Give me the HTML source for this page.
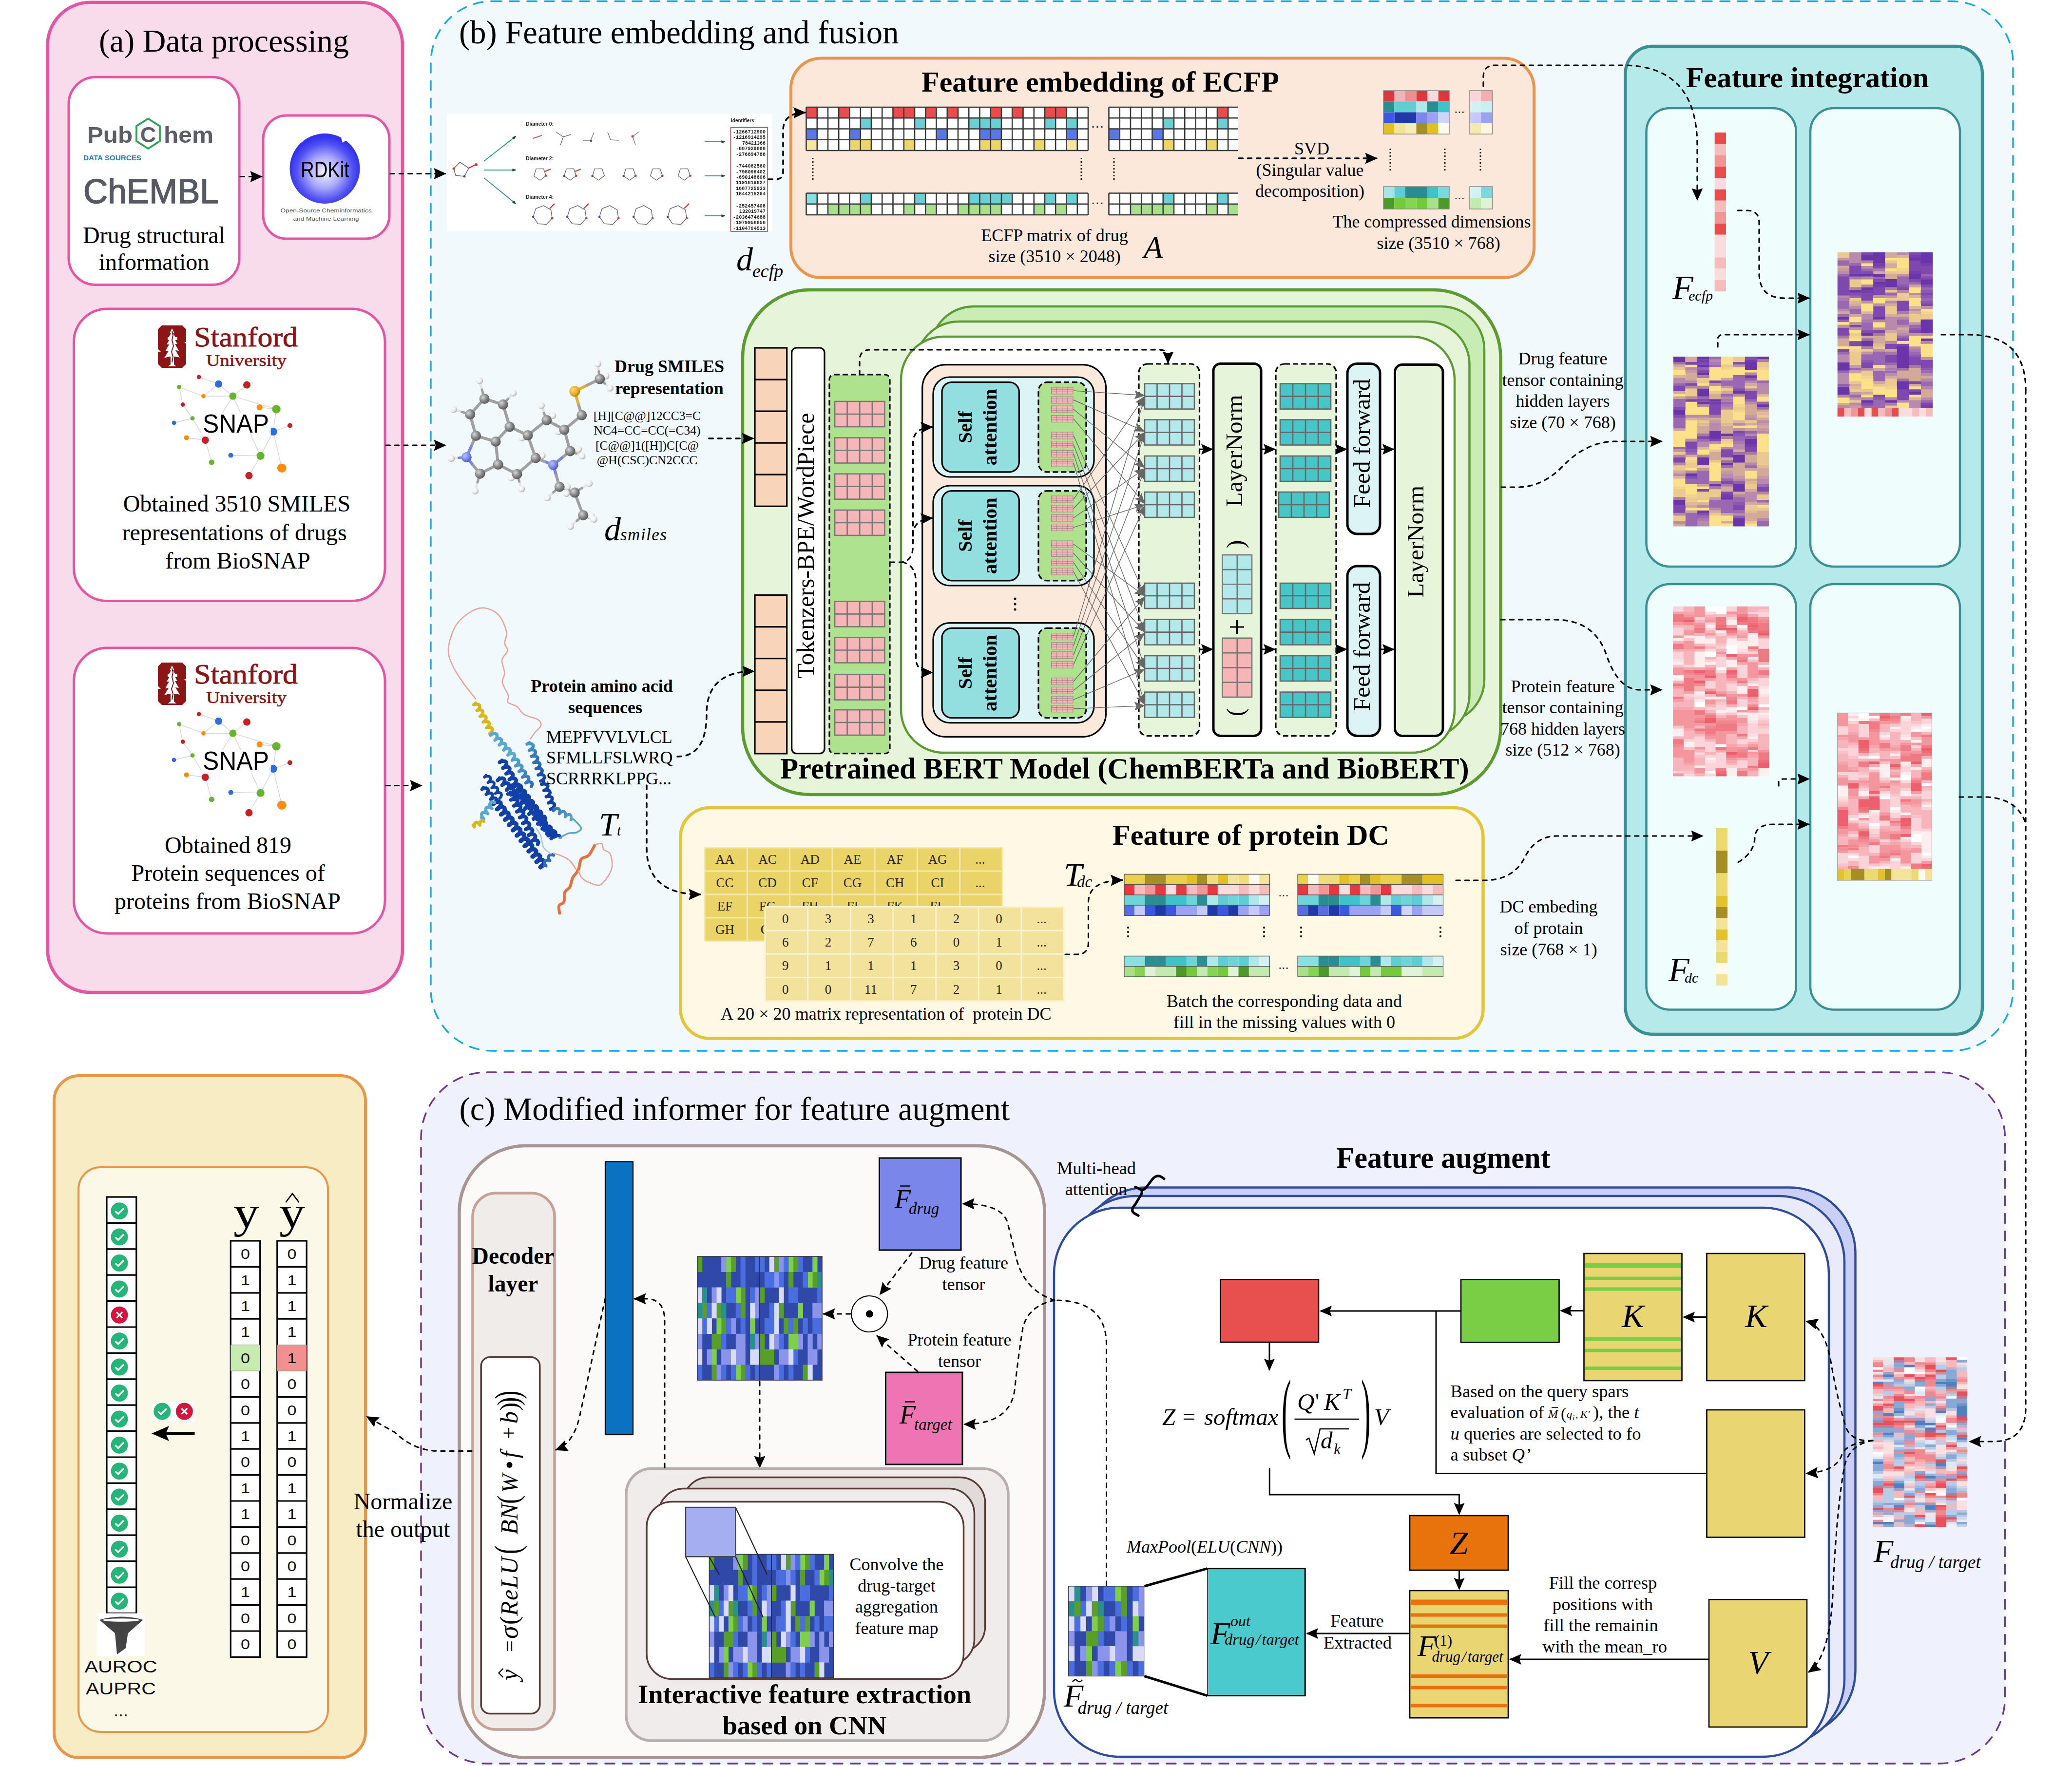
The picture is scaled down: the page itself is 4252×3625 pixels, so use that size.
<!DOCTYPE html>
<html><head><meta charset="utf-8"><title>Figure</title>
<style>html,body{margin:0;padding:0;background:#fff}svg{display:block}text{font-family:"Liberation Serif",serif;white-space:pre}text.s{font-family:"Liberation Sans",sans-serif}</style>
</head><body>
<svg width="4252" height="3625" viewBox="0 0 4252 3625">
<defs>
<marker id="ah" markerUnits="userSpaceOnUse" markerWidth="28" markerHeight="26" refX="23.5" refY="13" orient="auto"><path d="M0 1.5L25.5 13L0 24.5L3.5 13Z" fill="#000"/></marker>
<marker id="as" markerUnits="userSpaceOnUse" markerWidth="26" markerHeight="24" refX="23" refY="12" orient="auto"><path d="M0 1L25 12L0 23L4 12Z" fill="#000"/></marker>
<marker id="ag" markerUnits="userSpaceOnUse" markerWidth="24" markerHeight="20" refX="21" refY="10" orient="auto"><path d="M0 1L22 10L0 19L4 10Z" fill="#666"/></marker>
<filter id="bl" x="-5%" y="-5%" width="110%" height="110%"><feGaussianBlur stdDeviation="0.7"/></filter>
<radialGradient id="rdk" cx="0.5" cy="0.55" r="0.5"><stop offset="0" stop-color="#f4f4ff"/><stop offset="0.45" stop-color="#a9a9fb"/><stop offset="0.8" stop-color="#5252f3"/><stop offset="1" stop-color="#3434ee"/></radialGradient>
<radialGradient id="gc" cx="0.35" cy="0.35" r="0.7"><stop offset="0" stop-color="#d8d8d8"/><stop offset="0.5" stop-color="#8e8e8e"/><stop offset="1" stop-color="#555"/></radialGradient>
<radialGradient id="gh" cx="0.35" cy="0.35" r="0.7"><stop offset="0" stop-color="#fff"/><stop offset="0.6" stop-color="#ececec"/><stop offset="1" stop-color="#a8a8a8"/></radialGradient>
<radialGradient id="gn" cx="0.35" cy="0.35" r="0.7"><stop offset="0" stop-color="#b8c0ff"/><stop offset="0.6" stop-color="#7a86e8"/><stop offset="1" stop-color="#4a55b8"/></radialGradient>
<radialGradient id="gs" cx="0.35" cy="0.35" r="0.7"><stop offset="0" stop-color="#ffd870"/><stop offset="0.6" stop-color="#e8b030"/><stop offset="1" stop-color="#b88010"/></radialGradient>
</defs>
<rect width="4252" height="3625" fill="#fff"/>
<rect x="97.5" y="4.8" width="728.5" height="2032.2" rx="88" fill="#f9dcec" stroke="#e655a2" stroke-width="6.6" />
<text x="459.5" y="106" font-size="66" text-anchor="middle" >(a) Data processing</text>
<rect x="141" y="158.3" width="350" height="426.2" rx="55" fill="#fff" stroke="#e655a2" stroke-width="5" />
<rect x="540" y="237" width="259" height="253" rx="48" fill="#fff" stroke="#e655a2" stroke-width="5" />
<rect x="151.5" y="634" width="638.5" height="599.5" rx="68" fill="#fff" stroke="#e655a2" stroke-width="5" />
<rect x="151.5" y="1330" width="638.5" height="586" rx="68" fill="#fff" stroke="#e655a2" stroke-width="5" />
<text x="316" y="498.5" font-size="48" text-anchor="middle" >Drug structural</text>
<text x="316" y="553.5" font-size="48" text-anchor="middle" >information</text>
<text x="486" y="1050" font-size="48" text-anchor="middle" >Obtained 3510 SMILES</text>
<text x="481" y="1109" font-size="48" text-anchor="middle" >representations of drugs</text>
<text x="488" y="1166.5" font-size="48" text-anchor="middle" >from BioSNAP</text>
<text x="468" y="1751" font-size="48" text-anchor="middle" >Obtained 819</text>
<text x="468" y="1808" font-size="48" text-anchor="middle" >Protein sequences of</text>
<text x="467" y="1866" font-size="48" text-anchor="middle" >proteins from BioSNAP</text>
<text x="179" y="293" font-size="47" font-weight="bold" class="s" fill="#5b5e68" textLength="93" lengthAdjust="spacingAndGlyphs">Pub</text>
<text x="336" y="293" font-size="47" font-weight="bold" class="s" fill="#5b5e68" textLength="102" lengthAdjust="spacingAndGlyphs">hem</text>
<polygon points="328,289.7 304,305.1 280,289.7 280,258.9 304,243.5 328,258.9" fill="none" stroke="#2fa257" stroke-width="3.8"/>
<text x="304" y="291.5" font-size="45" text-anchor="middle" font-weight="bold" class="s" fill="#5b5e68" >C</text>
<text x="171" y="328.5" font-size="14.5" font-weight="bold" class="s" fill="#2a7fc0" textLength="119" lengthAdjust="spacingAndGlyphs">DATA SOURCES</text>
<text x="171" y="416.5" font-size="70" class="s" fill="#555a64" textLength="278" lengthAdjust="spacingAndGlyphs" stroke="#555a64" stroke-width="1.6">ChEMBL</text>
<circle cx="666.5" cy="346" r="72" fill="url(#rdk)"/>
<path d="M 700 283 Q 712 278 716 284 Q 708 290 703 293 Z" fill="#fff" stroke="none" stroke-width="0" />
<text x="667" y="364" font-size="47" text-anchor="middle" class="s" textLength="100" lengthAdjust="spacingAndGlyphs">RDKit</text>
<text x="669" y="436" font-size="10.5" text-anchor="middle" class="s" fill="#555" textLength="187" lengthAdjust="spacingAndGlyphs">Open-Source Cheminformatics</text>
<text x="669" y="453" font-size="10.5" text-anchor="middle" class="s" fill="#555" textLength="135" lengthAdjust="spacingAndGlyphs">and Machine Learning</text>
<g transform="translate(324,668)">
<path d="M8 0H50L58 8V34H40V24H20V30H50L58 38V79L50 87H8L0 79V54H18V64H38V56H8L0 48V8Z" fill="#8c1515"/>
<path d="M29 6L34 16L31 16L37 26L33 26L40 38L35 38L43 52L36 51L45 66L33 63L33 80L38 84H20L26 80L26 63L13 67L22 52L15 53L23 39L18 39L25 27L21 27L27 16L24 16Z" fill="#fff"/>
<path d="M29 12L31 20L29 30L32 42L28 54L31 64L29 76" fill="none" stroke="#8c1515" stroke-width="2"/>
</g>
<text x="398" y="710.5" font-size="58" fill="#8c1515" textLength="213" lengthAdjust="spacingAndGlyphs" stroke="#8c1515" stroke-width="0.9">Stanford</text>
<text x="423" y="751" font-size="33" fill="#8c1515" textLength="165" lengthAdjust="spacingAndGlyphs" stroke="#8c1515" stroke-width="0.6">University</text>
<path d="M408.1 773.8L448.6 788.2M367.6 794.4L417.4 813.1M417.4 813.1L448.6 788.2M417.4 813.1L477.9 813.1M477.9 813.1L506.5 790M367.6 794.4L375.1 830.5M477.9 813.1L567 839.9M357 867.9L395 858.6M395 858.6L375.1 830.5M532.7 836.1L567 839.9M560.7 886L595 873.5M560.7 886L567 839.9M382.6 898.4L421.2 903.4M421.2 903.4L434.3 948.9M421.2 903.4L395 858.6M473.5 934.6L534.6 935.8M534.6 935.8L510.9 976.3M534.6 935.8L560.7 886M560.7 886L578.2 960.7M477.9 813.1L421.2 903.4M477.9 813.1L534.6 935.8M448.6 788.2L477.9 813.1" fill="none" stroke="#d8d8d8" stroke-width="1.6" />
<circle cx="408.1" cy="773.8" r="4.4" fill="#c81e24"/>
<circle cx="448.6" cy="788.2" r="7.5" fill="#2d6fdc"/>
<circle cx="506.5" cy="790" r="7.5" fill="#c81e24"/>
<circle cx="367.6" cy="794.4" r="4.4" fill="#66b32e"/>
<circle cx="417.4" cy="813.1" r="4.4" fill="#ff8c0a"/>
<circle cx="477.9" cy="813.1" r="7.5" fill="#66b32e"/>
<circle cx="375.1" cy="830.5" r="4.4" fill="#c81e24"/>
<circle cx="532.7" cy="836.1" r="6.2" fill="#ff8c0a"/>
<circle cx="567" cy="839.9" r="8.7" fill="#66b32e"/>
<circle cx="357" cy="867.9" r="4.4" fill="#2d6fdc"/>
<circle cx="395" cy="858.6" r="4.4" fill="#66b32e"/>
<circle cx="595" cy="873.5" r="5" fill="#c81e24"/>
<circle cx="560.7" cy="886" r="8.1" fill="#2d6fdc"/>
<circle cx="382.6" cy="898.4" r="5" fill="#ff8c0a"/>
<circle cx="421.2" cy="903.4" r="7.5" fill="#c81e24"/>
<circle cx="473.5" cy="934.6" r="5" fill="#2d6fdc"/>
<circle cx="534.6" cy="935.8" r="8.1" fill="#66b32e"/>
<circle cx="434.3" cy="948.9" r="5.6" fill="#66b32e"/>
<circle cx="578.2" cy="960.7" r="9.3" fill="#ff8c0a"/>
<circle cx="510.9" cy="976.3" r="7.5" fill="#c81e24"/>
<rect x="412" y="848" width="144" height="46" fill="#fff" stroke="none" stroke-width="0" opacity="0.75"/>
<text x="416" y="888" font-size="54" class="s" textLength="136" lengthAdjust="spacingAndGlyphs">SNAP</text>
<g transform="translate(324,1360)">
<path d="M8 0H50L58 8V34H40V24H20V30H50L58 38V79L50 87H8L0 79V54H18V64H38V56H8L0 48V8Z" fill="#8c1515"/>
<path d="M29 6L34 16L31 16L37 26L33 26L40 38L35 38L43 52L36 51L45 66L33 63L33 80L38 84H20L26 80L26 63L13 67L22 52L15 53L23 39L18 39L25 27L21 27L27 16L24 16Z" fill="#fff"/>
<path d="M29 12L31 20L29 30L32 42L28 54L31 64L29 76" fill="none" stroke="#8c1515" stroke-width="2"/>
</g>
<text x="398" y="1402.5" font-size="58" fill="#8c1515" textLength="213" lengthAdjust="spacingAndGlyphs" stroke="#8c1515" stroke-width="0.9">Stanford</text>
<text x="423" y="1443" font-size="33" fill="#8c1515" textLength="165" lengthAdjust="spacingAndGlyphs" stroke="#8c1515" stroke-width="0.6">University</text>
<path d="M408.1 1465.8L448.6 1480.2M367.6 1486.4L417.4 1505.1M417.4 1505.1L448.6 1480.2M417.4 1505.1L477.9 1505.1M477.9 1505.1L506.5 1482M367.6 1486.4L375.1 1522.5M477.9 1505.1L567 1531.9M357 1559.9L395 1550.6M395 1550.6L375.1 1522.5M532.7 1528.1L567 1531.9M560.7 1578L595 1565.5M560.7 1578L567 1531.9M382.6 1590.4L421.2 1595.4M421.2 1595.4L434.3 1640.9M421.2 1595.4L395 1550.6M473.5 1626.6L534.6 1627.8M534.6 1627.8L510.9 1668.3M534.6 1627.8L560.7 1578M560.7 1578L578.2 1652.7M477.9 1505.1L421.2 1595.4M477.9 1505.1L534.6 1627.8M448.6 1480.2L477.9 1505.1" fill="none" stroke="#d8d8d8" stroke-width="1.6" />
<circle cx="408.1" cy="1465.8" r="4.4" fill="#c81e24"/>
<circle cx="448.6" cy="1480.2" r="7.5" fill="#2d6fdc"/>
<circle cx="506.5" cy="1482" r="7.5" fill="#c81e24"/>
<circle cx="367.6" cy="1486.4" r="4.4" fill="#66b32e"/>
<circle cx="417.4" cy="1505.1" r="4.4" fill="#ff8c0a"/>
<circle cx="477.9" cy="1505.1" r="7.5" fill="#66b32e"/>
<circle cx="375.1" cy="1522.5" r="4.4" fill="#c81e24"/>
<circle cx="532.7" cy="1528.1" r="6.2" fill="#ff8c0a"/>
<circle cx="567" cy="1531.9" r="8.7" fill="#66b32e"/>
<circle cx="357" cy="1559.9" r="4.4" fill="#2d6fdc"/>
<circle cx="395" cy="1550.6" r="4.4" fill="#66b32e"/>
<circle cx="595" cy="1565.5" r="5" fill="#c81e24"/>
<circle cx="560.7" cy="1578" r="8.1" fill="#2d6fdc"/>
<circle cx="382.6" cy="1590.4" r="5" fill="#ff8c0a"/>
<circle cx="421.2" cy="1595.4" r="7.5" fill="#c81e24"/>
<circle cx="473.5" cy="1626.6" r="5" fill="#2d6fdc"/>
<circle cx="534.6" cy="1627.8" r="8.1" fill="#66b32e"/>
<circle cx="434.3" cy="1640.9" r="5.6" fill="#66b32e"/>
<circle cx="578.2" cy="1652.7" r="9.3" fill="#ff8c0a"/>
<circle cx="510.9" cy="1668.3" r="7.5" fill="#c81e24"/>
<rect x="412" y="1540" width="144" height="46" fill="#fff" stroke="none" stroke-width="0" opacity="0.75"/>
<text x="416" y="1580" font-size="54" class="s" textLength="136" lengthAdjust="spacingAndGlyphs">SNAP</text>
<rect x="884" y="2.5" width="3247" height="2154.5" rx="126" fill="#f1f9fc" stroke="#0faaeb" stroke-width="3.4" stroke-dasharray="19 17" stroke-linecap="round"/>
<text x="942" y="88.5" font-size="66.6" >(b) Feature embedding and fusion</text>
<path d="M493 362.5H537" fill="none" stroke="#000" stroke-width="3.2" stroke-dasharray="8.3 10" stroke-linecap="round" marker-end="url(#ah)"/>
<path d="M801 356.5H914" fill="none" stroke="#000" stroke-width="3.2" stroke-dasharray="8.3 10" stroke-linecap="round" marker-end="url(#ah)"/>
<path d="M792 914H914" fill="none" stroke="#000" stroke-width="3.2" stroke-dasharray="8.3 10" stroke-linecap="round" marker-end="url(#ah)"/>
<path d="M792 1612.5H865" fill="none" stroke="#000" stroke-width="3.2" stroke-dasharray="8.3 10" stroke-linecap="round" marker-end="url(#ah)"/>
<rect x="917" y="234" width="667" height="241" fill="#fff" stroke="none" stroke-width="0" />
<g filter="url(#bl)">
<path d="M931 346 L944 333 L962 345 L953 362 L935 360 Z" fill="none" stroke="#666" stroke-width="1.6" />
<path d="M962 345 L976 338" fill="none" stroke="#d33" stroke-width="2.5" />
<circle cx="931" cy="346" r="2.5" fill="#d33"/><circle cx="953" cy="362" r="2.5" fill="#44a"/><circle cx="977" cy="338" r="3" fill="#d33"/>
<g stroke="#2a9d8f" stroke-width="2" fill="#2a9d8f">
<line x1="993" y1="331" x2="1058" y2="280"/>
<polygon points="1059.6,278.8 1054.8,286.4 1051,281.6" stroke="none" fill="#1d3a3a"/>
<line x1="993" y1="349" x2="1058" y2="349"/>
<polygon points="1060,349 1051.5,352.1 1051.5,345.9" stroke="none" fill="#1d3a3a"/>
<line x1="993" y1="365" x2="1058" y2="418"/>
<polygon points="1059.6,419.3 1051,416.3 1054.9,411.5" stroke="none" fill="#1d3a3a"/>
<line x1="1446" y1="291" x2="1487" y2="291"/>
<polygon points="1489,291 1480.5,294.1 1480.5,287.9" stroke="none" fill="#1d3a3a"/>
<line x1="1446" y1="361" x2="1487" y2="361"/>
<polygon points="1489,361 1480.5,364.1 1480.5,357.9" stroke="none" fill="#1d3a3a"/>
<line x1="1446" y1="443" x2="1487" y2="443"/>
<polygon points="1489,443 1480.5,446.1 1480.5,439.9" stroke="none" fill="#1d3a3a"/>
</g>
<text x="1079" y="257.5" font-size="10.5" font-weight="bold" class="s" fill="#222" >Diameter 0:</text>
<text x="1079" y="328.5" font-size="10.5" font-weight="bold" class="s" fill="#222" >Diameter 2:</text>
<text x="1079" y="408" font-size="10.5" font-weight="bold" class="s" fill="#222" >Diameter 4:</text>
<text x="1500" y="251" font-size="10" font-weight="bold" class="s" fill="#222" >Identifiers:</text>
<path d="M1094 284L1112 278" fill="none" stroke="#d55" stroke-width="2" />
<path d="M1141 271L1156 281L1172 276M1156 281L1150 298" fill="none" stroke="#666" stroke-width="1.4" />
<path d="M1196 288L1212 288L1219 272" fill="none" stroke="#778" stroke-width="1.4" />
<circle cx="1213" cy="289" r="2.3" fill="#44a"/>
<path d="M1247 271L1253 287L1270 288" fill="none" stroke="#777" stroke-width="1.4" />
<path d="M1312 270L1298 280L1304 297" fill="none" stroke="#777" stroke-width="1.4" />
<circle cx="1298" cy="280" r="2.5" fill="#d33"/>
<path d="M1120.4 360.8 L1108.2 370 L1095.7 361.2 L1100.2 346.6 L1115.5 346.4Z" fill="none" stroke="#666" stroke-width="1.4" />
<circle cx="1120.4" cy="360.8" r="2.3" fill="#d33"/>
<path d="M1118 352L1130 347" fill="none" stroke="#d33" stroke-width="2.2" />
<path d="M1182.4 360.8 L1170.2 370 L1157.7 361.2 L1162.2 346.6 L1177.5 346.4Z" fill="none" stroke="#666" stroke-width="1.4" />
<circle cx="1182.4" cy="360.8" r="2.3" fill="#d33"/>
<circle cx="1157.7" cy="361.2" r="2.3" fill="#44a"/>
<path d="M1180 352L1192 347" fill="none" stroke="#d33" stroke-width="2.2" />
<path d="M1240.4 360.8 L1228.2 370 L1215.7 361.2 L1220.2 346.6 L1235.5 346.4Z" fill="none" stroke="#666" stroke-width="1.4" />
<circle cx="1215.7" cy="361.2" r="2.3" fill="#44a"/>
<path d="M1304.4 360.8 L1292.2 370 L1279.7 361.2 L1284.2 346.6 L1299.5 346.4Z" fill="none" stroke="#666" stroke-width="1.4" />
<circle cx="1304.4" cy="360.8" r="2.3" fill="#d33"/>
<circle cx="1279.7" cy="361.2" r="2.3" fill="#44a"/>
<path d="M1359.4 360.8 L1347.2 370 L1334.7 361.2 L1339.2 346.6 L1354.5 346.4Z" fill="none" stroke="#666" stroke-width="1.4" />
<circle cx="1359.4" cy="360.8" r="2.3" fill="#d33"/>
<path d="M1416.4 360.8 L1404.2 370 L1391.7 361.2 L1396.2 346.6 L1411.5 346.4Z" fill="none" stroke="#666" stroke-width="1.4" />
<circle cx="1416.4" cy="360.8" r="2.3" fill="#d33"/>
<path d="M1133.1 447.9 L1121.3 460.6 L1104 459.3 L1094.2 445 L1099.3 428.4 L1115.5 422.1 L1130.5 430.7Z" fill="none" stroke="#666" stroke-width="1.4" />
<circle cx="1133.1" cy="447.9" r="2.3" fill="#d33"/>
<circle cx="1094.2" cy="445" r="2.3" fill="#44a"/>
<path d="M1128 428L1138 418" fill="none" stroke="#d33" stroke-width="2.4" />
<path d="M1203.1 447.9 L1191.3 460.6 L1174 459.3 L1164.2 445 L1169.3 428.4 L1185.5 422.1 L1200.5 430.7Z" fill="none" stroke="#666" stroke-width="1.4" />
<circle cx="1203.1" cy="447.9" r="2.3" fill="#d33"/>
<circle cx="1164.2" cy="445" r="2.3" fill="#44a"/>
<path d="M1198 428L1208 418" fill="none" stroke="#d33" stroke-width="2.4" />
<path d="M1269.1 447.9 L1257.3 460.6 L1240 459.3 L1230.2 445 L1235.3 428.4 L1251.5 422.1 L1266.5 430.7Z" fill="none" stroke="#666" stroke-width="1.4" />
<circle cx="1269.1" cy="447.9" r="2.3" fill="#d33"/>
<circle cx="1230.2" cy="445" r="2.3" fill="#44a"/>
<path d="M1339.1 447.9 L1327.3 460.6 L1310 459.3 L1300.2 445 L1305.3 428.4 L1321.5 422.1 L1336.5 430.7Z" fill="none" stroke="#666" stroke-width="1.4" />
<circle cx="1339.1" cy="447.9" r="2.3" fill="#d33"/>
<circle cx="1300.2" cy="445" r="2.3" fill="#44a"/>
<path d="M1409.1 447.9 L1397.3 460.6 L1380 459.3 L1370.2 445 L1375.3 428.4 L1391.5 422.1 L1406.5 430.7Z" fill="none" stroke="#666" stroke-width="1.4" />
<circle cx="1409.1" cy="447.9" r="2.3" fill="#d33"/>
<circle cx="1370.2" cy="445" r="2.3" fill="#44a"/>
<path d="M1404 428L1414 418" fill="none" stroke="#d33" stroke-width="2.4" />
<rect x="1499.5" y="261.5" width="75.5" height="213.5" fill="#fff" stroke="#e33" stroke-width="1.6" />
<text x="1571" y="273.5" font-size="10" text-anchor="end" font-weight="bold" class="s" fill="#222" textLength="67" lengthAdjust="spacingAndGlyphs" style="font-family:Liberation Mono">-1266712900</text>
<text x="1571" y="285" font-size="10" text-anchor="end" font-weight="bold" class="s" fill="#222" textLength="67" lengthAdjust="spacingAndGlyphs" style="font-family:Liberation Mono">-1216914295</text>
<text x="1571" y="296.5" font-size="10" text-anchor="end" font-weight="bold" class="s" fill="#222" textLength="48" lengthAdjust="spacingAndGlyphs" style="font-family:Liberation Mono">78421366</text>
<text x="1571" y="308" font-size="10" text-anchor="end" font-weight="bold" class="s" fill="#222" textLength="61" lengthAdjust="spacingAndGlyphs" style="font-family:Liberation Mono">-887929888</text>
<text x="1571" y="319.5" font-size="10" text-anchor="end" font-weight="bold" class="s" fill="#222" textLength="61" lengthAdjust="spacingAndGlyphs" style="font-family:Liberation Mono">-276894788</text>
<text x="1571" y="344" font-size="10" text-anchor="end" font-weight="bold" class="s" fill="#222" textLength="61" lengthAdjust="spacingAndGlyphs" style="font-family:Liberation Mono">-744082560</text>
<text x="1571" y="355.5" font-size="10" text-anchor="end" font-weight="bold" class="s" fill="#222" textLength="61" lengthAdjust="spacingAndGlyphs" style="font-family:Liberation Mono">-798098402</text>
<text x="1571" y="366.5" font-size="10" text-anchor="end" font-weight="bold" class="s" fill="#222" textLength="61" lengthAdjust="spacingAndGlyphs" style="font-family:Liberation Mono">-690148606</text>
<text x="1571" y="378" font-size="10" text-anchor="end" font-weight="bold" class="s" fill="#222" textLength="61" lengthAdjust="spacingAndGlyphs" style="font-family:Liberation Mono">1191819827</text>
<text x="1571" y="389.5" font-size="10" text-anchor="end" font-weight="bold" class="s" fill="#222" textLength="61" lengthAdjust="spacingAndGlyphs" style="font-family:Liberation Mono">1687725933</text>
<text x="1571" y="401" font-size="10" text-anchor="end" font-weight="bold" class="s" fill="#222" textLength="61" lengthAdjust="spacingAndGlyphs" style="font-family:Liberation Mono">1844215264</text>
<text x="1571" y="425.5" font-size="10" text-anchor="end" font-weight="bold" class="s" fill="#222" textLength="61" lengthAdjust="spacingAndGlyphs" style="font-family:Liberation Mono">-252457408</text>
<text x="1571" y="437" font-size="10" text-anchor="end" font-weight="bold" class="s" fill="#222" textLength="54" lengthAdjust="spacingAndGlyphs" style="font-family:Liberation Mono">132019747</text>
<text x="1571" y="448.5" font-size="10" text-anchor="end" font-weight="bold" class="s" fill="#222" textLength="67" lengthAdjust="spacingAndGlyphs" style="font-family:Liberation Mono">-2036474688</text>
<text x="1571" y="459.5" font-size="10" text-anchor="end" font-weight="bold" class="s" fill="#222" textLength="67" lengthAdjust="spacingAndGlyphs" style="font-family:Liberation Mono">-1979958858</text>
<text x="1571" y="471.5" font-size="10" text-anchor="end" font-weight="bold" class="s" fill="#222" textLength="67" lengthAdjust="spacingAndGlyphs" style="font-family:Liberation Mono">-1104704513</text>
</g>
<text x="1511" y="555" font-size="68" font-style="italic" >d</text>
<text x="1544" y="569" font-size="38" font-style="italic" >ecfp</text>
<rect x="1623" y="119.5" width="1525" height="450.5" rx="62" fill="#fbe8da" stroke="#e9964a" stroke-width="6" />
<text x="2258" y="188" font-size="60" text-anchor="middle" font-weight="bold" >Feature embedding of ECFP</text>
<rect x="1654.5" y="220" width="578.5" height="89" fill="#fff" stroke="none" stroke-width="0" />
<path d="M1654.5 220h22.2v22.2h-22.2zM1721.2 220h22.2v22.2h-22.2zM1832.5 220h22.2v22.2h-22.2zM1854.8 220h22.2v22.2h-22.2zM1899.2 220h22.2v22.2h-22.2zM1943.8 220h22.2v22.2h-22.2zM2032.8 220h22.2v22.2h-22.2zM2077.2 220h22.2v22.2h-22.2zM2144 220h22.2v22.2h-22.2zM2166.2 220h22.2v22.2h-22.2z" fill="#e84c4c"/>
<path d="M1765.8 242.2h22.2v22.2h-22.2zM1877 242.2h22.2v22.2h-22.2zM1988.2 242.2h22.2v22.2h-22.2zM2010.5 242.2h22.2v22.2h-22.2zM2032.8 242.2h22.2v22.2h-22.2zM2144 242.2h22.2v22.2h-22.2zM2188.5 242.2h22.2v22.2h-22.2z" fill="#6ad0d4"/>
<path d="M1654.5 264.5h22.2v22.2h-22.2zM1743.5 264.5h22.2v22.2h-22.2zM1921.5 264.5h22.2v22.2h-22.2zM2010.5 264.5h22.2v22.2h-22.2zM2032.8 264.5h22.2v22.2h-22.2zM2188.5 264.5h22.2v22.2h-22.2z" fill="#5b78e0"/>
<path d="M1654.5 286.8h22.2v22.2h-22.2zM2188.5 286.8h22.2v22.2h-22.2z" fill="#f5e6a3"/>
<path d="M1743.5 286.8h22.2v22.2h-22.2zM1765.8 286.8h22.2v22.2h-22.2zM1854.8 286.8h22.2v22.2h-22.2zM2010.5 286.8h22.2v22.2h-22.2zM2032.8 286.8h22.2v22.2h-22.2zM2121.8 286.8h22.2v22.2h-22.2z" fill="#ecd56a"/>
<path d="M1654.5 220v89M1676.8 220v89M1699 220v89M1721.2 220v89M1743.5 220v89M1765.8 220v89M1788 220v89M1810.2 220v89M1832.5 220v89M1854.8 220v89M1877 220v89M1899.2 220v89M1921.5 220v89M1943.8 220v89M1966 220v89M1988.2 220v89M2010.5 220v89M2032.8 220v89M2055 220v89M2077.2 220v89M2099.5 220v89M2121.8 220v89M2144 220v89M2166.2 220v89M2188.5 220v89M2210.8 220v89M2233 220v89M1654.5 220h578.5M1654.5 242.2h578.5M1654.5 264.5h578.5M1654.5 286.8h578.5M1654.5 309h578.5" fill="none" stroke="#3a3a3a" stroke-width="2.6" />
<rect x="2275.5" y="220" width="267" height="89" fill="#fff" stroke="none" stroke-width="0" />
<path d="M2498 220h22.2v22.2h-22.2z" fill="#e84c4c"/>
<path d="M2386.8 242.2h22.2v22.2h-22.2zM2498 242.2h22.2v22.2h-22.2z" fill="#6ad0d4"/>
<path d="M2275.5 264.5h22.2v22.2h-22.2zM2364.5 264.5h22.2v22.2h-22.2z" fill="#5b78e0"/>
<path d="M2386.8 286.8h22.2v22.2h-22.2zM2475.8 286.8h22.2v22.2h-22.2z" fill="#ecd56a"/>
<path d="M2275.5 220v89M2297.8 220v89M2320 220v89M2342.2 220v89M2364.5 220v89M2386.8 220v89M2409 220v89M2431.2 220v89M2453.5 220v89M2475.8 220v89M2498 220v89M2520.2 220v89M2542.5 220v89M2275.5 220h267M2275.5 242.2h267M2275.5 264.5h267M2275.5 286.8h267M2275.5 309h267" fill="none" stroke="#3a3a3a" stroke-width="2.6" />
<rect x="1654.5" y="396.5" width="578.5" height="44.5" fill="#fff" stroke="none" stroke-width="0" />
<path d="M1654.5 396.5h22.2v22.2h-22.2z" fill="#8adfe0"/>
<path d="M1765.8 396.5h22.2v22.2h-22.2zM1877 396.5h22.2v22.2h-22.2zM1988.2 396.5h22.2v22.2h-22.2zM2010.5 396.5h22.2v22.2h-22.2zM2032.8 396.5h22.2v22.2h-22.2zM2055 396.5h22.2v22.2h-22.2zM2144 396.5h22.2v22.2h-22.2zM2188.5 396.5h22.2v22.2h-22.2z" fill="#6ad0d4"/>
<path d="M1699 418.8h22.2v22.2h-22.2zM1721.2 418.8h22.2v22.2h-22.2zM1743.5 418.8h22.2v22.2h-22.2zM1765.8 418.8h22.2v22.2h-22.2zM1854.8 418.8h22.2v22.2h-22.2zM1899.2 418.8h22.2v22.2h-22.2zM1966 418.8h22.2v22.2h-22.2zM1988.2 418.8h22.2v22.2h-22.2zM2010.5 418.8h22.2v22.2h-22.2zM2032.8 418.8h22.2v22.2h-22.2zM2121.8 418.8h22.2v22.2h-22.2zM2166.2 418.8h22.2v22.2h-22.2z" fill="#a8e08c"/>
<path d="M1654.5 396.5v44.5M1676.8 396.5v44.5M1699 396.5v44.5M1721.2 396.5v44.5M1743.5 396.5v44.5M1765.8 396.5v44.5M1788 396.5v44.5M1810.2 396.5v44.5M1832.5 396.5v44.5M1854.8 396.5v44.5M1877 396.5v44.5M1899.2 396.5v44.5M1921.5 396.5v44.5M1943.8 396.5v44.5M1966 396.5v44.5M1988.2 396.5v44.5M2010.5 396.5v44.5M2032.8 396.5v44.5M2055 396.5v44.5M2077.2 396.5v44.5M2099.5 396.5v44.5M2121.8 396.5v44.5M2144 396.5v44.5M2166.2 396.5v44.5M2188.5 396.5v44.5M2210.8 396.5v44.5M2233 396.5v44.5M1654.5 396.5h578.5M1654.5 418.8h578.5M1654.5 441h578.5" fill="none" stroke="#3a3a3a" stroke-width="2.6" />
<rect x="2275.5" y="396.5" width="267" height="44.5" fill="#fff" stroke="none" stroke-width="0" />
<path d="M2386.8 396.5h22.2v22.2h-22.2zM2498 396.5h22.2v22.2h-22.2z" fill="#6ad0d4"/>
<path d="M2320 418.8h22.2v22.2h-22.2zM2342.2 418.8h22.2v22.2h-22.2zM2364.5 418.8h22.2v22.2h-22.2zM2386.8 418.8h22.2v22.2h-22.2zM2475.8 418.8h22.2v22.2h-22.2zM2520.2 418.8h22.2v22.2h-22.2z" fill="#a8e08c"/>
<path d="M2275.5 396.5v44.5M2297.8 396.5v44.5M2320 396.5v44.5M2342.2 396.5v44.5M2364.5 396.5v44.5M2386.8 396.5v44.5M2409 396.5v44.5M2431.2 396.5v44.5M2453.5 396.5v44.5M2475.8 396.5v44.5M2498 396.5v44.5M2520.2 396.5v44.5M2542.5 396.5v44.5M2275.5 396.5h267M2275.5 418.8h267M2275.5 441h267" fill="none" stroke="#3a3a3a" stroke-width="2.6" />
<rect x="2541" y="215" width="7" height="232" fill="#fbe8da" stroke="none" stroke-width="0" />
<text x="2239" y="262" font-size="30" class="s" fill="#333" textLength="26">...</text>
<text x="2239" y="419" font-size="30" class="s" fill="#333" textLength="26">...</text>
<path d="M1668 324V372" fill="none" stroke="#222" stroke-width="3" stroke-dasharray="3 4"/>
<path d="M2219 324V372" fill="none" stroke="#222" stroke-width="3" stroke-dasharray="3 4"/>
<path d="M2286 324V372" fill="none" stroke="#222" stroke-width="3" stroke-dasharray="3 4"/>
<text x="2692" y="317" font-size="36" text-anchor="middle" >SVD</text>
<path d="M2542 325H2825" fill="none" stroke="#000" stroke-width="3.5" stroke-dasharray="8.3 10" stroke-linecap="round" marker-end="url(#ah)"/>
<text x="2688" y="361" font-size="36" text-anchor="middle" >(Singular value</text>
<text x="2688" y="403.5" font-size="36" text-anchor="middle" >decomposition)</text>
<path d="M2839 186h22.5v22.3h-22.5zM2906.5 186h22.5v22.3h-22.5zM2951.5 186h22.5v22.3h-22.5z" fill="#e0373e"/>
<path d="M2861.5 186h22.5v22.3h-22.5z" fill="#f3b4b8"/>
<path d="M2884 186h22.5v22.3h-22.5z" fill="#ee8e93"/>
<path d="M2929 186h22.5v22.3h-22.5z" fill="#f9d9dc"/>
<path d="M2839 208.3h22.5v22.3h-22.5zM2929 208.3h22.5v22.3h-22.5z" fill="#2a8d92"/>
<path d="M2861.5 208.3h22.5v22.3h-22.5zM2884 208.3h22.5v22.3h-22.5z" fill="#62cdd3"/>
<path d="M2906.5 208.3h22.5v22.3h-22.5z" fill="#aee8ea"/>
<path d="M2951.5 208.3h22.5v22.3h-22.5z" fill="#3fc3c8"/>
<path d="M2839 230.6h22.5v22.3h-22.5z" fill="#3c57e0"/>
<path d="M2861.5 230.6h22.5v22.3h-22.5zM2884 230.6h22.5v22.3h-22.5z" fill="#2139a8"/>
<path d="M2906.5 230.6h22.5v22.3h-22.5z" fill="#7d87ea"/>
<path d="M2929 230.6h22.5v22.3h-22.5z" fill="#9ba3f0"/>
<path d="M2951.5 230.6h22.5v22.3h-22.5z" fill="#d0d4fa"/>
<path d="M2839 252.9h22.5v22.3h-22.5zM2929 252.9h22.5v22.3h-22.5z" fill="#e3c022"/>
<path d="M2861.5 252.9h22.5v22.3h-22.5z" fill="#f3e49a"/>
<path d="M2884 252.9h22.5v22.3h-22.5z" fill="#f6edbb"/>
<path d="M2906.5 252.9h22.5v22.3h-22.5z" fill="#a58e24"/>
<path d="M2951.5 252.9h22.5v22.3h-22.5z" fill="#fdfbee"/>
<rect x="2839" y="186" width="135" height="89.2" fill="none" stroke="#888" stroke-width="1.5" />
<path d="M3016 186h23.2v22.3h-23.2z" fill="#f9d4d8"/>
<path d="M3039.2 186h23.2v22.3h-23.2z" fill="#f3adb3"/>
<path d="M3016 208.3h23.2v22.3h-23.2z" fill="#d3f1f3"/>
<path d="M3039.2 208.3h23.2v22.3h-23.2z" fill="#c9f0f1"/>
<path d="M3016 230.6h23.2v22.3h-23.2z" fill="#c5c9f8"/>
<path d="M3039.2 230.6h23.2v22.3h-23.2z" fill="#9ba3f0"/>
<path d="M3016 252.9h23.2v22.3h-23.2z" fill="#f6e9ae"/>
<path d="M3039.2 252.9h23.2v22.3h-23.2z" fill="#fbf7e0"/>
<rect x="3016" y="186" width="46.4" height="89.2" fill="none" stroke="#888" stroke-width="1.5" />
<path d="M2839 383h22.5v23h-22.5z" fill="#a5e5e8"/>
<path d="M2861.5 383h22.5v23h-22.5z" fill="#5fcdd3"/>
<path d="M2884 383h22.5v23h-22.5zM2906.5 383h22.5v23h-22.5z" fill="#2a8d92"/>
<path d="M2929 383h22.5v23h-22.5z" fill="#3fc3c8"/>
<path d="M2951.5 383h22.5v23h-22.5z" fill="#7ad9dc"/>
<path d="M2839 406h22.5v23h-22.5zM2951.5 406h22.5v23h-22.5z" fill="#4c9a2a"/>
<path d="M2861.5 406h22.5v23h-22.5zM2906.5 406h22.5v23h-22.5z" fill="#73cb3b"/>
<path d="M2884 406h22.5v23h-22.5z" fill="#85d553"/>
<path d="M2929 406h22.5v23h-22.5z" fill="#a8e08c"/>
<rect x="2839" y="383" width="135" height="46" fill="none" stroke="#888" stroke-width="1.5" />
<path d="M3016 383h23.2v23h-23.2z" fill="#d3f1f3"/>
<path d="M3039.2 383h23.2v23h-23.2z" fill="#7ad9dc"/>
<path d="M3016 406h23.2v23h-23.2z" fill="#c3ebb0"/>
<path d="M3039.2 406h23.2v23h-23.2z" fill="#dff3d5"/>
<rect x="3016" y="383" width="46.4" height="46" fill="none" stroke="#888" stroke-width="1.5" />
<text x="2995" y="232" font-size="28" text-anchor="middle" class="s" fill="#333" textLength="22">...</text>
<text x="2995" y="409" font-size="28" text-anchor="middle" class="s" fill="#333" textLength="22">...</text>
<path d="M2853 305V352" fill="none" stroke="#222" stroke-width="3" stroke-dasharray="3 4"/>
<path d="M2965 305V352" fill="none" stroke="#222" stroke-width="3" stroke-dasharray="3 4"/>
<path d="M3038 305V352" fill="none" stroke="#222" stroke-width="3" stroke-dasharray="3 4"/>
<text x="2938" y="467" font-size="36" text-anchor="middle" textLength="407">The compressed dimensions</text>
<text x="2952" y="510.5" font-size="36" text-anchor="middle" >size (3510 × 768)</text>
<text x="2164" y="495" font-size="36" text-anchor="middle" >ECFP matrix of drug</text>
<text x="2164" y="538" font-size="36" text-anchor="middle" >size (3510 × 2048)</text>
<text x="2347" y="529" font-size="64" font-style="italic" >A</text>
<path d="M1577 368H1592Q1607 368 1607 353V268Q1607 232 1652 231" fill="none" stroke="#000" stroke-width="3.5" stroke-dasharray="8.3 10" stroke-linecap="round" marker-end="url(#ah)"/>
<g stroke-linecap="round">
<line x1="994.1" y1="818.5" x2="1013.2" y2="824.4" stroke="#a0a0a0" stroke-width="6"/>
<line x1="1013.2" y1="824.4" x2="1032.3" y2="830.3" stroke="#a0a0a0" stroke-width="6"/>
<line x1="994.1" y1="818.5" x2="979.4" y2="834.6" stroke="#a0a0a0" stroke-width="6"/>
<line x1="979.4" y1="834.6" x2="964.7" y2="850.6" stroke="#a0a0a0" stroke-width="6"/>
<line x1="964.7" y1="850.6" x2="970.6" y2="872.6" stroke="#a0a0a0" stroke-width="6"/>
<line x1="970.6" y1="872.6" x2="976.6" y2="894.5" stroke="#a0a0a0" stroke-width="6"/>
<line x1="976.6" y1="894.5" x2="996.8" y2="900.4" stroke="#a0a0a0" stroke-width="6"/>
<line x1="996.8" y1="900.4" x2="1017.1" y2="906.4" stroke="#a0a0a0" stroke-width="6"/>
<line x1="1017.1" y1="906.4" x2="1031.5" y2="891.1" stroke="#a0a0a0" stroke-width="6"/>
<line x1="1031.5" y1="891.1" x2="1045.8" y2="875.9" stroke="#a0a0a0" stroke-width="6"/>
<line x1="1045.8" y1="875.9" x2="1039.1" y2="853.1" stroke="#a0a0a0" stroke-width="6"/>
<line x1="1039.1" y1="853.1" x2="1032.3" y2="830.3" stroke="#a0a0a0" stroke-width="6"/>
<line x1="1045.8" y1="875.9" x2="1064.4" y2="884.7" stroke="#a0a0a0" stroke-width="6"/>
<line x1="1064.4" y1="884.7" x2="1083" y2="893.5" stroke="#a0a0a0" stroke-width="6"/>
<line x1="976.6" y1="894.5" x2="966.9" y2="916.5" stroke="#a0a0a0" stroke-width="6"/>
<line x1="966.9" y1="916.5" x2="957.3" y2="938.4" stroke="#7a86e8" stroke-width="6"/>
<line x1="957.3" y1="938.4" x2="971.1" y2="955.3" stroke="#7a86e8" stroke-width="6"/>
<line x1="971.1" y1="955.3" x2="985" y2="972.2" stroke="#a0a0a0" stroke-width="6"/>
<line x1="985" y1="972.2" x2="1003.6" y2="962.9" stroke="#a0a0a0" stroke-width="6"/>
<line x1="1003.6" y1="962.9" x2="1022.2" y2="953.6" stroke="#a0a0a0" stroke-width="6"/>
<line x1="1022.2" y1="953.6" x2="1019.6" y2="930" stroke="#a0a0a0" stroke-width="6"/>
<line x1="1019.6" y1="930" x2="1017.1" y2="906.4" stroke="#a0a0a0" stroke-width="6"/>
<line x1="1022.2" y1="953.6" x2="1041.6" y2="963.4" stroke="#a0a0a0" stroke-width="6"/>
<line x1="1041.6" y1="963.4" x2="1061" y2="973.2" stroke="#a0a0a0" stroke-width="6"/>
<line x1="1061" y1="973.2" x2="1080.1" y2="956.7" stroke="#a0a0a0" stroke-width="6"/>
<line x1="1080.1" y1="956.7" x2="1099.2" y2="940.1" stroke="#a0a0a0" stroke-width="6"/>
<line x1="1099.2" y1="940.1" x2="1091.1" y2="916.8" stroke="#a0a0a0" stroke-width="6"/>
<line x1="1091.1" y1="916.8" x2="1083" y2="893.5" stroke="#a0a0a0" stroke-width="6"/>
<line x1="1083" y1="893.5" x2="1102.4" y2="878" stroke="#a0a0a0" stroke-width="6"/>
<line x1="1102.4" y1="878" x2="1121.8" y2="862.4" stroke="#a0a0a0" stroke-width="6"/>
<line x1="1121.8" y1="862.4" x2="1139.9" y2="872.2" stroke="#a0a0a0" stroke-width="6"/>
<line x1="1139.9" y1="872.2" x2="1158" y2="882" stroke="#a0a0a0" stroke-width="6"/>
<line x1="1158" y1="882" x2="1164.1" y2="904" stroke="#a0a0a0" stroke-width="6"/>
<line x1="1164.1" y1="904" x2="1170.1" y2="925.9" stroke="#a0a0a0" stroke-width="6"/>
<line x1="1170.1" y1="925.9" x2="1152.7" y2="940.1" stroke="#a0a0a0" stroke-width="6"/>
<line x1="1152.7" y1="940.1" x2="1135.3" y2="954.3" stroke="#7a86e8" stroke-width="6"/>
<line x1="1135.3" y1="954.3" x2="1117.3" y2="947.2" stroke="#7a86e8" stroke-width="6"/>
<line x1="1117.3" y1="947.2" x2="1099.2" y2="940.1" stroke="#a0a0a0" stroke-width="6"/>
<line x1="1158" y1="882" x2="1175.9" y2="867.2" stroke="#a0a0a0" stroke-width="6"/>
<line x1="1175.9" y1="867.2" x2="1193.8" y2="852.3" stroke="#a0a0a0" stroke-width="6"/>
<line x1="1193.8" y1="852.3" x2="1186.5" y2="827.8" stroke="#a0a0a0" stroke-width="6"/>
<line x1="1186.5" y1="827.8" x2="1179.3" y2="803.3" stroke="#e8b030" stroke-width="6"/>
<line x1="1179.3" y1="803.3" x2="1205.1" y2="790.6" stroke="#e8b030" stroke-width="6"/>
<line x1="1205.1" y1="790.6" x2="1230.9" y2="778" stroke="#a0a0a0" stroke-width="6"/>
<line x1="1135.3" y1="954.3" x2="1141.8" y2="976.8" stroke="#7a86e8" stroke-width="6"/>
<line x1="1141.8" y1="976.8" x2="1148.2" y2="999.3" stroke="#a0a0a0" stroke-width="6"/>
<line x1="1148.2" y1="999.3" x2="1163.7" y2="1005.2" stroke="#a0a0a0" stroke-width="6"/>
<line x1="1163.7" y1="1005.2" x2="1179.3" y2="1011.1" stroke="#a0a0a0" stroke-width="6"/>
<line x1="1179.3" y1="1011.1" x2="1188" y2="1034.4" stroke="#a0a0a0" stroke-width="6"/>
<line x1="1188" y1="1034.4" x2="1196.8" y2="1057.7" stroke="#a0a0a0" stroke-width="6"/>
<line x1="984" y1="781.4" x2="989.1" y2="799.9" stroke="#e4e4e4" stroke-width="5"/>
<line x1="989.1" y1="799.9" x2="994.1" y2="818.5" stroke="#a0a0a0" stroke-width="5"/>
<line x1="1053.2" y1="806.7" x2="1042.8" y2="818.5" stroke="#e4e4e4" stroke-width="5"/>
<line x1="1042.8" y1="818.5" x2="1032.3" y2="830.3" stroke="#a0a0a0" stroke-width="5"/>
<line x1="930.9" y1="840.5" x2="947.8" y2="845.5" stroke="#e4e4e4" stroke-width="5"/>
<line x1="947.8" y1="845.5" x2="964.7" y2="850.6" stroke="#a0a0a0" stroke-width="5"/>
<line x1="925.9" y1="941.1" x2="941.6" y2="939.8" stroke="#e4e4e4" stroke-width="5"/>
<line x1="941.6" y1="939.8" x2="957.3" y2="938.4" stroke="#7a86e8" stroke-width="5"/>
<line x1="974.9" y1="1007.7" x2="979.9" y2="990" stroke="#e4e4e4" stroke-width="5"/>
<line x1="979.9" y1="990" x2="985" y2="972.2" stroke="#a0a0a0" stroke-width="5"/>
<line x1="1070.1" y1="1003.6" x2="1065.6" y2="988.4" stroke="#e4e4e4" stroke-width="5"/>
<line x1="1065.6" y1="988.4" x2="1061" y2="973.2" stroke="#a0a0a0" stroke-width="5"/>
<line x1="1049.2" y1="980.7" x2="1055.1" y2="977" stroke="#e4e4e4" stroke-width="5"/>
<line x1="1055.1" y1="977" x2="1061" y2="973.2" stroke="#a0a0a0" stroke-width="5"/>
<line x1="1110.7" y1="832.7" x2="1116.2" y2="847.6" stroke="#e4e4e4" stroke-width="5"/>
<line x1="1116.2" y1="847.6" x2="1121.8" y2="862.4" stroke="#a0a0a0" stroke-width="5"/>
<line x1="1134.3" y1="853" x2="1128.1" y2="857.7" stroke="#e4e4e4" stroke-width="5"/>
<line x1="1128.1" y1="857.7" x2="1121.8" y2="862.4" stroke="#a0a0a0" stroke-width="5"/>
<line x1="1071.1" y1="898.9" x2="1077.1" y2="896.2" stroke="#e4e4e4" stroke-width="5"/>
<line x1="1077.1" y1="896.2" x2="1083" y2="893.5" stroke="#a0a0a0" stroke-width="5"/>
<line x1="1145.5" y1="886.1" x2="1151.7" y2="884.1" stroke="#e4e4e4" stroke-width="5"/>
<line x1="1151.7" y1="884.1" x2="1158" y2="882" stroke="#a0a0a0" stroke-width="5"/>
<line x1="1112.7" y1="935.1" x2="1105.9" y2="937.6" stroke="#e4e4e4" stroke-width="5"/>
<line x1="1105.9" y1="937.6" x2="1099.2" y2="940.1" stroke="#a0a0a0" stroke-width="5"/>
<line x1="1187" y1="922.6" x2="1178.6" y2="924.3" stroke="#e4e4e4" stroke-width="5"/>
<line x1="1178.6" y1="924.3" x2="1170.1" y2="925.9" stroke="#a0a0a0" stroke-width="5"/>
<line x1="1194.5" y1="936.1" x2="1182.3" y2="931" stroke="#e4e4e4" stroke-width="5"/>
<line x1="1182.3" y1="931" x2="1170.1" y2="925.9" stroke="#a0a0a0" stroke-width="5"/>
<line x1="1226.6" y1="746.9" x2="1228.8" y2="762.4" stroke="#e4e4e4" stroke-width="5"/>
<line x1="1228.8" y1="762.4" x2="1230.9" y2="778" stroke="#a0a0a0" stroke-width="5"/>
<line x1="1243.4" y1="771.9" x2="1237.2" y2="774.9" stroke="#e4e4e4" stroke-width="5"/>
<line x1="1237.2" y1="774.9" x2="1230.9" y2="778" stroke="#a0a0a0" stroke-width="5"/>
<line x1="1251.9" y1="796.6" x2="1241.4" y2="787.3" stroke="#e4e4e4" stroke-width="5"/>
<line x1="1241.4" y1="787.3" x2="1230.9" y2="778" stroke="#a0a0a0" stroke-width="5"/>
<line x1="1209" y1="992.5" x2="1194.1" y2="1001.8" stroke="#e4e4e4" stroke-width="5"/>
<line x1="1194.1" y1="1001.8" x2="1179.3" y2="1011.1" stroke="#a0a0a0" stroke-width="5"/>
<line x1="1164.1" y1="999.3" x2="1156.1" y2="999.3" stroke="#e4e4e4" stroke-width="5"/>
<line x1="1156.1" y1="999.3" x2="1148.2" y2="999.3" stroke="#a0a0a0" stroke-width="5"/>
<line x1="1122.8" y1="1021.9" x2="1135.5" y2="1010.6" stroke="#e4e4e4" stroke-width="5"/>
<line x1="1135.5" y1="1010.6" x2="1148.2" y2="999.3" stroke="#a0a0a0" stroke-width="5"/>
<line x1="1170.8" y1="1080.3" x2="1183.8" y2="1069" stroke="#e4e4e4" stroke-width="5"/>
<line x1="1183.8" y1="1069" x2="1196.8" y2="1057.7" stroke="#a0a0a0" stroke-width="5"/>
<line x1="1214.1" y1="1060.1" x2="1205.4" y2="1058.9" stroke="#e4e4e4" stroke-width="5"/>
<line x1="1205.4" y1="1058.9" x2="1196.8" y2="1057.7" stroke="#a0a0a0" stroke-width="5"/>
<line x1="1218.8" y1="1065.8" x2="1207.8" y2="1061.8" stroke="#e4e4e4" stroke-width="5"/>
<line x1="1207.8" y1="1061.8" x2="1196.8" y2="1057.7" stroke="#a0a0a0" stroke-width="5"/>
<line x1="1162.4" y1="1012.8" x2="1170.8" y2="1011.9" stroke="#e4e4e4" stroke-width="5"/>
<line x1="1170.8" y1="1011.9" x2="1179.3" y2="1011.1" stroke="#a0a0a0" stroke-width="5"/>
</g>
<circle cx="984" cy="781.4" r="7.2" fill="url(#gh)"/>
<circle cx="1053.2" cy="806.7" r="7.2" fill="url(#gh)"/>
<circle cx="930.9" cy="840.5" r="7.2" fill="url(#gh)"/>
<circle cx="925.9" cy="941.1" r="7.2" fill="url(#gh)"/>
<circle cx="974.9" cy="1007.7" r="7.2" fill="url(#gh)"/>
<circle cx="1070.1" cy="1003.6" r="7.2" fill="url(#gh)"/>
<circle cx="1049.2" cy="980.7" r="7.2" fill="url(#gh)"/>
<circle cx="1110.7" cy="832.7" r="7.2" fill="url(#gh)"/>
<circle cx="1134.3" cy="853" r="7.2" fill="url(#gh)"/>
<circle cx="1071.1" cy="898.9" r="7.2" fill="url(#gh)"/>
<circle cx="1145.5" cy="886.1" r="7.2" fill="url(#gh)"/>
<circle cx="1112.7" cy="935.1" r="7.2" fill="url(#gh)"/>
<circle cx="1187" cy="922.6" r="7.2" fill="url(#gh)"/>
<circle cx="1194.5" cy="936.1" r="7.2" fill="url(#gh)"/>
<circle cx="1226.6" cy="746.9" r="7.2" fill="url(#gh)"/>
<circle cx="1243.4" cy="771.9" r="7.2" fill="url(#gh)"/>
<circle cx="1251.9" cy="796.6" r="7.2" fill="url(#gh)"/>
<circle cx="1209" cy="992.5" r="7.2" fill="url(#gh)"/>
<circle cx="1164.1" cy="999.3" r="7.2" fill="url(#gh)"/>
<circle cx="1122.8" cy="1021.9" r="7.2" fill="url(#gh)"/>
<circle cx="1170.8" cy="1080.3" r="7.2" fill="url(#gh)"/>
<circle cx="1214.1" cy="1060.1" r="7.2" fill="url(#gh)"/>
<circle cx="1218.8" cy="1065.8" r="7.2" fill="url(#gh)"/>
<circle cx="1162.4" cy="1012.8" r="7.2" fill="url(#gh)"/>
<circle cx="994.1" cy="818.5" r="10.5" fill="url(#gc)"/>
<circle cx="1032.3" cy="830.3" r="10.5" fill="url(#gc)"/>
<circle cx="964.7" cy="850.6" r="10.5" fill="url(#gc)"/>
<circle cx="1045.8" cy="875.9" r="10.5" fill="url(#gc)"/>
<circle cx="976.6" cy="894.5" r="10.5" fill="url(#gc)"/>
<circle cx="1017.1" cy="906.4" r="10.5" fill="url(#gc)"/>
<circle cx="1083" cy="893.5" r="10.5" fill="url(#gc)"/>
<circle cx="1022.2" cy="953.6" r="10.5" fill="url(#gc)"/>
<circle cx="985" cy="972.2" r="10.5" fill="url(#gc)"/>
<circle cx="1061" cy="973.2" r="10.5" fill="url(#gc)"/>
<circle cx="1099.2" cy="940.1" r="10.5" fill="url(#gc)"/>
<circle cx="1121.8" cy="862.4" r="10.5" fill="url(#gc)"/>
<circle cx="1158" cy="882" r="10.5" fill="url(#gc)"/>
<circle cx="1170.1" cy="925.9" r="10.5" fill="url(#gc)"/>
<circle cx="1193.8" cy="852.3" r="10.5" fill="url(#gc)"/>
<circle cx="1148.2" cy="999.3" r="10.5" fill="url(#gc)"/>
<circle cx="1179.3" cy="1011.1" r="10.5" fill="url(#gc)"/>
<circle cx="1196.8" cy="1057.7" r="10.5" fill="url(#gc)"/>
<circle cx="1230.9" cy="778" r="10.5" fill="url(#gc)"/>
<circle cx="957.3" cy="938.4" r="10.5" fill="url(#gn)"/>
<circle cx="1135.3" cy="954.3" r="10.5" fill="url(#gn)"/>
<circle cx="1179.3" cy="803.3" r="11" fill="url(#gs)"/>
<text x="1373.5" y="764" font-size="36" text-anchor="middle" font-weight="bold" >Drug SMILES</text>
<text x="1373.5" y="808.5" font-size="36" text-anchor="middle" font-weight="bold" >representation</text>
<text x="1328" y="861.5" font-size="25.5" text-anchor="middle" >[H][C@@]12CC3=C</text>
<text x="1328" y="892" font-size="25.5" text-anchor="middle" >NC4=CC=CC(=C34)</text>
<text x="1328" y="922.5" font-size="25.5" text-anchor="middle" >[C@@]1([H])C[C@</text>
<text x="1328" y="953" font-size="25.5" text-anchor="middle" >@H(CSC)CN2CCC</text>
<text x="1240" y="1108.5" font-size="68" font-style="italic" >d</text>
<text x="1273" y="1108.5" font-size="35" font-style="italic" letter-spacing="1.5">smiles</text>
<path d="M977 1435.6C972.5 1429.8 958.1 1412.5 950 1400.9C942 1389.4 933.9 1377.8 928.9 1366.3C923.9 1354.7 919.1 1345.1 920 1331.6C921 1318.2 927.7 1297.6 934.6 1285.4C941.6 1273.3 952 1264.8 961.6 1258.5C971.2 1252.2 982.1 1247.1 992.4 1247.7C1002.7 1248.4 1015.4 1254.1 1023.2 1262.3C1031 1270.6 1037.3 1287.4 1039.4 1297C1041.4 1306.6 1035.1 1313.7 1035.5 1320.1C1035.9 1326.5 1042.6 1329.7 1041.7 1335.5C1040.8 1341.3 1031.2 1347 1030.1 1354.7C1029.1 1362.4 1035.4 1374 1035.5 1381.7C1035.6 1389.4 1029.6 1393.2 1030.9 1400.9C1032.2 1408.6 1041.4 1421.2 1043.2 1427.9C1045 1434.6 1038.6 1437.5 1041.7 1441.4C1044.8 1445.2 1056.1 1446.8 1061.7 1451C1067.3 1455.2 1068.1 1462 1075.2 1466.4C1082.2 1470.8 1098.3 1473.3 1104 1477.2C1109.8 1481 1110.8 1485.2 1109.8 1489.5C1108.9 1493.8 1101.9 1498.3 1098.3 1503C1094.6 1507.6 1089.6 1514.8 1087.9 1517.2" fill="none" stroke="#e8a49a" stroke-width="2.6"/>
<path d="M976.1 1443.3 L973.5 1446 L972.3 1446.7 L973.7 1446.1 L977.5 1445.3 L981.7 1445.8 L984.4 1448.1 L984.5 1451.8 L982.3 1455.6 L979.7 1458 L978.8 1458.6 L980.5 1457.8 L984.4 1457.1 L988.5 1457.8 L991 1460.3 L990.8 1464.1 L988.5 1467.8 L986 1470 L985.3 1470.4 L987.3 1469.6 L991.3 1469 L995.4 1469.8 L997.6 1472.5 L997.1 1476.4 L994.6 1479.9 L992.2 1482 L991.8 1482.2 L994.1 1481.3 L998.2 1480.8 L1002.2 1481.9 L1004.1 1484.8 L1003.3 1488.7 L1000.8 1492.1 L998.5 1493.9 L998.4 1494 L1000.9 1493.1 L1005.1 1492.7 L1008.9 1494 L1010.6 1497 L1009.5 1500.9 L1006.9 1504.2 L1004.8 1505.9" fill="none" stroke="#d8b818" stroke-width="6.6" stroke-linejoin="round" stroke-linecap="round"/>
<path d="M1010.2 1504.8 L1007.9 1508.2 L1006.6 1509.1 L1008 1507.9 L1011.8 1506 L1016.4 1505.5 L1019.7 1507.4 L1020.3 1511.3 L1018.7 1515.7 L1016.4 1518.7 L1015.6 1519.2 L1017.4 1517.7 L1021.5 1516 L1026 1515.8 L1028.9 1518.1 L1029.1 1522.3 L1027.1 1526.6 L1025 1529.1 L1024.6 1529.2 L1026.9 1527.5 L1031.2 1525.9 L1035.6 1526.2 L1038 1528.9 L1037.7 1533.3 L1035.6 1537.3 L1033.6 1539.5 L1033.7 1539.2 L1036.4 1537.4 L1040.9 1536 L1045.1 1536.7 L1047 1539.8 L1046.3 1544.2 L1044 1548.1 L1042.3 1549.8 L1042.8 1549.1 L1046 1547.2 L1050.6 1546.1 L1054.5 1547.2 L1056 1550.7 L1054.9 1555.2 L1052.5 1558.7" fill="none" stroke="#5aa8d0" stroke-width="6.6" stroke-linejoin="round" stroke-linecap="round"/>
<linearGradient id="g5992311887664942165" gradientUnits="userSpaceOnUse" x1="1054" y1="1554.9" x2="1088.6" y2="1612.7"><stop offset="0" stop-color="#5aa8d0"/><stop offset="1" stop-color="#2f6cc0"/></linearGradient>
<path d="M1055.3 1557.1 L1052.4 1559.9 L1051 1560.6 L1052.6 1559.7 L1056.6 1558.5 L1061.2 1558.8 L1064.2 1561.2 L1064.1 1565.3 L1061.7 1569.3 L1058.9 1571.8 L1058 1572.1 L1060.1 1571 L1064.4 1570 L1068.9 1570.7 L1071.3 1573.5 L1070.7 1577.6 L1068.1 1581.5 L1065.5 1583.6 L1065.1 1583.6 L1067.7 1582.3 L1072.3 1581.6 L1076.5 1582.6 L1078.4 1585.7 L1077.3 1590 L1074.5 1593.6 L1072.2 1595.3 L1072.3 1595 L1075.4 1593.7 L1080.1 1593.2 L1084 1594.6 L1085.3 1598.1 L1083.8 1602.3 L1080.9 1605.7 L1078.9 1607 L1079.6 1606.3 L1083.1 1605.1 L1087.9 1604.8 L1091.4 1606.7 L1092.2 1610.4 L1090.3 1614.6" fill="none" stroke="url(#g5992311887664942165)" stroke-width="6.6" stroke-linejoin="round" stroke-linecap="round"/>
<linearGradient id="g8783164426246576665" gradientUnits="userSpaceOnUse" x1="1085.6" y1="1522.2" x2="1115.6" y2="1605"><stop offset="0" stop-color="#4a9ac8"/><stop offset="1" stop-color="#1040a8"/></linearGradient>
<path d="M1086.4 1524.5 L1083.1 1526.8 L1081.5 1527.3 L1083.1 1526.6 L1087.1 1526.2 L1091.6 1527.2 L1094.2 1529.9 L1093.8 1533.7 L1090.9 1537.3 L1087.6 1539.5 L1086.1 1539.9 L1087.8 1539.3 L1091.8 1538.9 L1096.3 1539.9 L1098.8 1542.7 L1098.4 1546.5 L1095.4 1550.1 L1092.1 1552.2 L1090.8 1552.6 L1092.4 1552 L1096.5 1551.6 L1101 1552.7 L1103.5 1555.5 L1102.9 1559.3 L1099.9 1562.9 L1096.7 1565 L1095.4 1565.3 L1097.1 1564.7 L1101.3 1564.3 L1105.7 1565.4 L1108.1 1568.3 L1107.4 1572.1 L1104.4 1575.6 L1101.2 1577.7 L1100 1578 L1101.8 1577.3 L1106 1577 L1110.4 1578.2 L1112.7 1581.1 L1112 1584.9 L1108.9 1588.4 L1105.7 1590.4 L1104.6 1590.7 L1106.5 1590 L1110.7 1589.7 L1115.1 1590.9 L1117.4 1593.9 L1116.5 1597.7 L1113.5 1601.2 L1110.3 1603.1 L1109.2 1603.3 L1111.2 1602.7 L1115.5 1602.4" fill="none" stroke="url(#g8783164426246576665)" stroke-width="6.6" stroke-linejoin="round" stroke-linecap="round"/>
<path d="M1116.4 1607.3 L1113 1609.6 L1111.5 1610 L1113.3 1609.4 L1117.5 1609 L1122 1610.3 L1124.3 1613.3 L1123.4 1617.2 L1120.2 1620.7 L1117 1622.5 L1116.2 1622.6 L1118.6 1621.9 L1123.1 1621.9 L1127.3 1623.5 L1128.9 1626.8 L1127.4 1630.8 L1123.9 1633.9 L1121.1 1635.4 L1121 1635.2 L1124 1634.5 L1128.7 1634.8 L1132.5 1636.8 L1133.4 1640.4 L1131.3 1644.3 L1127.7 1647.1 L1125.3 1648.2 L1125.9 1647.8 L1129.5 1647.2 L1134.2 1647.7 L1137.5 1650.2 L1137.7 1653.9 L1135.1 1657.7 L1131.6 1660.2 L1129.7 1660.9" fill="none" stroke="#1040a8" stroke-width="6.6" stroke-linejoin="round" stroke-linecap="round"/>
<linearGradient id="g4382080884846484235" gradientUnits="userSpaceOnUse" x1="1134.8" y1="1658.9" x2="1175.3" y2="1680.1"><stop offset="0" stop-color="#2f6cc0"/><stop offset="1" stop-color="#5aa8d0"/></linearGradient>
<path d="M1136.6 1659.8 L1136.1 1663.2 L1135.7 1664.4 L1136.6 1663.4 L1139 1661.1 L1142.6 1659.3 L1145.9 1659.6 L1148.1 1662.2 L1148.6 1666.1 L1148.1 1669.4 L1147.7 1670.7 L1148.6 1669.6 L1151 1667.3 L1154.6 1665.6 L1157.9 1665.9 L1160 1668.6 L1160.5 1672.4 L1160 1675.7 L1159.7 1677 L1160.5 1675.9 L1163 1673.5 L1166.6 1671.8 L1169.9 1672.2 L1172 1674.9 L1172.5 1678.8 L1172 1682 L1171.6 1683.2 L1172.5 1682.1" fill="none" stroke="url(#g4382080884846484235)" stroke-width="5.7" stroke-linejoin="round" stroke-linecap="round"/>
<path d="M1030.3 1561.1 L1027 1564 L1025.4 1564.6 L1026.9 1563.5 L1031.2 1562.3 L1036.2 1562.5 L1039.3 1565 L1039.2 1569.1 L1036.5 1573.3 L1033.3 1576 L1032 1576.4 L1033.9 1575.2 L1038.3 1574 L1043.2 1574.5 L1046 1577.2 L1045.6 1581.4 L1042.7 1585.5 L1039.6 1587.9 L1038.6 1588.1 L1040.8 1586.8 L1045.5 1585.7 L1050.2 1586.4 L1052.7 1589.4 L1051.9 1593.7 L1048.9 1597.7 L1045.9 1599.8 L1045.2 1599.8 L1047.8 1598.4 L1052.6 1597.5 L1057.2 1598.4 L1059.4 1601.6 L1058.3 1605.9 L1055.1 1609.8 L1052.3 1611.7 L1051.9 1611.5 L1054.8 1610.1 L1059.7 1609.3 L1064.2 1610.5 L1066 1613.8 L1064.6 1618.2 L1061.3 1621.9 L1058.6 1623.6 L1058.7 1623.1 L1061.9 1621.7 L1066.8 1621.1 L1071.1 1622.5 L1072.5 1626.1 L1070.8 1630.5 L1067.5 1634 L1065.1 1635.4 L1065.5 1634.8 L1069 1633.4 L1074 1632.9 L1078 1634.6 L1079.1 1638.3 L1077.1 1642.7 L1073.7 1646 L1071.5 1647.2 L1072.3 1646.4 L1076 1645 L1081.1 1644.8 L1084.8 1646.7 L1085.6 1650.6 L1083.3 1654.9 L1080 1658.1 L1078 1659 L1079.1 1658.1 L1083.1 1656.7" fill="none" stroke="#1040a8" stroke-width="7.6" stroke-linejoin="round" stroke-linecap="round"/>
<path d="M991.9 1616.3 L989.9 1619.5 L988.9 1620.4 L990.3 1619.4 L993.9 1617.9 L998.2 1617.6 L1001.2 1619.5 L1001.8 1623.3 L1000.3 1627.4 L998.4 1630.1 L997.8 1630.5 L999.8 1629.2 L1003.7 1627.8 L1007.9 1628 L1010.4 1630.4 L1010.5 1634.4 L1008.7 1638.4 L1006.9 1640.6 L1006.9 1640.6 L1009.4 1639.1 L1013.6 1637.9 L1017.5 1638.5 L1019.5 1641.4" fill="none" stroke="#1040a8" stroke-width="6.6" stroke-linejoin="round" stroke-linecap="round"/>
<path d="M1017.4 1646 L1013.8 1649.6 L1011.9 1650.4 L1013.3 1648.7 L1017.7 1646.3 L1023.3 1645.5 L1027.2 1647.5 L1027.8 1652 L1025.3 1657 L1021.8 1660.5 L1019.9 1661.2 L1021.4 1659.4 L1026 1657.1 L1031.5 1656.4 L1035.4 1658.5 L1035.8 1663 L1033.2 1668 L1029.7 1671.4 L1028 1672 L1029.6 1670.2 L1034.3 1667.9 L1039.8 1667.3 L1043.5 1669.5 L1043.8 1674 L1041.1 1679 L1037.6 1682.3 L1036 1682.8 L1037.8 1680.9 L1042.5 1678.6 L1048 1678.1 L1051.6 1680.4 L1051.8 1685.1 L1049 1690 L1045.6 1693.2 L1044.1 1693.6 L1046 1691.7 L1050.8 1689.4 L1056.3 1689 L1059.7 1691.4 L1059.8 1696.1 L1057 1701 L1053.5 1704.1 L1052.1 1704.4 L1054.2 1702.4 L1059 1700.2 L1064.5 1699.9 L1067.9 1702.4 L1067.8 1707.1 L1064.9 1712 L1061.5 1715 L1060.2 1715.2 L1062.4 1713.1 L1067.3 1711 L1072.7 1710.7 L1076 1713.4 L1075.8 1718.2 L1072.8 1723 L1069.4 1725.9 L1068.2 1726 L1070.6 1723.9 L1075.6 1721.8 L1080.9 1721.6 L1084.1 1724.4 L1083.7 1729.2 L1080.7 1734 L1077.4 1736.8 L1076.3 1736.7 L1078.8 1734.6 L1083.8 1732.5 L1089.2 1732.5 L1092.2 1735.4 L1091.7 1740.2 L1088.6 1745 L1085.3 1747.7 L1084.4 1747.5 L1087 1745.4 L1092.1 1743.3 L1097.4 1743.4 L1100.3 1746.4 L1099.7 1751.3 L1096.5 1756 L1093.3 1758.6 L1092.5 1758.3 L1095.2 1756.1 L1100.4 1754.1 L1105.6 1754.3 L1108.4 1757.4 L1107.6 1762.3 L1104.4 1767 L1101.3 1769.5 L1100.6 1769.1 L1103.4 1766.9 L1108.6 1764.9 L1113.8 1765.2 L1116.5 1768.4 L1115.6 1773.3 L1112.3 1778 L1109.2 1780.4 L1108.7 1779.9 L1111.6 1777.6" fill="none" stroke="#1040a8" stroke-width="8.5" stroke-linejoin="round" stroke-linecap="round"/>
<path d="M1025 1597.3 L1022.5 1600.9 L1021.1 1601.9 L1022.3 1600.5 L1026.1 1598.3 L1030.9 1597.3 L1034.6 1598.9 L1035.6 1602.9 L1034 1607.6 L1031.5 1611 L1030.2 1611.8 L1031.6 1610.3 L1035.6 1608.1 L1040.4 1607.2 L1043.9 1609 L1044.7 1613.1 L1043 1617.8 L1040.5 1621.1 L1039.4 1621.7 L1041 1620 L1045.1 1617.8 L1049.9 1617.2 L1053.2 1619.2 L1053.8 1623.4 L1052 1628 L1049.5 1631.1 L1048.6 1631.5 L1050.4 1629.8 L1054.6 1627.6 L1059.4 1627.2 L1062.5 1629.3 L1062.9 1633.6 L1060.9 1638.3 L1058.5 1641.2 L1057.7 1641.4 L1059.8 1639.5 L1064.1 1637.5 L1068.8 1637.1 L1071.8 1639.5 L1072 1643.9 L1069.9 1648.5 L1067.5 1651.2 L1067 1651.2 L1069.2 1649.3 L1073.6 1647.3 L1078.3 1647.1 L1081.1 1649.7 L1081 1654.2 L1078.9 1658.7 L1076.6 1661.2 L1076.2 1661 L1078.6 1659 L1083.1 1657.1 L1087.7 1657.2 L1090.3 1659.9 L1090.1 1664.4 L1087.9 1668.8 L1085.6 1671.2 L1085.4 1670.9 L1088 1668.8 L1092.6 1666.9 L1097.2 1667.2 L1099.6 1670.1 L1099.1 1674.7 L1096.8 1679 L1094.7 1681.2 L1094.7 1680.7 L1097.5 1678.5 L1102.2 1676.8 L1106.6 1677.2 L1108.8 1680.3 L1108.2 1685 L1105.8 1689.2 L1103.7 1691.1 L1103.9 1690.5 L1106.9 1688.3 L1111.7 1686.7 L1116 1687.3 L1118 1690.5 L1117.2 1695.2 L1114.8 1699.3 L1112.8 1701.1 L1113.2 1700.3 L1116.4 1698.1 L1121.2 1696.5 L1125.4 1697.4 L1127.2 1700.8 L1126.2 1705.5 L1123.7 1709.5 L1121.9 1711 L1122.5 1710 L1125.9 1707.8 L1130.7 1706.4 L1134.8 1707.4 L1136.4 1711 L1135.2 1715.7 L1132.7 1719.6 L1131 1721 L1131.8 1719.8 L1135.4 1717.6 L1140.2 1716.3" fill="none" stroke="#1040a8" stroke-width="7.6" stroke-linejoin="round" stroke-linecap="round"/>
<path d="M1059.5 1611 L1056.7 1614.3 L1055.2 1615.2 L1056.5 1613.9 L1060.6 1612 L1065.5 1611.4 L1069 1613.4 L1069.5 1617.5 L1067.5 1622.1 L1064.7 1625.2 L1063.4 1625.8 L1065.1 1624.3 L1069.3 1622.5 L1074.2 1622.2 L1077.4 1624.4 L1077.7 1628.6 L1075.5 1633.1 L1072.7 1636 L1071.7 1636.4 L1073.7 1634.8 L1078.1 1633 L1082.9 1633 L1085.9 1635.4 L1085.8 1639.8 L1083.4 1644.2 L1080.8 1646.9 L1080.1 1647 L1082.3 1645.3 L1086.9 1643.6 L1091.6 1643.8 L1094.3 1646.5 L1093.9 1650.9 L1091.4 1655.2 L1088.9 1657.7 L1088.4 1657.5 L1091 1655.7 L1095.7 1654.2 L1100.3 1654.6 L1102.6 1657.5 L1102 1662.1 L1099.4 1666.3 L1097 1668.4 L1096.8 1668.1 L1099.7 1666.2 L1104.4 1664.8 L1108.9 1665.4 L1111 1668.6 L1110.1 1673.2 L1107.4 1677.3 L1105.1 1679.2 L1105.2 1678.6 L1108.4 1676.7 L1113.2 1675.4 L1117.5 1676.3 L1119.3 1679.7 L1118.1 1684.4 L1115.3 1688.2 L1113.2 1689.9" fill="none" stroke="#1040a8" stroke-width="7.6" stroke-linejoin="round" stroke-linecap="round"/>
<path d="M1082.2 1645.3 L1079.9 1648.2 L1078.7 1649.1 L1080.1 1648.3 L1083.7 1647.2 L1087.9 1647.2 L1090.9 1649.2 L1091.4 1652.8 L1089.7 1656.8 L1087.3 1659.5 L1086.4 1660.2 L1087.9 1659.4 L1091.6 1658.2 L1095.9 1658.4 L1098.7 1660.6 L1098.9 1664.3 L1097.1 1668.2 L1094.8 1670.8 L1094 1671.3 L1095.8 1670.4 L1099.6 1669.3 L1103.8 1669.6 L1106.4 1672 L1106.5 1675.8 L1104.5 1679.6 L1102.3 1682 L1101.7 1682.4 L1103.6 1681.4 L1107.6 1680.4 L1111.7 1680.9 L1114.1 1683.4 L1114 1687.2 L1111.9 1691 L1109.8 1693.3 L1109.4 1693.5 L1111.5 1692.5 L1115.5 1691.6 L1119.6 1692.2 L1121.8 1694.8 L1121.5 1698.7 L1119.4 1702.4 L1117.3 1704.5 L1117.1 1704.6 L1119.4 1703.5 L1123.5 1702.7 L1127.5 1703.4 L1129.5 1706.2 L1129 1710.2 L1126.8 1713.8 L1124.8 1715.7 L1124.8 1715.7 L1127.3 1714.6 L1131.5 1713.8" fill="none" stroke="#1040a8" stroke-width="6.6" stroke-linejoin="round" stroke-linecap="round"/>
<path d="M1047.5 1626.6 L1044.1 1629.4 L1042.4 1629.9 L1044 1628.9 L1048.2 1627.8 L1053.1 1628.2 L1056.2 1630.7 L1056.2 1634.8 L1053.4 1638.9 L1050 1641.5 L1048.5 1642 L1050.2 1640.9 L1054.5 1639.9 L1059.4 1640.4 L1062.4 1643 L1062.1 1647.1 L1059.2 1651.1 L1055.9 1653.7 L1054.5 1654 L1056.3 1653 L1060.8 1651.9 L1065.6 1652.5 L1068.5 1655.2 L1068.1 1659.3 L1065.1 1663.4 L1061.8 1665.8 L1060.6 1666.1 L1062.5 1665 L1067 1664 L1071.8 1664.7 L1074.6 1667.5 L1074 1671.6 L1071 1675.6 L1067.7 1677.9 L1066.6 1678.1 L1068.8 1677 L1073.3 1676.1 L1078.1 1676.8 L1080.6 1679.7 L1079.9 1683.9 L1076.9 1687.8 L1073.7 1690.1 L1072.7 1690.2 L1075 1689 L1079.6 1688.1 L1084.3 1689 L1086.7 1692 L1085.9 1696.2 L1082.7 1700.1 L1079.6 1702.2 L1078.8 1702.2 L1081.2 1701 L1085.9 1700.2 L1090.5 1701.2 L1092.8 1704.2 L1091.8 1708.5 L1088.6 1712.3 L1085.5 1714.3 L1084.8 1714.2 L1087.4 1713 L1092.2 1712.3 L1096.7 1713.3 L1098.8 1716.5 L1097.7 1720.7 L1094.5 1724.5 L1091.4 1726.4 L1090.9 1726.3 L1093.6 1725 L1098.4 1724.3 L1102.9 1725.5 L1104.9 1728.7 L1103.6 1733" fill="none" stroke="#1040a8" stroke-width="7.6" stroke-linejoin="round" stroke-linecap="round"/>
<path d="M997.5 1591.5 L995.1 1594.3 L994 1595.2 L995.5 1594.3 L999.2 1593.3 L1003.5 1593.5 L1006.3 1595.7 L1006.4 1599.6 L1004.4 1603.5 L1002.1 1605.9 L1001.5 1606.3 L1003.6 1605.3 L1007.7 1604.4 L1011.8 1605 L1014.1 1607.7 L1013.6 1611.7 L1011.4 1615.4 L1009.3 1617.4 L1009.3 1617.4 L1011.9 1616.3 L1016.2 1615.6 L1020 1616.7 L1021.7 1619.8 L1020.7 1623.8 L1018.3 1627.3 L1016.5 1628.8 L1017.1 1628.4 L1020.2 1627.2 L1024.6 1626.9 L1028.1 1628.4 L1029.2 1631.9 L1027.7 1635.9 L1025.3 1639" fill="none" stroke="#1040a8" stroke-width="5.7" stroke-linejoin="round" stroke-linecap="round"/>
<path d="M1101.8 1675.9 L1100 1679.1 L1099 1680.2 L1100.3 1679.1 L1103.7 1677.3 L1107.9 1676.6 L1111.1 1678.2 L1112.2 1681.8 L1111.1 1686 L1109.3 1689 L1108.6 1689.7 L1110.2 1688.4 L1113.8 1686.7 L1118 1686.3 L1121 1688.2 L1121.7 1692 L1120.4 1696.1 L1118.6 1698.8 L1118.2 1699.2 L1120.2 1697.7 L1124 1696 L1128.1 1695.9 L1130.8 1698.2 L1131.1 1702.2 L1129.6 1706.2 L1128 1708.6 L1127.9 1708.6 L1130.2 1707 L1134.2 1705.4 L1138.2 1705.7 L1140.5 1708.2 L1140.5 1712.3 L1138.9 1716.2 L1137.4 1718.2 L1137.7 1717.9 L1140.3 1716.2 L1144.4 1714.9 L1148.2 1715.5 L1150.2 1718.3" fill="none" stroke="#1040a8" stroke-width="6.6" stroke-linejoin="round" stroke-linecap="round"/>
<path d="M988 1678.3 L991.5 1679.7 L992.6 1680.6 L991.5 1679.5 L989.3 1676.3 L988.2 1672.2 L989.3 1668.8 L992.7 1667.4 L997 1667.9 L1000.2 1669.4 L1001.1 1670.1 L999.7 1668.7 L997.6 1665.4 L996.6 1661.3 L998 1658 L1001.6 1656.8 L1005.9 1657.6 L1008.9 1659 L1009.5 1659.5 L1008 1657.9 L1005.9 1654.5 L1005.1 1650.4 L1006.8 1647.3 L1010.6 1646.3 L1014.8 1647.2" fill="none" stroke="#5aa8d0" stroke-width="6.6" stroke-linejoin="round" stroke-linecap="round"/>
<path d="M971 1693.8 L972.8 1696.3 L973.3 1697.3 L973.2 1695.9 L973.4 1692.6 L974.8 1689.4 L977.4 1687.8 L980.5 1688.7 L983.1 1691.1 L984.6 1693.4 L984.8 1693.8 L984.7 1691.8 L985.2 1688.3 L986.9 1685.4 L989.7 1684.4 L992.8 1685.9" fill="none" stroke="#d8b818" stroke-width="6.6" stroke-linejoin="round" stroke-linecap="round"/>
<path d="M1116.6 1776.8 L1119.7 1777.5 L1120.8 1777.8 L1120 1776.6 L1118.3 1773.8 L1117.4 1770.2 L1118.6 1767.2 L1121.7 1765.8 L1125.4 1765.9 L1128 1766.7 L1128.6 1766.7 L1127.4 1765 L1125.8 1761.9 L1125.4 1758.3 L1127.1 1755.7 L1130.5 1754.7 L1134.1 1755.1 L1136.2 1755.8 L1136.3 1755.4 L1134.8 1753.4" fill="none" stroke="#2f6cc0" stroke-width="5.7" stroke-linejoin="round" stroke-linecap="round"/>
<path d="M1175.3 1680.1C1178.2 1683.3 1191.3 1694.5 1192.6 1699.3C1193.9 1704.1 1187.5 1707 1183 1708.9C1178.5 1710.9 1171.7 1708.8 1165.6 1710.9C1159.5 1712.9 1149.6 1719.5 1146.4 1721.3" fill="none" stroke="#5aa8d0" stroke-width="3.5"/>
<path d="M1100.2 1699.3C1101.8 1702.2 1107.3 1709.9 1109.8 1716.6C1112.4 1723.4 1112.1 1733.6 1115.6 1739.7C1119.1 1745.8 1128.4 1751 1131 1753.2" fill="none" stroke="#a8c8e0" stroke-width="2.6"/>
<path d="M1134.8 1751.3C1137.4 1752.1 1144.5 1753.3 1150.2 1755.9C1156 1758.5 1163.7 1761.2 1169.5 1766.7C1175.3 1772.2 1182.3 1785.3 1184.9 1789" fill="none" stroke="#e8a49a" stroke-width="2.6"/>
<path d="M1220.3 1735.1C1218.3 1738.6 1212.6 1751.2 1208 1755.9C1203.4 1760.6 1196.1 1758.6 1192.6 1763.6C1189.1 1768.6 1189.7 1779.6 1186.8 1785.9C1183.9 1792.2 1178.2 1795.6 1175.3 1801.3C1172.4 1807.1 1172.2 1815.4 1169.5 1820.6C1166.7 1825.7 1160.8 1827 1158.7 1832.1C1156.7 1837.3 1159.1 1846.9 1157.2 1851.4C1155.2 1855.9 1148.6 1855.2 1147.2 1859.1C1145.7 1862.9 1148.1 1871.9 1148.3 1874.5" fill="none" stroke="#e87040" stroke-width="6" stroke-linecap="round"/>
<path d="M1220.3 1734C1222.7 1733.6 1231.9 1730.4 1234.9 1732C1238 1733.6 1235.9 1740.1 1238.8 1743.6C1241.7 1747.1 1249.4 1747.4 1252.3 1753.2C1255.1 1759 1256.8 1770.9 1256.1 1778.2C1255.5 1785.6 1252.6 1791.1 1248.4 1797.5C1244.2 1803.9 1237.8 1814.5 1231.1 1816.7C1224.4 1819 1214.3 1813.5 1208 1811C1201.7 1808.4 1196.9 1805.5 1193.4 1801.3C1189.8 1797.2 1187.9 1788.5 1186.8 1785.9" fill="none" stroke="#e8a49a" stroke-width="2.6"/>
<text x="1235" y="1420" font-size="36" text-anchor="middle" font-weight="bold" >Protein amino acid</text>
<text x="1242" y="1463.5" font-size="36" text-anchor="middle" font-weight="bold" >sequences</text>
<text x="1121" y="1524.5" font-size="36" >MEPFVVLVLCL</text>
<text x="1121" y="1567.3" font-size="36" >SFMLLFSLWRQ</text>
<text x="1121" y="1610.1" font-size="36" >SCRRRKLPPG...</text>
<text x="1229" y="1715" font-size="68" font-style="italic" >T</text>
<text x="1266" y="1715" font-size="30" font-style="italic" >t</text>
<rect x="1524" y="595" width="1555.5" height="1036" rx="138" fill="#e6f5da" stroke="#5c9a33" stroke-width="6.5" />
<text x="1601" y="1598" font-size="60.7" font-weight="bold" >Pretrained BERT Model (ChemBERTa and BioBERT)</text>
<rect x="1549" y="714" width="65.7" height="325.3" fill="#f8d5b8" stroke="#000" stroke-width="3.2" />
<path d="M1549 779.1H1614.7M1549 844.1H1614.7M1549 909.2H1614.7M1549 974.2H1614.7" fill="none" stroke="#000" stroke-width="3.2" />
<rect x="1549" y="1221.6" width="65.7" height="325.3" fill="#f8d5b8" stroke="#000" stroke-width="3.2" />
<path d="M1549 1286.7H1614.7M1549 1351.7H1614.7M1549 1416.8H1614.7M1549 1481.8H1614.7" fill="none" stroke="#000" stroke-width="3.2" />
<rect x="1624.7" y="714" width="67.3" height="832.7" rx="10" fill="#fff" stroke="#000" stroke-width="3.2" />
<text transform="translate(1670,1120) rotate(-90)" font-size="50" text-anchor="middle" >Tokenzers-BPE/WordPiece</text>
<rect x="1702" y="769" width="124" height="777.7" rx="10" fill="#aee28e" stroke="#000" stroke-width="3.2" stroke-dasharray="11 6"/>
<rect x="1713" y="824" width="102.5" height="52" fill="#f4b6b6" stroke="#777" stroke-width="2.6" />
<path d="M1738.6 824V876M1764.2 824V876M1789.9 824V876M1713 850H1815.5" fill="none" stroke="#777" stroke-width="2.6" />
<rect x="1713" y="898.5" width="102.5" height="52" fill="#f4b6b6" stroke="#777" stroke-width="2.6" />
<path d="M1738.6 898.5V950.5M1764.2 898.5V950.5M1789.9 898.5V950.5M1713 924.5H1815.5" fill="none" stroke="#777" stroke-width="2.6" />
<rect x="1713" y="972.7" width="102.5" height="52" fill="#f4b6b6" stroke="#777" stroke-width="2.6" />
<path d="M1738.6 972.7V1024.7M1764.2 972.7V1024.7M1789.9 972.7V1024.7M1713 998.7H1815.5" fill="none" stroke="#777" stroke-width="2.6" />
<rect x="1713" y="1047" width="102.5" height="52" fill="#f4b6b6" stroke="#777" stroke-width="2.6" />
<path d="M1738.6 1047V1099M1764.2 1047V1099M1789.9 1047V1099M1713 1073H1815.5" fill="none" stroke="#777" stroke-width="2.6" />
<rect x="1713" y="1234.4" width="102.5" height="52" fill="#f4b6b6" stroke="#777" stroke-width="2.6" />
<path d="M1738.6 1234.4V1286.4M1764.2 1234.4V1286.4M1789.9 1234.4V1286.4M1713 1260.4H1815.5" fill="none" stroke="#777" stroke-width="2.6" />
<rect x="1713" y="1308.5" width="102.5" height="52" fill="#f4b6b6" stroke="#777" stroke-width="2.6" />
<path d="M1738.6 1308.5V1360.5M1764.2 1308.5V1360.5M1789.9 1308.5V1360.5M1713 1334.5H1815.5" fill="none" stroke="#777" stroke-width="2.6" />
<rect x="1713" y="1384.6" width="102.5" height="52" fill="#f4b6b6" stroke="#777" stroke-width="2.6" />
<path d="M1738.6 1384.6V1436.6M1764.2 1384.6V1436.6M1789.9 1384.6V1436.6M1713 1410.6H1815.5" fill="none" stroke="#777" stroke-width="2.6" />
<rect x="1713" y="1457" width="102.5" height="52" fill="#f4b6b6" stroke="#777" stroke-width="2.6" />
<path d="M1738.6 1457V1509M1764.2 1457V1509M1789.9 1457V1509M1713 1483H1815.5" fill="none" stroke="#777" stroke-width="2.6" />
<rect x="1910" y="629" width="1136" height="854" rx="88" fill="#c9ecb5" stroke="#5c9a33" stroke-width="4.5" />
<rect x="1879.5" y="660" width="1136" height="854" rx="88" fill="#e6f5da" stroke="#5c9a33" stroke-width="4.5" />
<rect x="1849" y="691" width="1136" height="854" rx="88" fill="#fff" stroke="#5c9a33" stroke-width="4.5" />
<rect x="1892.7" y="748.7" width="376.8" height="763.7" rx="48" fill="#fbe9dc" stroke="#000" stroke-width="3.2" />
<rect x="1915" y="774" width="330" height="205" rx="34" fill="#dcf4f6" stroke="#000" stroke-width="3.2" />
<rect x="1933" y="784.6" width="158.3" height="184.2" rx="20" fill="#93dfe0" stroke="#000" stroke-width="3.2" />
<rect x="2131" y="784.6" width="98" height="184.2" rx="18" fill="#aee28e" stroke="#000" stroke-width="3.2" stroke-dasharray="11 6"/>
<text transform="translate(1994,876.7) rotate(-90)" font-size="41" text-anchor="middle" font-weight="bold" >Self</text>
<text transform="translate(2044.5,876.7) rotate(-90)" font-size="41" text-anchor="middle" font-weight="bold" >attention</text>
<rect x="2157.5" y="795" width="44.5" height="14" fill="#f4b6b6" stroke="#a08888" stroke-width="1.1" />
<path d="M2168.6 795V809M2179.8 795V809M2190.9 795V809M2157.5 799.7H2202M2157.5 804.3H2202" fill="none" stroke="#a08888" stroke-width="1.1" />
<rect x="2157.5" y="814" width="44.5" height="14" fill="#f4b6b6" stroke="#a08888" stroke-width="1.1" />
<path d="M2168.6 814V828M2179.8 814V828M2190.9 814V828M2157.5 818.7H2202M2157.5 823.3H2202" fill="none" stroke="#a08888" stroke-width="1.1" />
<rect x="2157.5" y="833" width="44.5" height="14" fill="#f4b6b6" stroke="#a08888" stroke-width="1.1" />
<path d="M2168.6 833V847M2179.8 833V847M2190.9 833V847M2157.5 837.7H2202M2157.5 842.3H2202" fill="none" stroke="#a08888" stroke-width="1.1" />
<rect x="2157.5" y="852.6" width="44.5" height="14" fill="#f4b6b6" stroke="#a08888" stroke-width="1.1" />
<path d="M2168.6 852.6V866.6M2179.8 852.6V866.6M2190.9 852.6V866.6M2157.5 857.3H2202M2157.5 861.9H2202" fill="none" stroke="#a08888" stroke-width="1.1" />
<rect x="2157.5" y="887" width="44.5" height="14" fill="#f4b6b6" stroke="#a08888" stroke-width="1.1" />
<path d="M2168.6 887V901M2179.8 887V901M2190.9 887V901M2157.5 891.7H2202M2157.5 896.3H2202" fill="none" stroke="#a08888" stroke-width="1.1" />
<rect x="2157.5" y="905.5" width="44.5" height="14" fill="#f4b6b6" stroke="#a08888" stroke-width="1.1" />
<path d="M2168.6 905.5V919.5M2179.8 905.5V919.5M2190.9 905.5V919.5M2157.5 910.2H2202M2157.5 914.8H2202" fill="none" stroke="#a08888" stroke-width="1.1" />
<rect x="2157.5" y="924.4" width="44.5" height="14" fill="#f4b6b6" stroke="#a08888" stroke-width="1.1" />
<path d="M2168.6 924.4V938.4M2179.8 924.4V938.4M2190.9 924.4V938.4M2157.5 929.1H2202M2157.5 933.7H2202" fill="none" stroke="#a08888" stroke-width="1.1" />
<rect x="2157.5" y="943" width="44.5" height="14" fill="#f4b6b6" stroke="#a08888" stroke-width="1.1" />
<path d="M2168.6 943V957M2179.8 943V957M2190.9 943V957M2157.5 947.7H2202M2157.5 952.3H2202" fill="none" stroke="#a08888" stroke-width="1.1" />
<rect x="1915" y="997" width="330" height="205" rx="34" fill="#dcf4f6" stroke="#000" stroke-width="3.2" />
<rect x="1933" y="1007.6" width="158.3" height="184.2" rx="20" fill="#93dfe0" stroke="#000" stroke-width="3.2" />
<rect x="2131" y="1007.6" width="98" height="184.2" rx="18" fill="#aee28e" stroke="#000" stroke-width="3.2" stroke-dasharray="11 6"/>
<text transform="translate(1994,1099.7) rotate(-90)" font-size="41" text-anchor="middle" font-weight="bold" >Self</text>
<text transform="translate(2044.5,1099.7) rotate(-90)" font-size="41" text-anchor="middle" font-weight="bold" >attention</text>
<rect x="2157.5" y="1018" width="44.5" height="14" fill="#f4b6b6" stroke="#a08888" stroke-width="1.1" />
<path d="M2168.6 1018V1032M2179.8 1018V1032M2190.9 1018V1032M2157.5 1022.7H2202M2157.5 1027.3H2202" fill="none" stroke="#a08888" stroke-width="1.1" />
<rect x="2157.5" y="1037" width="44.5" height="14" fill="#f4b6b6" stroke="#a08888" stroke-width="1.1" />
<path d="M2168.6 1037V1051M2179.8 1037V1051M2190.9 1037V1051M2157.5 1041.7H2202M2157.5 1046.3H2202" fill="none" stroke="#a08888" stroke-width="1.1" />
<rect x="2157.5" y="1056" width="44.5" height="14" fill="#f4b6b6" stroke="#a08888" stroke-width="1.1" />
<path d="M2168.6 1056V1070M2179.8 1056V1070M2190.9 1056V1070M2157.5 1060.7H2202M2157.5 1065.3H2202" fill="none" stroke="#a08888" stroke-width="1.1" />
<rect x="2157.5" y="1075.6" width="44.5" height="14" fill="#f4b6b6" stroke="#a08888" stroke-width="1.1" />
<path d="M2168.6 1075.6V1089.6M2179.8 1075.6V1089.6M2190.9 1075.6V1089.6M2157.5 1080.3H2202M2157.5 1084.9H2202" fill="none" stroke="#a08888" stroke-width="1.1" />
<rect x="2157.5" y="1110" width="44.5" height="14" fill="#f4b6b6" stroke="#a08888" stroke-width="1.1" />
<path d="M2168.6 1110V1124M2179.8 1110V1124M2190.9 1110V1124M2157.5 1114.7H2202M2157.5 1119.3H2202" fill="none" stroke="#a08888" stroke-width="1.1" />
<rect x="2157.5" y="1128.5" width="44.5" height="14" fill="#f4b6b6" stroke="#a08888" stroke-width="1.1" />
<path d="M2168.6 1128.5V1142.5M2179.8 1128.5V1142.5M2190.9 1128.5V1142.5M2157.5 1133.2H2202M2157.5 1137.8H2202" fill="none" stroke="#a08888" stroke-width="1.1" />
<rect x="2157.5" y="1147.4" width="44.5" height="14" fill="#f4b6b6" stroke="#a08888" stroke-width="1.1" />
<path d="M2168.6 1147.4V1161.4M2179.8 1147.4V1161.4M2190.9 1147.4V1161.4M2157.5 1152.1H2202M2157.5 1156.7H2202" fill="none" stroke="#a08888" stroke-width="1.1" />
<rect x="2157.5" y="1166" width="44.5" height="14" fill="#f4b6b6" stroke="#a08888" stroke-width="1.1" />
<path d="M2168.6 1166V1180M2179.8 1166V1180M2190.9 1166V1180M2157.5 1170.7H2202M2157.5 1175.3H2202" fill="none" stroke="#a08888" stroke-width="1.1" />
<rect x="1915" y="1278.7" width="330" height="205" rx="34" fill="#dcf4f6" stroke="#000" stroke-width="3.2" />
<rect x="1933" y="1289.3" width="158.3" height="184.2" rx="20" fill="#93dfe0" stroke="#000" stroke-width="3.2" />
<rect x="2131" y="1289.3" width="98" height="184.2" rx="18" fill="#aee28e" stroke="#000" stroke-width="3.2" stroke-dasharray="11 6"/>
<text transform="translate(1994,1381.4) rotate(-90)" font-size="41" text-anchor="middle" font-weight="bold" >Self</text>
<text transform="translate(2044.5,1381.4) rotate(-90)" font-size="41" text-anchor="middle" font-weight="bold" >attention</text>
<rect x="2157.5" y="1299.7" width="44.5" height="14" fill="#f4b6b6" stroke="#a08888" stroke-width="1.1" />
<path d="M2168.6 1299.7V1313.7M2179.8 1299.7V1313.7M2190.9 1299.7V1313.7M2157.5 1304.4H2202M2157.5 1309H2202" fill="none" stroke="#a08888" stroke-width="1.1" />
<rect x="2157.5" y="1318.7" width="44.5" height="14" fill="#f4b6b6" stroke="#a08888" stroke-width="1.1" />
<path d="M2168.6 1318.7V1332.7M2179.8 1318.7V1332.7M2190.9 1318.7V1332.7M2157.5 1323.4H2202M2157.5 1328H2202" fill="none" stroke="#a08888" stroke-width="1.1" />
<rect x="2157.5" y="1337.7" width="44.5" height="14" fill="#f4b6b6" stroke="#a08888" stroke-width="1.1" />
<path d="M2168.6 1337.7V1351.7M2179.8 1337.7V1351.7M2190.9 1337.7V1351.7M2157.5 1342.4H2202M2157.5 1347H2202" fill="none" stroke="#a08888" stroke-width="1.1" />
<rect x="2157.5" y="1357.3" width="44.5" height="14" fill="#f4b6b6" stroke="#a08888" stroke-width="1.1" />
<path d="M2168.6 1357.3V1371.3M2179.8 1357.3V1371.3M2190.9 1357.3V1371.3M2157.5 1362H2202M2157.5 1366.6H2202" fill="none" stroke="#a08888" stroke-width="1.1" />
<rect x="2157.5" y="1391.7" width="44.5" height="14" fill="#f4b6b6" stroke="#a08888" stroke-width="1.1" />
<path d="M2168.6 1391.7V1405.7M2179.8 1391.7V1405.7M2190.9 1391.7V1405.7M2157.5 1396.4H2202M2157.5 1401H2202" fill="none" stroke="#a08888" stroke-width="1.1" />
<rect x="2157.5" y="1410.2" width="44.5" height="14" fill="#f4b6b6" stroke="#a08888" stroke-width="1.1" />
<path d="M2168.6 1410.2V1424.2M2179.8 1410.2V1424.2M2190.9 1410.2V1424.2M2157.5 1414.9H2202M2157.5 1419.5H2202" fill="none" stroke="#a08888" stroke-width="1.1" />
<rect x="2157.5" y="1429.1" width="44.5" height="14" fill="#f4b6b6" stroke="#a08888" stroke-width="1.1" />
<path d="M2168.6 1429.1V1443.1M2179.8 1429.1V1443.1M2190.9 1429.1V1443.1M2157.5 1433.8H2202M2157.5 1438.4H2202" fill="none" stroke="#a08888" stroke-width="1.1" />
<rect x="2157.5" y="1447.7" width="44.5" height="14" fill="#f4b6b6" stroke="#a08888" stroke-width="1.1" />
<path d="M2168.6 1447.7V1461.7M2179.8 1447.7V1461.7M2190.9 1447.7V1461.7M2157.5 1452.4H2202M2157.5 1457H2202" fill="none" stroke="#a08888" stroke-width="1.1" />
<g fill="#222"><circle cx="2083" cy="1229" r="2.6"/><circle cx="2083" cy="1240" r="2.6"/><circle cx="2083" cy="1251" r="2.6"/></g>
<rect x="2337" y="747" width="124.5" height="763.5" rx="18" fill="#e6f5da" stroke="#000" stroke-width="3.2" stroke-dasharray="11 6"/>
<g stroke="#666" stroke-width="1.4" fill="none">
<line x1="2203" y1="802" x2="2349" y2="811.6" marker-end="url(#ag)"/>
<line x1="2203" y1="821" x2="2349" y2="885.5" marker-end="url(#ag)"/>
<line x1="2203" y1="840" x2="2349" y2="960" marker-end="url(#ag)"/>
<line x1="2203" y1="859.6" x2="2349" y2="1034" marker-end="url(#ag)"/>
<line x1="2203" y1="894" x2="2349" y2="1221" marker-end="url(#ag)"/>
<line x1="2203" y1="912.5" x2="2349" y2="1295.6" marker-end="url(#ag)"/>
<line x1="2203" y1="931.4" x2="2349" y2="1370" marker-end="url(#ag)"/>
<line x1="2203" y1="950" x2="2349" y2="1444.6" marker-end="url(#ag)"/>
<line x1="2203" y1="1025" x2="2349" y2="813.6" marker-end="url(#ag)"/>
<line x1="2203" y1="1044" x2="2349" y2="887.5" marker-end="url(#ag)"/>
<line x1="2203" y1="1063" x2="2349" y2="962" marker-end="url(#ag)"/>
<line x1="2203" y1="1082.6" x2="2349" y2="1036" marker-end="url(#ag)"/>
<line x1="2203" y1="1117" x2="2349" y2="1223" marker-end="url(#ag)"/>
<line x1="2203" y1="1135.5" x2="2349" y2="1297.6" marker-end="url(#ag)"/>
<line x1="2203" y1="1154.4" x2="2349" y2="1372" marker-end="url(#ag)"/>
<line x1="2203" y1="1173" x2="2349" y2="1446.6" marker-end="url(#ag)"/>
<line x1="2203" y1="1306.7" x2="2349" y2="815.6" marker-end="url(#ag)"/>
<line x1="2203" y1="1325.7" x2="2349" y2="889.5" marker-end="url(#ag)"/>
<line x1="2203" y1="1344.7" x2="2349" y2="964" marker-end="url(#ag)"/>
<line x1="2203" y1="1364.3" x2="2349" y2="1038" marker-end="url(#ag)"/>
<line x1="2203" y1="1398.7" x2="2349" y2="1225" marker-end="url(#ag)"/>
<line x1="2203" y1="1417.2" x2="2349" y2="1299.6" marker-end="url(#ag)"/>
<line x1="2203" y1="1436.1" x2="2349" y2="1374" marker-end="url(#ag)"/>
<line x1="2203" y1="1454.7" x2="2349" y2="1448.6" marker-end="url(#ag)"/>
</g>
<rect x="2349" y="787.6" width="102" height="52" fill="#b3e9eb" stroke="#666" stroke-width="2.6" />
<path d="M2374.5 787.6V839.6M2400 787.6V839.6M2425.5 787.6V839.6M2349 813.6H2451" fill="none" stroke="#666" stroke-width="2.6" />
<rect x="2349" y="861.5" width="102" height="52" fill="#b3e9eb" stroke="#666" stroke-width="2.6" />
<path d="M2374.5 861.5V913.5M2400 861.5V913.5M2425.5 861.5V913.5M2349 887.5H2451" fill="none" stroke="#666" stroke-width="2.6" />
<rect x="2349" y="936" width="102" height="52" fill="#b3e9eb" stroke="#666" stroke-width="2.6" />
<path d="M2374.5 936V988M2400 936V988M2425.5 936V988M2349 962H2451" fill="none" stroke="#666" stroke-width="2.6" />
<rect x="2349" y="1010" width="102" height="52" fill="#b3e9eb" stroke="#666" stroke-width="2.6" />
<path d="M2374.5 1010V1062M2400 1010V1062M2425.5 1010V1062M2349 1036H2451" fill="none" stroke="#666" stroke-width="2.6" />
<rect x="2349" y="1197" width="102" height="52" fill="#b3e9eb" stroke="#666" stroke-width="2.6" />
<path d="M2374.5 1197V1249M2400 1197V1249M2425.5 1197V1249M2349 1223H2451" fill="none" stroke="#666" stroke-width="2.6" />
<rect x="2349" y="1271.6" width="102" height="52" fill="#b3e9eb" stroke="#666" stroke-width="2.6" />
<path d="M2374.5 1271.6V1323.6M2400 1271.6V1323.6M2425.5 1271.6V1323.6M2349 1297.6H2451" fill="none" stroke="#666" stroke-width="2.6" />
<rect x="2349" y="1346" width="102" height="52" fill="#b3e9eb" stroke="#666" stroke-width="2.6" />
<path d="M2374.5 1346V1398M2400 1346V1398M2425.5 1346V1398M2349 1372H2451" fill="none" stroke="#666" stroke-width="2.6" />
<rect x="2349" y="1420.6" width="102" height="52" fill="#b3e9eb" stroke="#666" stroke-width="2.6" />
<path d="M2374.5 1420.6V1472.6M2400 1420.6V1472.6M2425.5 1420.6V1472.6M2349 1446.6H2451" fill="none" stroke="#666" stroke-width="2.6" />
<rect x="2490" y="746.4" width="98" height="764.1" rx="15" fill="#e6f5da" stroke="#000" stroke-width="5" />
<text transform="translate(2549,925.5) rotate(-90)" font-size="49.3" text-anchor="middle" >LayerNorm</text>
<text transform="translate(2552,1117) rotate(-90)" font-size="50" text-anchor="middle" >)</text>
<text transform="translate(2552,1462) rotate(-90)" font-size="50" text-anchor="middle" >(</text>
<rect x="2508.5" y="1139" width="60.5" height="120.4" fill="#b3e9eb" stroke="#777" stroke-width="2.6" />
<path d="M2538.8 1139V1259.4M2508.5 1169.1H2569M2508.5 1199.2H2569M2508.5 1229.3H2569" fill="none" stroke="#777" stroke-width="2.6" />
<rect x="2508.5" y="1309.8" width="60.5" height="121.2" fill="#f4b6b6" stroke="#777" stroke-width="2.6" />
<path d="M2538.8 1309.8V1431M2508.5 1340.1H2569M2508.5 1370.4H2569M2508.5 1400.7H2569" fill="none" stroke="#777" stroke-width="2.6" />
<path d="M2538.5 1273V1301M2524 1287H2553" fill="none" stroke="#000" stroke-width="3" />
<rect x="2618" y="747" width="124" height="763.5" rx="18" fill="#e6f5da" stroke="#000" stroke-width="3.2" stroke-dasharray="11 6"/>
<rect x="2627" y="787.6" width="104" height="52" fill="#47c6c8" stroke="#666" stroke-width="2.6" />
<path d="M2653 787.6V839.6M2679 787.6V839.6M2705 787.6V839.6M2627 813.6H2731" fill="none" stroke="#666" stroke-width="2.6" />
<rect x="2627" y="861.5" width="104" height="52" fill="#47c6c8" stroke="#666" stroke-width="2.6" />
<path d="M2653 861.5V913.5M2679 861.5V913.5M2705 861.5V913.5M2627 887.5H2731" fill="none" stroke="#666" stroke-width="2.6" />
<rect x="2627" y="936" width="104" height="52" fill="#47c6c8" stroke="#666" stroke-width="2.6" />
<path d="M2653 936V988M2679 936V988M2705 936V988M2627 962H2731" fill="none" stroke="#666" stroke-width="2.6" />
<rect x="2624" y="1010" width="104" height="52" fill="#47c6c8" stroke="#666" stroke-width="2.6" />
<path d="M2650 1010V1062M2676 1010V1062M2702 1010V1062M2624 1036H2728" fill="none" stroke="#666" stroke-width="2.6" />
<rect x="2627" y="1197" width="104" height="52" fill="#47c6c8" stroke="#666" stroke-width="2.6" />
<path d="M2653 1197V1249M2679 1197V1249M2705 1197V1249M2627 1223H2731" fill="none" stroke="#666" stroke-width="2.6" />
<rect x="2627" y="1271.6" width="104" height="52" fill="#47c6c8" stroke="#666" stroke-width="2.6" />
<path d="M2653 1271.6V1323.6M2679 1271.6V1323.6M2705 1271.6V1323.6M2627 1297.6H2731" fill="none" stroke="#666" stroke-width="2.6" />
<rect x="2627" y="1346" width="104" height="52" fill="#47c6c8" stroke="#666" stroke-width="2.6" />
<path d="M2653 1346V1398M2679 1346V1398M2705 1346V1398M2627 1372H2731" fill="none" stroke="#666" stroke-width="2.6" />
<rect x="2627" y="1420.6" width="104" height="52" fill="#47c6c8" stroke="#666" stroke-width="2.6" />
<path d="M2653 1420.6V1472.6M2679 1420.6V1472.6M2705 1420.6V1472.6M2627 1446.6H2731" fill="none" stroke="#666" stroke-width="2.6" />
<rect x="2765" y="746.4" width="67" height="349.6" rx="20" fill="#dcf4f6" stroke="#000" stroke-width="5" />
<rect x="2765" y="1162" width="67" height="348.5" rx="20" fill="#dcf4f6" stroke="#000" stroke-width="5" />
<text transform="translate(2810.5,910) rotate(-90)" font-size="49.4" text-anchor="middle" >Feed forward</text>
<text transform="translate(2810.5,1327) rotate(-90)" font-size="49.4" text-anchor="middle" >Feed forward</text>
<rect x="2862.5" y="748.5" width="98.5" height="762" rx="15" fill="#e6f5da" stroke="#000" stroke-width="5" />
<text transform="translate(2921,1112) rotate(-90)" font-size="49.3" text-anchor="middle" >LayerNorm</text>
<path d="M2462 922.3H2488" fill="none" stroke="#000" stroke-width="3.2" marker-end="url(#as)"/>
<path d="M2590 922.3H2616" fill="none" stroke="#000" stroke-width="3.2" marker-end="url(#as)"/>
<path d="M2743 922.3H2763" fill="none" stroke="#000" stroke-width="3.2" marker-end="url(#as)"/>
<path d="M2834 922.3H2860" fill="none" stroke="#000" stroke-width="3.2" marker-end="url(#as)"/>
<path d="M2462 1333H2488" fill="none" stroke="#000" stroke-width="3.2" marker-end="url(#as)"/>
<path d="M2590 1333H2616" fill="none" stroke="#000" stroke-width="3.2" marker-end="url(#as)"/>
<path d="M2743 1333H2763" fill="none" stroke="#000" stroke-width="3.2" marker-end="url(#as)"/>
<path d="M2834 1333H2860" fill="none" stroke="#000" stroke-width="3.2" marker-end="url(#as)"/>
<path d="M1764 769V740Q1764 718 1786 718H2378Q2397 718 2397 732V745" fill="none" stroke="#000" stroke-width="3.2" stroke-dasharray="8.3 10" stroke-linecap="round" marker-end="url(#ah)"/>
<path d="M1827 1154H1852Q1873.5 1150 1873.5 1120V910Q1873.5 878 1913 876.5" fill="none" stroke="#000" stroke-width="3.2" stroke-dasharray="8.3 10" stroke-linecap="round" marker-end="url(#ah)"/>
<path d="M1873.5 1100Q1873.5 1066 1913 1063.5" fill="none" stroke="#000" stroke-width="3.2" stroke-dasharray="8.3 10" stroke-linecap="round" marker-end="url(#ah)"/>
<path d="M1852 1154Q1879.5 1160 1879.5 1195V1350Q1879.5 1380 1913 1380.5" fill="none" stroke="#000" stroke-width="3.2" stroke-dasharray="8.3 10" stroke-linecap="round" marker-end="url(#ah)"/>
<path d="M1455 900H1546" fill="none" stroke="#000" stroke-width="3.5" stroke-dasharray="8.3 10" stroke-linecap="round" marker-end="url(#ah)"/>
<path d="M1390 1553Q1450 1553 1450 1465Q1450 1378 1547 1378" fill="none" stroke="#000" stroke-width="3.5" stroke-dasharray="8.3 10" stroke-linecap="round" marker-end="url(#ah)"/>
<rect x="1396.5" y="1658" width="1647" height="473.5" rx="60" fill="#fef8e5" stroke="#e3c53a" stroke-width="6.5" />
<text x="2567" y="1734" font-size="60.2" text-anchor="middle" font-weight="bold" >Feature of protein DC</text>
<rect x="1446" y="1740" width="611" height="192" fill="#ebd467" stroke="none" stroke-width="0" />
<path d="M1446 1740V1932M1533.3 1740V1932M1620.6 1740V1932M1707.9 1740V1932M1795.1 1740V1932M1882.4 1740V1932M1969.7 1740V1932M2057 1740V1932M1446 1740H2057M1446 1788H2057M1446 1836H2057M1446 1884H2057M1446 1932H2057" fill="none" stroke="#f6e9a8" stroke-width="3" />
<text x="1487.6" y="1772.9" font-size="27" text-anchor="middle" fill="#2a2410" >AA</text>
<text x="1574.9" y="1772.9" font-size="27" text-anchor="middle" fill="#2a2410" >AC</text>
<text x="1662.2" y="1772.9" font-size="27" text-anchor="middle" fill="#2a2410" >AD</text>
<text x="1749.5" y="1772.9" font-size="27" text-anchor="middle" fill="#2a2410" >AE</text>
<text x="1836.8" y="1772.9" font-size="27" text-anchor="middle" fill="#2a2410" >AF</text>
<text x="1924.1" y="1772.9" font-size="27" text-anchor="middle" fill="#2a2410" >AG</text>
<text x="2011.4" y="1772.9" font-size="27" text-anchor="middle" fill="#2a2410" >...</text>
<text x="1487.6" y="1820.9" font-size="27" text-anchor="middle" fill="#2a2410" >CC</text>
<text x="1574.9" y="1820.9" font-size="27" text-anchor="middle" fill="#2a2410" >CD</text>
<text x="1662.2" y="1820.9" font-size="27" text-anchor="middle" fill="#2a2410" >CF</text>
<text x="1749.5" y="1820.9" font-size="27" text-anchor="middle" fill="#2a2410" >CG</text>
<text x="1836.8" y="1820.9" font-size="27" text-anchor="middle" fill="#2a2410" >CH</text>
<text x="1924.1" y="1820.9" font-size="27" text-anchor="middle" fill="#2a2410" >CI</text>
<text x="2011.4" y="1820.9" font-size="27" text-anchor="middle" fill="#2a2410" >...</text>
<text x="1487.6" y="1868.9" font-size="27" text-anchor="middle" fill="#2a2410" >EF</text>
<text x="1574.9" y="1868.9" font-size="27" text-anchor="middle" fill="#2a2410" >FG</text>
<text x="1662.2" y="1868.9" font-size="27" text-anchor="middle" fill="#2a2410" >FH</text>
<text x="1749.5" y="1868.9" font-size="27" text-anchor="middle" fill="#2a2410" >FI</text>
<text x="1836.8" y="1868.9" font-size="27" text-anchor="middle" fill="#2a2410" >FK</text>
<text x="1924.1" y="1868.9" font-size="27" text-anchor="middle" fill="#2a2410" >FL</text>
<text x="1487.6" y="1916.9" font-size="27" text-anchor="middle" fill="#2a2410" >GH</text>
<text x="1574.9" y="1916.9" font-size="27" text-anchor="middle" fill="#2a2410" >GI</text>
<rect x="1570" y="1861.5" width="613.5" height="193.5" fill="#f2e29c" stroke="none" stroke-width="0" />
<path d="M1570 1861.5V2055M1657.6 1861.5V2055M1745.3 1861.5V2055M1832.9 1861.5V2055M1920.6 1861.5V2055M2008.2 1861.5V2055M2095.9 1861.5V2055M2183.5 1861.5V2055M1570 1861.5H2183.5M1570 1909.9H2183.5M1570 1958.2H2183.5M1570 2006.6H2183.5M1570 2055H2183.5" fill="none" stroke="#fbf3cf" stroke-width="3" />
<text x="1611.8" y="1894.6" font-size="27" text-anchor="middle" fill="#2a2410" >0</text>
<text x="1699.5" y="1894.6" font-size="27" text-anchor="middle" fill="#2a2410" >3</text>
<text x="1787.1" y="1894.6" font-size="27" text-anchor="middle" fill="#2a2410" >3</text>
<text x="1874.8" y="1894.6" font-size="27" text-anchor="middle" fill="#2a2410" >1</text>
<text x="1962.4" y="1894.6" font-size="27" text-anchor="middle" fill="#2a2410" >2</text>
<text x="2050" y="1894.6" font-size="27" text-anchor="middle" fill="#2a2410" >0</text>
<text x="2137.7" y="1894.6" font-size="27" text-anchor="middle" fill="#2a2410" >...</text>
<text x="1611.8" y="1943" font-size="27" text-anchor="middle" fill="#2a2410" >6</text>
<text x="1699.5" y="1943" font-size="27" text-anchor="middle" fill="#2a2410" >2</text>
<text x="1787.1" y="1943" font-size="27" text-anchor="middle" fill="#2a2410" >7</text>
<text x="1874.8" y="1943" font-size="27" text-anchor="middle" fill="#2a2410" >6</text>
<text x="1962.4" y="1943" font-size="27" text-anchor="middle" fill="#2a2410" >0</text>
<text x="2050" y="1943" font-size="27" text-anchor="middle" fill="#2a2410" >1</text>
<text x="2137.7" y="1943" font-size="27" text-anchor="middle" fill="#2a2410" >...</text>
<text x="1611.8" y="1991.3" font-size="27" text-anchor="middle" fill="#2a2410" >9</text>
<text x="1699.5" y="1991.3" font-size="27" text-anchor="middle" fill="#2a2410" >1</text>
<text x="1787.1" y="1991.3" font-size="27" text-anchor="middle" fill="#2a2410" >1</text>
<text x="1874.8" y="1991.3" font-size="27" text-anchor="middle" fill="#2a2410" >1</text>
<text x="1962.4" y="1991.3" font-size="27" text-anchor="middle" fill="#2a2410" >3</text>
<text x="2050" y="1991.3" font-size="27" text-anchor="middle" fill="#2a2410" >0</text>
<text x="2137.7" y="1991.3" font-size="27" text-anchor="middle" fill="#2a2410" >...</text>
<text x="1611.8" y="2039.7" font-size="27" text-anchor="middle" fill="#2a2410" >0</text>
<text x="1699.5" y="2039.7" font-size="27" text-anchor="middle" fill="#2a2410" >0</text>
<text x="1787.1" y="2039.7" font-size="27" text-anchor="middle" fill="#2a2410" >11</text>
<text x="1874.8" y="2039.7" font-size="27" text-anchor="middle" fill="#2a2410" >7</text>
<text x="1962.4" y="2039.7" font-size="27" text-anchor="middle" fill="#2a2410" >2</text>
<text x="2050" y="2039.7" font-size="27" text-anchor="middle" fill="#2a2410" >1</text>
<text x="2137.7" y="2039.7" font-size="27" text-anchor="middle" fill="#2a2410" >...</text>
<text x="1479" y="2092.5" font-size="36.1" >A 20 × 20 matrix representation of  protein DC</text>
<text x="2183" y="1818" font-size="68" font-style="italic" >T</text>
<text x="2210" y="1821" font-size="33" font-style="italic" >dc</text>
<path d="M2186 1959H2210Q2233.5 1959 2233.5 1935V1852Q2233.5 1808 2303 1806.5" fill="none" stroke="#000" stroke-width="3.2" stroke-dasharray="8.3 10" stroke-linecap="round" marker-end="url(#ah)"/>
<path d="M2307 1794.5h21.3v21.2h-21.3zM2328.3 1794.5h21.3v21.2h-21.3zM2392.3 1794.5h21.3v21.2h-21.3zM2413.6 1794.5h21.3v21.2h-21.3z" fill="#ecd04a"/>
<path d="M2349.6 1794.5h21.3v21.2h-21.3zM2371 1794.5h21.3v21.2h-21.3zM2456.2 1794.5h21.3v21.2h-21.3z" fill="#a58e24"/>
<path d="M2434.9 1794.5h21.3v21.2h-21.3zM2498.9 1794.5h21.3v21.2h-21.3z" fill="#e3c022"/>
<path d="M2477.6 1794.5h21.3v21.2h-21.3zM2541.5 1794.5h21.3v21.2h-21.3z" fill="#f0dc7a"/>
<path d="M2520.2 1794.5h21.3v21.2h-21.3zM2584.2 1794.5h21.3v21.2h-21.3z" fill="#f3e49a"/>
<path d="M2562.9 1794.5h21.3v21.2h-21.3z" fill="#fdfbee"/>
<path d="M2307 1815.7h21.3v21.2h-21.3zM2371 1815.7h21.3v21.2h-21.3zM2413.6 1815.7h21.3v21.2h-21.3zM2477.6 1815.7h21.3v21.2h-21.3z" fill="#e8373e"/>
<path d="M2328.3 1815.7h21.3v21.2h-21.3zM2434.9 1815.7h21.3v21.2h-21.3zM2541.5 1815.7h21.3v21.2h-21.3zM2584.2 1815.7h21.3v21.2h-21.3z" fill="#f6bcbc"/>
<path d="M2349.6 1815.7h21.3v21.2h-21.3zM2456.2 1815.7h21.3v21.2h-21.3z" fill="#f19595"/>
<path d="M2392.3 1815.7h21.3v21.2h-21.3zM2498.9 1815.7h21.3v21.2h-21.3zM2520.2 1815.7h21.3v21.2h-21.3zM2562.9 1815.7h21.3v21.2h-21.3z" fill="#fadcdc"/>
<path d="M2307 1836.9h21.3v21.2h-21.3zM2328.3 1836.9h21.3v21.2h-21.3zM2434.9 1836.9h21.3v21.2h-21.3zM2520.2 1836.9h21.3v21.2h-21.3z" fill="#6fd4d8"/>
<path d="M2349.6 1836.9h21.3v21.2h-21.3zM2371 1836.9h21.3v21.2h-21.3zM2456.2 1836.9h21.3v21.2h-21.3z" fill="#2a8d92"/>
<path d="M2392.3 1836.9h21.3v21.2h-21.3zM2413.6 1836.9h21.3v21.2h-21.3z" fill="#3fc3c8"/>
<path d="M2477.6 1836.9h21.3v21.2h-21.3zM2562.9 1836.9h21.3v21.2h-21.3z" fill="#aee8ea"/>
<path d="M2498.9 1836.9h21.3v21.2h-21.3zM2541.5 1836.9h21.3v21.2h-21.3z" fill="#5fcdd3"/>
<path d="M2584.2 1836.9h21.3v21.2h-21.3z" fill="#d3f1f3"/>
<path d="M2307 1858.1h21.3v21.2h-21.3z" fill="#5b6be0"/>
<path d="M2328.3 1858.1h21.3v21.2h-21.3zM2456.2 1858.1h21.3v21.2h-21.3zM2562.9 1858.1h21.3v21.2h-21.3z" fill="#c5c9f8"/>
<path d="M2349.6 1858.1h21.3v21.2h-21.3zM2392.3 1858.1h21.3v21.2h-21.3zM2498.9 1858.1h21.3v21.2h-21.3z" fill="#3c57e0"/>
<path d="M2371 1858.1h21.3v21.2h-21.3zM2477.6 1858.1h21.3v21.2h-21.3zM2520.2 1858.1h21.3v21.2h-21.3z" fill="#2139a8"/>
<path d="M2413.6 1858.1h21.3v21.2h-21.3zM2434.9 1858.1h21.3v21.2h-21.3zM2541.5 1858.1h21.3v21.2h-21.3zM2584.2 1858.1h21.3v21.2h-21.3z" fill="#9ba3f0"/>
<path d="M2307 1794.5h298.5M2307 1815.7h298.5M2307 1836.9h298.5M2307 1858.1h298.5M2307 1879.3h298.5M2307 1794.5v84.8M2605.5 1794.5v84.8" fill="none" stroke="#555" stroke-width="1.3" />
<path d="M2663 1794.5h21.3v21.2h-21.3zM2769.6 1794.5h21.3v21.2h-21.3zM2833.6 1794.5h21.3v21.2h-21.3zM2854.9 1794.5h21.3v21.2h-21.3z" fill="#ecd04a"/>
<path d="M2684.3 1794.5h21.3v21.2h-21.3z" fill="#fdfbee"/>
<path d="M2705.6 1794.5h21.3v21.2h-21.3zM2727 1794.5h21.3v21.2h-21.3z" fill="#f0dc7a"/>
<path d="M2748.3 1794.5h21.3v21.2h-21.3zM2812.2 1794.5h21.3v21.2h-21.3zM2918.9 1794.5h21.3v21.2h-21.3zM2940.2 1794.5h21.3v21.2h-21.3z" fill="#e3c022"/>
<path d="M2790.9 1794.5h21.3v21.2h-21.3zM2876.2 1794.5h21.3v21.2h-21.3zM2897.5 1794.5h21.3v21.2h-21.3z" fill="#a58e24"/>
<path d="M2663 1815.7h21.3v21.2h-21.3zM2727 1815.7h21.3v21.2h-21.3zM2769.6 1815.7h21.3v21.2h-21.3zM2833.6 1815.7h21.3v21.2h-21.3z" fill="#e8373e"/>
<path d="M2684.3 1815.7h21.3v21.2h-21.3zM2790.9 1815.7h21.3v21.2h-21.3zM2897.5 1815.7h21.3v21.2h-21.3zM2940.2 1815.7h21.3v21.2h-21.3z" fill="#f6bcbc"/>
<path d="M2705.6 1815.7h21.3v21.2h-21.3zM2812.2 1815.7h21.3v21.2h-21.3z" fill="#f19595"/>
<path d="M2748.3 1815.7h21.3v21.2h-21.3zM2854.9 1815.7h21.3v21.2h-21.3zM2876.2 1815.7h21.3v21.2h-21.3zM2918.9 1815.7h21.3v21.2h-21.3z" fill="#fadcdc"/>
<path d="M2663 1836.9h21.3v21.2h-21.3zM2684.3 1836.9h21.3v21.2h-21.3zM2790.9 1836.9h21.3v21.2h-21.3zM2876.2 1836.9h21.3v21.2h-21.3z" fill="#6fd4d8"/>
<path d="M2705.6 1836.9h21.3v21.2h-21.3zM2727 1836.9h21.3v21.2h-21.3zM2812.2 1836.9h21.3v21.2h-21.3z" fill="#2a8d92"/>
<path d="M2748.3 1836.9h21.3v21.2h-21.3zM2769.6 1836.9h21.3v21.2h-21.3z" fill="#3fc3c8"/>
<path d="M2833.6 1836.9h21.3v21.2h-21.3zM2918.9 1836.9h21.3v21.2h-21.3z" fill="#aee8ea"/>
<path d="M2854.9 1836.9h21.3v21.2h-21.3zM2897.5 1836.9h21.3v21.2h-21.3z" fill="#5fcdd3"/>
<path d="M2940.2 1836.9h21.3v21.2h-21.3z" fill="#d3f1f3"/>
<path d="M2663 1858.1h21.3v21.2h-21.3zM2705.6 1858.1h21.3v21.2h-21.3z" fill="#5b6be0"/>
<path d="M2684.3 1858.1h21.3v21.2h-21.3zM2727 1858.1h21.3v21.2h-21.3z" fill="#2139a8"/>
<path d="M2748.3 1858.1h21.3v21.2h-21.3zM2854.9 1858.1h21.3v21.2h-21.3z" fill="#3c57e0"/>
<path d="M2769.6 1858.1h21.3v21.2h-21.3zM2790.9 1858.1h21.3v21.2h-21.3zM2812.2 1858.1h21.3v21.2h-21.3zM2897.5 1858.1h21.3v21.2h-21.3z" fill="#9ba3f0"/>
<path d="M2833.6 1858.1h21.3v21.2h-21.3zM2918.9 1858.1h21.3v21.2h-21.3zM2940.2 1858.1h21.3v21.2h-21.3z" fill="#c5c9f8"/>
<path d="M2876.2 1858.1h21.3v21.2h-21.3z" fill="#d0d4fa"/>
<path d="M2663 1794.5h298.5M2663 1815.7h298.5M2663 1836.9h298.5M2663 1858.1h298.5M2663 1879.3h298.5M2663 1794.5v84.8M2961.5 1794.5v84.8" fill="none" stroke="#555" stroke-width="1.3" />
<path d="M2307 1962.5h21.3v21.2h-21.3zM2328.3 1962.5h21.3v21.2h-21.3z" fill="#8adfe0"/>
<path d="M2349.6 1962.5h21.3v21.2h-21.3zM2371 1962.5h21.3v21.2h-21.3zM2456.2 1962.5h21.3v21.2h-21.3z" fill="#2a8d92"/>
<path d="M2392.3 1962.5h21.3v21.2h-21.3zM2413.6 1962.5h21.3v21.2h-21.3z" fill="#3fc3c8"/>
<path d="M2434.9 1962.5h21.3v21.2h-21.3zM2520.2 1962.5h21.3v21.2h-21.3z" fill="#6fd4d8"/>
<path d="M2477.6 1962.5h21.3v21.2h-21.3zM2562.9 1962.5h21.3v21.2h-21.3z" fill="#aee8ea"/>
<path d="M2498.9 1962.5h21.3v21.2h-21.3zM2541.5 1962.5h21.3v21.2h-21.3z" fill="#5fcdd3"/>
<path d="M2584.2 1962.5h21.3v21.2h-21.3z" fill="#d3f1f3"/>
<path d="M2307 1983.7h21.3v21.2h-21.3z" fill="#a8e08c"/>
<path d="M2328.3 1983.7h21.3v21.2h-21.3zM2477.6 1983.7h21.3v21.2h-21.3z" fill="#85d553"/>
<path d="M2349.6 1983.7h21.3v21.2h-21.3zM2520.2 1983.7h21.3v21.2h-21.3z" fill="#dff3d5"/>
<path d="M2371 1983.7h21.3v21.2h-21.3zM2392.3 1983.7h21.3v21.2h-21.3zM2456.2 1983.7h21.3v21.2h-21.3zM2562.9 1983.7h21.3v21.2h-21.3zM2584.2 1983.7h21.3v21.2h-21.3z" fill="#c3ebb0"/>
<path d="M2413.6 1983.7h21.3v21.2h-21.3zM2541.5 1983.7h21.3v21.2h-21.3z" fill="#4c9a2a"/>
<path d="M2434.9 1983.7h21.3v21.2h-21.3zM2498.9 1983.7h21.3v21.2h-21.3z" fill="#73cb3b"/>
<path d="M2307 1962.5h298.5M2307 1983.7h298.5M2307 2004.9h298.5M2307 1962.5v42.4M2605.5 1962.5v42.4" fill="none" stroke="#555" stroke-width="1.3" />
<path d="M2663 1962.5h21.3v21.2h-21.3zM2684.3 1962.5h21.3v21.2h-21.3z" fill="#8adfe0"/>
<path d="M2705.6 1962.5h21.3v21.2h-21.3zM2727 1962.5h21.3v21.2h-21.3zM2812.2 1962.5h21.3v21.2h-21.3z" fill="#2a8d92"/>
<path d="M2748.3 1962.5h21.3v21.2h-21.3zM2769.6 1962.5h21.3v21.2h-21.3z" fill="#3fc3c8"/>
<path d="M2790.9 1962.5h21.3v21.2h-21.3zM2876.2 1962.5h21.3v21.2h-21.3z" fill="#6fd4d8"/>
<path d="M2833.6 1962.5h21.3v21.2h-21.3zM2918.9 1962.5h21.3v21.2h-21.3z" fill="#aee8ea"/>
<path d="M2854.9 1962.5h21.3v21.2h-21.3zM2897.5 1962.5h21.3v21.2h-21.3z" fill="#5fcdd3"/>
<path d="M2940.2 1962.5h21.3v21.2h-21.3z" fill="#d3f1f3"/>
<path d="M2663 1983.7h21.3v21.2h-21.3z" fill="#a8e08c"/>
<path d="M2684.3 1983.7h21.3v21.2h-21.3z" fill="#85d553"/>
<path d="M2705.6 1983.7h21.3v21.2h-21.3z" fill="#4c9a2a"/>
<path d="M2727 1983.7h21.3v21.2h-21.3zM2748.3 1983.7h21.3v21.2h-21.3zM2812.2 1983.7h21.3v21.2h-21.3zM2918.9 1983.7h21.3v21.2h-21.3zM2940.2 1983.7h21.3v21.2h-21.3z" fill="#c3ebb0"/>
<path d="M2769.6 1983.7h21.3v21.2h-21.3zM2876.2 1983.7h21.3v21.2h-21.3zM2897.5 1983.7h21.3v21.2h-21.3z" fill="#dff3d5"/>
<path d="M2790.9 1983.7h21.3v21.2h-21.3zM2833.6 1983.7h21.3v21.2h-21.3zM2854.9 1983.7h21.3v21.2h-21.3z" fill="#73cb3b"/>
<path d="M2663 1962.5h298.5M2663 1983.7h298.5M2663 2004.9h298.5M2663 1962.5v42.4M2961.5 1962.5v42.4" fill="none" stroke="#555" stroke-width="1.3" />
<text x="2634" y="1840" font-size="28" text-anchor="middle" class="s" fill="#333" textLength="22">...</text>
<text x="2634" y="1989" font-size="28" text-anchor="middle" class="s" fill="#333" textLength="22">...</text>
<g fill="#222"><circle cx="2315" cy="1904" r="2.2"/><circle cx="2315" cy="1913" r="2.2"/><circle cx="2315" cy="1922" r="2.2"/></g>
<g fill="#222"><circle cx="2594" cy="1904" r="2.2"/><circle cx="2594" cy="1913" r="2.2"/><circle cx="2594" cy="1922" r="2.2"/></g>
<g fill="#222"><circle cx="2670" cy="1904" r="2.2"/><circle cx="2670" cy="1913" r="2.2"/><circle cx="2670" cy="1922" r="2.2"/></g>
<g fill="#222"><circle cx="2956" cy="1904" r="2.2"/><circle cx="2956" cy="1913" r="2.2"/><circle cx="2956" cy="1922" r="2.2"/></g>
<text x="2635.5" y="2067" font-size="36.1" text-anchor="middle" >Batch the corresponding data and</text>
<text x="2635.5" y="2109.5" font-size="36.1" text-anchor="middle" >fill in the missing values with 0</text>
<path d="M1327 1612V1740Q1327 1836 1437 1836" fill="none" stroke="#000" stroke-width="3.5" stroke-dasharray="8.3 10" stroke-linecap="round" marker-end="url(#ah)"/>
<rect x="3335.5" y="95" width="732.5" height="2028" rx="56" fill="#b6eaea" stroke="#3a8f94" stroke-width="6.4" />
<text x="3709" y="179" font-size="60.2" text-anchor="middle" font-weight="bold" >Feature integration</text>
<rect x="3378.5" y="222" width="307.3" height="941" rx="48" fill="#f0fdfd" stroke="#3a8f94" stroke-width="4.5" />
<rect x="3715" y="222" width="307" height="941" rx="48" fill="#f0fdfd" stroke="#3a8f94" stroke-width="4.5" />
<rect x="3378.5" y="1199" width="307.3" height="873.5" rx="48" fill="#f0fdfd" stroke="#3a8f94" stroke-width="4.5" />
<rect x="3715" y="1199" width="307" height="873.5" rx="48" fill="#f0fdfd" stroke="#3a8f94" stroke-width="4.5" />
<path d="M3434 732h24.8v11.3h-24.8zM3434 840.8h24.8v11.3h-24.8zM3434 1025.6h24.8v11.3h-24.8zM3458.4 971.2h24.8v5.8h-24.8zM3482.9 732h24.8v5.8h-24.8zM3482.9 748.3h24.8v5.8h-24.8zM3482.9 764.6h24.8v5.8h-24.8zM3482.9 797.2h24.8v16.7h-24.8zM3482.9 824.4h24.8v5.8h-24.8zM3482.9 938.6h24.8v16.7h-24.8zM3482.9 1047.4h24.8v5.8h-24.8zM3507.3 819h24.8v5.8h-24.8zM3507.3 884.2h24.8v16.7h-24.8zM3507.3 993h24.8v5.8h-24.8zM3531.8 889.7h24.8v5.8h-24.8zM3531.8 949.5h24.8v5.8h-24.8zM3531.8 1020.2h24.8v5.8h-24.8zM3556.2 802.7h24.8v5.8h-24.8zM3556.2 933.2h24.8v16.7h-24.8zM3556.2 993h24.8v16.7h-24.8zM3556.2 1063.7h24.8v16.7h-24.8zM3580.6 742.9h24.8v16.7h-24.8zM3580.6 770.1h24.8v5.8h-24.8zM3580.6 900.6h24.8v11.3h-24.8zM3605.1 732h24.8v5.8h-24.8zM3605.1 829.9h24.8v5.8h-24.8z" fill="#6a35a8"/>
<path d="M3434 742.9h24.8v5.8h-24.8zM3531.8 944.1h24.8v5.8h-24.8zM3531.8 954.9h24.8v5.8h-24.8zM3556.2 927.8h24.8v5.8h-24.8zM3605.1 835.3h24.8v5.8h-24.8z" fill="#9e70a1"/>
<path d="M3434 748.3h24.8v5.8h-24.8zM3434 802.7h24.8v5.8h-24.8zM3434 1074.6h24.8v5.8h-24.8zM3458.4 732h24.8v11.3h-24.8zM3458.4 764.6h24.8v16.7h-24.8zM3458.4 933.2h24.8v5.8h-24.8zM3458.4 1036.5h24.8v5.8h-24.8zM3482.9 873.4h24.8v16.7h-24.8zM3507.3 808.1h24.8v11.3h-24.8zM3507.3 857.1h24.8v5.8h-24.8zM3507.3 927.8h24.8v16.7h-24.8zM3507.3 1047.4h24.8v5.8h-24.8zM3531.8 802.7h24.8v5.8h-24.8zM3531.8 873.4h24.8v16.7h-24.8zM3531.8 938.6h24.8v5.8h-24.8zM3531.8 960.4h24.8v5.8h-24.8zM3531.8 998.4h24.8v11.3h-24.8zM3531.8 1069.1h24.8v5.8h-24.8zM3556.2 922.3h24.8v5.8h-24.8zM3556.2 949.5h24.8v27.6h-24.8zM3556.2 1009.3h24.8v5.8h-24.8zM3580.6 829.9h24.8v22.1h-24.8zM3580.6 867.9h24.8v5.8h-24.8zM3580.6 933.2h24.8v16.7h-24.8zM3580.6 982.1h24.8v5.8h-24.8zM3580.6 1052.8h24.8v16.7h-24.8zM3605.1 840.8h24.8v5.8h-24.8zM3605.1 873.4h24.8v5.8h-24.8zM3605.1 960.4h24.8v16.7h-24.8zM3605.1 1047.4h24.8v16.7h-24.8z" fill="#d3aa9a"/>
<path d="M3434 753.8h24.8v5.8h-24.8zM3507.3 802.7h24.8v5.8h-24.8zM3507.3 922.3h24.8v5.8h-24.8zM3507.3 944.1h24.8v5.8h-24.8zM3507.3 1052.8h24.8v5.8h-24.8zM3580.6 1069.1h24.8v5.8h-24.8zM3605.1 1041.9h24.8v5.8h-24.8z" fill="#e8c592"/>
<path d="M3434 759.2h24.8v11.3h-24.8zM3434 808.1h24.8v5.8h-24.8zM3434 884.2h24.8v33h-24.8zM3434 982.1h24.8v16.7h-24.8zM3458.4 748.3h24.8v5.8h-24.8zM3458.4 824.4h24.8v27.6h-24.8zM3458.4 862.5h24.8v38.5h-24.8zM3458.4 938.6h24.8v5.8h-24.8zM3458.4 960.4h24.8v5.8h-24.8zM3458.4 993h24.8v22.1h-24.8zM3458.4 1041.9h24.8v5.8h-24.8zM3482.9 786.4h24.8v5.8h-24.8zM3482.9 835.3h24.8v16.7h-24.8zM3482.9 922.3h24.8v11.3h-24.8zM3482.9 998.4h24.8v5.8h-24.8zM3482.9 1025.6h24.8v5.8h-24.8zM3482.9 1041.9h24.8v5.8h-24.8zM3507.3 753.8h24.8v27.6h-24.8zM3507.3 791.8h24.8v11.3h-24.8zM3507.3 911.4h24.8v11.3h-24.8zM3507.3 949.5h24.8v38.5h-24.8zM3507.3 1058.2h24.8v22.1h-24.8zM3531.8 732h24.8v16.7h-24.8zM3531.8 759.2h24.8v16.7h-24.8zM3531.8 911.4h24.8v5.8h-24.8zM3531.8 1058.2h24.8v11.3h-24.8zM3531.8 1074.6h24.8v5.8h-24.8zM3556.2 753.8h24.8v16.7h-24.8zM3556.2 813.6h24.8v16.7h-24.8zM3556.2 846.2h24.8v16.7h-24.8zM3556.2 873.4h24.8v5.8h-24.8zM3580.6 759.2h24.8v5.8h-24.8zM3580.6 873.4h24.8v5.8h-24.8zM3580.6 965.8h24.8v16.7h-24.8zM3580.6 1074.6h24.8v5.8h-24.8zM3605.1 759.2h24.8v22.1h-24.8zM3605.1 813.6h24.8v11.3h-24.8zM3605.1 889.7h24.8v38.5h-24.8zM3605.1 1036.5h24.8v5.8h-24.8z" fill="#fde08a"/>
<path d="M3434 770.1h24.8v5.8h-24.8zM3434 976.7h24.8v5.8h-24.8zM3458.4 857.1h24.8v5.8h-24.8zM3482.9 916.9h24.8v5.8h-24.8zM3482.9 1031.1h24.8v5.8h-24.8zM3556.2 862.5h24.8v5.8h-24.8zM3605.1 808.1h24.8v5.8h-24.8z" fill="#dab59c"/>
<path d="M3434 775.5h24.8v11.3h-24.8zM3434 971.2h24.8v5.8h-24.8zM3434 1069.1h24.8v5.8h-24.8zM3458.4 753.8h24.8v5.8h-24.8zM3458.4 780.9h24.8v5.8h-24.8zM3458.4 851.6h24.8v5.8h-24.8zM3482.9 851.6h24.8v5.8h-24.8zM3482.9 906h24.8v11.3h-24.8zM3482.9 1036.5h24.8v5.8h-24.8zM3482.9 1069.1h24.8v11.3h-24.8zM3507.3 737.4h24.8v5.8h-24.8zM3507.3 867.9h24.8v16.7h-24.8zM3531.8 813.6h24.8v5.8h-24.8zM3531.8 835.3h24.8v5.8h-24.8zM3531.8 916.9h24.8v5.8h-24.8zM3531.8 971.2h24.8v11.3h-24.8zM3556.2 867.9h24.8v5.8h-24.8zM3556.2 911.4h24.8v11.3h-24.8zM3556.2 982.1h24.8v5.8h-24.8zM3556.2 1052.8h24.8v5.8h-24.8zM3580.6 780.9h24.8v5.8h-24.8zM3580.6 824.4h24.8v5.8h-24.8zM3580.6 857.1h24.8v5.8h-24.8zM3580.6 889.7h24.8v5.8h-24.8zM3580.6 1009.3h24.8v22.1h-24.8zM3605.1 786.4h24.8v22.1h-24.8zM3605.1 862.5h24.8v5.8h-24.8zM3605.1 884.2h24.8v5.8h-24.8zM3605.1 982.1h24.8v11.3h-24.8z" fill="#b88aae"/>
<path d="M3434 786.4h24.8v5.8h-24.8zM3482.9 900.6h24.8v5.8h-24.8zM3531.8 982.1h24.8v5.8h-24.8zM3556.2 1047.4h24.8v5.8h-24.8zM3580.6 819h24.8v5.8h-24.8zM3605.1 993h24.8v5.8h-24.8z" fill="#9b69ae"/>
<path d="M3434 791.8h24.8v11.3h-24.8zM3434 938.6h24.8v11.3h-24.8zM3434 1036.5h24.8v16.7h-24.8zM3458.4 742.9h24.8v5.8h-24.8zM3458.4 786.4h24.8v5.8h-24.8zM3458.4 819h24.8v5.8h-24.8zM3458.4 906h24.8v16.7h-24.8zM3482.9 742.9h24.8v5.8h-24.8zM3482.9 895.1h24.8v5.8h-24.8zM3482.9 1003.9h24.8v5.8h-24.8zM3507.3 780.9h24.8v5.8h-24.8zM3507.3 829.9h24.8v22.1h-24.8zM3507.3 900.6h24.8v5.8h-24.8zM3531.8 922.3h24.8v16.7h-24.8zM3531.8 987.6h24.8v5.8h-24.8zM3531.8 1009.3h24.8v5.8h-24.8zM3556.2 742.9h24.8v5.8h-24.8zM3556.2 884.2h24.8v5.8h-24.8zM3556.2 1036.5h24.8v11.3h-24.8zM3580.6 732h24.8v5.8h-24.8zM3580.6 802.7h24.8v16.7h-24.8zM3580.6 916.9h24.8v11.3h-24.8zM3605.1 998.4h24.8v11.3h-24.8z" fill="#7e48ae"/>
<path d="M3434 813.6h24.8v5.8h-24.8zM3434 878.8h24.8v5.8h-24.8zM3458.4 1047.4h24.8v5.8h-24.8zM3482.9 993h24.8v5.8h-24.8zM3531.8 775.5h24.8v5.8h-24.8zM3531.8 1052.8h24.8v5.8h-24.8zM3580.6 878.8h24.8v5.8h-24.8zM3580.6 960.4h24.8v5.8h-24.8zM3605.1 1031.1h24.8v5.8h-24.8z" fill="#cca49e"/>
<path d="M3434 819h24.8v16.7h-24.8zM3434 857.1h24.8v22.1h-24.8zM3434 916.9h24.8v5.8h-24.8zM3458.4 927.8h24.8v5.8h-24.8zM3458.4 982.1h24.8v11.3h-24.8zM3458.4 1052.8h24.8v27.6h-24.8zM3482.9 753.8h24.8v5.8h-24.8zM3482.9 813.6h24.8v5.8h-24.8zM3482.9 965.8h24.8v27.6h-24.8zM3482.9 1058.2h24.8v5.8h-24.8zM3507.3 732h24.8v5.8h-24.8zM3507.3 748.3h24.8v5.8h-24.8zM3507.3 1025.6h24.8v16.7h-24.8zM3531.8 780.9h24.8v11.3h-24.8zM3531.8 808.1h24.8v5.8h-24.8zM3531.8 824.4h24.8v5.8h-24.8zM3531.8 1025.6h24.8v27.6h-24.8zM3556.2 770.1h24.8v27.6h-24.8zM3556.2 895.1h24.8v11.3h-24.8zM3556.2 1020.2h24.8v11.3h-24.8zM3580.6 884.2h24.8v5.8h-24.8zM3580.6 954.9h24.8v5.8h-24.8zM3605.1 780.9h24.8v5.8h-24.8zM3605.1 824.4h24.8v5.8h-24.8zM3605.1 1025.6h24.8v5.8h-24.8zM3605.1 1069.1h24.8v11.3h-24.8z" fill="#9a68b2"/>
<path d="M3434 835.3h24.8v5.8h-24.8zM3434 851.6h24.8v5.8h-24.8zM3458.4 976.7h24.8v5.8h-24.8zM3482.9 759.2h24.8v5.8h-24.8zM3482.9 819h24.8v5.8h-24.8zM3482.9 1052.8h24.8v5.8h-24.8zM3556.2 797.2h24.8v5.8h-24.8z" fill="#824ead"/>
<path d="M3434 922.3h24.8v5.8h-24.8zM3482.9 960.4h24.8v5.8h-24.8zM3507.3 1020.2h24.8v5.8h-24.8zM3531.8 791.8h24.8v5.8h-24.8z" fill="#c398a0"/>
<path d="M3434 927.8h24.8v5.8h-24.8zM3434 954.9h24.8v11.3h-24.8zM3434 1003.9h24.8v16.7h-24.8zM3434 1058.2h24.8v11.3h-24.8zM3458.4 797.2h24.8v16.7h-24.8zM3458.4 949.5h24.8v11.3h-24.8zM3458.4 1020.2h24.8v11.3h-24.8zM3482.9 775.5h24.8v11.3h-24.8zM3482.9 862.5h24.8v5.8h-24.8zM3482.9 954.9h24.8v5.8h-24.8zM3482.9 1009.3h24.8v16.7h-24.8zM3507.3 1003.9h24.8v16.7h-24.8zM3531.8 748.3h24.8v5.8h-24.8zM3531.8 797.2h24.8v5.8h-24.8zM3531.8 840.8h24.8v27.6h-24.8zM3531.8 900.6h24.8v5.8h-24.8zM3556.2 732h24.8v11.3h-24.8zM3556.2 835.3h24.8v5.8h-24.8zM3580.6 791.8h24.8v5.8h-24.8zM3580.6 862.5h24.8v5.8h-24.8zM3580.6 993h24.8v11.3h-24.8zM3580.6 1036.5h24.8v11.3h-24.8zM3605.1 742.9h24.8v11.3h-24.8zM3605.1 851.6h24.8v5.8h-24.8zM3605.1 927.8h24.8v27.6h-24.8zM3605.1 1014.8h24.8v11.3h-24.8z" fill="#ecc98e"/>
<path d="M3434 933.2h24.8v5.8h-24.8zM3434 949.5h24.8v5.8h-24.8zM3434 1052.8h24.8v5.8h-24.8zM3458.4 791.8h24.8v5.8h-24.8zM3458.4 813.6h24.8v5.8h-24.8zM3580.6 797.2h24.8v5.8h-24.8zM3605.1 1009.3h24.8v5.8h-24.8z" fill="#b5889e"/>
<path d="M3434 965.8h24.8v5.8h-24.8zM3482.9 857.1h24.8v5.8h-24.8zM3580.6 786.4h24.8v5.8h-24.8zM3580.6 1003.9h24.8v5.8h-24.8zM3580.6 1031.1h24.8v5.8h-24.8zM3605.1 857.1h24.8v5.8h-24.8z" fill="#d2aa9e"/>
<path d="M3434 998.4h24.8v5.8h-24.8zM3458.4 944.1h24.8v5.8h-24.8zM3458.4 1014.8h24.8v5.8h-24.8zM3531.8 753.8h24.8v5.8h-24.8zM3531.8 906h24.8v5.8h-24.8zM3556.2 829.9h24.8v5.8h-24.8zM3556.2 840.8h24.8v5.8h-24.8zM3605.1 753.8h24.8v5.8h-24.8z" fill="#f4d48c"/>
<path d="M3434 1020.2h24.8v5.8h-24.8zM3482.9 770.1h24.8v5.8h-24.8zM3507.3 998.4h24.8v5.8h-24.8zM3531.8 895.1h24.8v5.8h-24.8zM3605.1 737.4h24.8v5.8h-24.8z" fill="#ab7f9b"/>
<path d="M3458.4 759.2h24.8v5.8h-24.8zM3507.3 862.5h24.8v5.8h-24.8zM3531.8 965.8h24.8v5.8h-24.8zM3556.2 976.7h24.8v5.8h-24.8zM3580.6 851.6h24.8v5.8h-24.8zM3605.1 867.9h24.8v5.8h-24.8zM3605.1 878.8h24.8v5.8h-24.8zM3605.1 976.7h24.8v5.8h-24.8z" fill="#c69aa4"/>
<path d="M3458.4 900.6h24.8v5.8h-24.8zM3507.3 786.4h24.8v5.8h-24.8zM3507.3 906h24.8v5.8h-24.8zM3556.2 748.3h24.8v5.8h-24.8zM3556.2 878.8h24.8v5.8h-24.8z" fill="#be949c"/>
<path d="M3458.4 922.3h24.8v5.8h-24.8zM3556.2 889.7h24.8v5.8h-24.8zM3556.2 1031.1h24.8v5.8h-24.8z" fill="#8c58b0"/>
<path d="M3458.4 965.8h24.8v5.8h-24.8zM3482.9 791.8h24.8v5.8h-24.8zM3482.9 829.9h24.8v5.8h-24.8zM3482.9 933.2h24.8v5.8h-24.8zM3507.3 987.6h24.8v5.8h-24.8zM3556.2 808.1h24.8v5.8h-24.8zM3580.6 764.6h24.8v5.8h-24.8z" fill="#b48a99"/>
<path d="M3458.4 1031.1h24.8v5.8h-24.8zM3482.9 867.9h24.8v5.8h-24.8zM3531.8 867.9h24.8v5.8h-24.8zM3580.6 987.6h24.8v5.8h-24.8zM3580.6 1047.4h24.8v5.8h-24.8zM3605.1 846.2h24.8v5.8h-24.8zM3605.1 954.9h24.8v5.8h-24.8z" fill="#e0ba94"/>
<path d="M3482.9 737.4h24.8v5.8h-24.8zM3507.3 824.4h24.8v5.8h-24.8zM3531.8 1014.8h24.8v5.8h-24.8zM3580.6 737.4h24.8v5.8h-24.8zM3580.6 911.4h24.8v5.8h-24.8z" fill="#743eab"/>
<path d="M3482.9 889.7h24.8v5.8h-24.8zM3507.3 851.6h24.8v5.8h-24.8zM3531.8 993h24.8v5.8h-24.8zM3580.6 927.8h24.8v5.8h-24.8z" fill="#a879a4"/>
<path d="M3482.9 1063.7h24.8v5.8h-24.8zM3507.3 742.9h24.8v5.8h-24.8zM3531.8 819h24.8v5.8h-24.8zM3531.8 829.9h24.8v5.8h-24.8zM3556.2 906h24.8v5.8h-24.8z" fill="#a979b0"/>
<path d="M3507.3 1041.9h24.8v5.8h-24.8zM3556.2 1014.8h24.8v5.8h-24.8zM3580.6 949.5h24.8v5.8h-24.8zM3605.1 1063.7h24.8v5.8h-24.8z" fill="#b689a6"/>
<path d="M3556.2 987.6h24.8v5.8h-24.8zM3556.2 1058.2h24.8v5.8h-24.8zM3580.6 775.5h24.8v5.8h-24.8zM3580.6 895.1h24.8v5.8h-24.8z" fill="#9160ab"/>
<path d="M3770.7 518h24.8v11.4h-24.8zM3795.1 573.1h24.8v16.9h-24.8zM3795.1 611.6h24.8v5.9h-24.8zM3795.1 683.3h24.8v5.9h-24.8zM3795.1 721.8h24.8v27.9h-24.8zM3795.1 798.9h24.8v5.9h-24.8zM3795.1 821h24.8v5.9h-24.8zM3819.5 716.3h24.8v5.9h-24.8zM3819.5 760.4h24.8v11.4h-24.8zM3843.9 710.8h24.8v5.9h-24.8zM3868.3 595.1h24.8v5.9h-24.8zM3868.3 611.6h24.8v5.9h-24.8zM3868.3 628.2h24.8v16.9h-24.8zM3868.3 683.3h24.8v16.9h-24.8zM3868.3 776.9h24.8v16.9h-24.8zM3868.3 832h24.8v5.9h-24.8zM3892.8 556.6h24.8v5.9h-24.8zM3892.8 600.6h24.8v16.9h-24.8zM3917.2 644.7h24.8v16.9h-24.8zM3941.6 644.7h24.8v11.4h-24.8z" fill="#ecc98e"/>
<path d="M3770.7 529h24.8v5.9h-24.8zM3795.1 749.4h24.8v5.9h-24.8zM3795.1 804.4h24.8v5.9h-24.8zM3795.1 815.5h24.8v5.9h-24.8zM3819.5 721.8h24.8v5.9h-24.8zM3843.9 716.3h24.8v5.9h-24.8zM3868.3 606.1h24.8v5.9h-24.8zM3892.8 562.1h24.8v5.9h-24.8zM3917.2 661.2h24.8v5.9h-24.8z" fill="#c398a0"/>
<path d="M3770.7 534.5h24.8v11.4h-24.8zM3770.7 617.2h24.8v16.9h-24.8zM3770.7 655.7h24.8v5.9h-24.8zM3770.7 760.4h24.8v5.9h-24.8zM3795.1 606.1h24.8v5.9h-24.8zM3795.1 633.7h24.8v11.4h-24.8zM3795.1 754.9h24.8v5.9h-24.8zM3795.1 810h24.8v5.9h-24.8zM3819.5 551.1h24.8v5.9h-24.8zM3819.5 661.2h24.8v16.9h-24.8zM3819.5 727.3h24.8v11.4h-24.8zM3819.5 832h24.8v5.9h-24.8zM3843.9 567.6h24.8v5.9h-24.8zM3843.9 721.8h24.8v27.9h-24.8zM3843.9 760.4h24.8v22.4h-24.8zM3843.9 821h24.8v16.9h-24.8zM3868.3 600.6h24.8v5.9h-24.8zM3868.3 760.4h24.8v5.9h-24.8zM3892.8 567.6h24.8v16.9h-24.8zM3892.8 655.7h24.8v11.4h-24.8zM3917.2 578.6h24.8v5.9h-24.8zM3917.2 666.7h24.8v5.9h-24.8zM3917.2 721.8h24.8v5.9h-24.8zM3941.6 562.1h24.8v5.9h-24.8zM3941.6 589.6h24.8v5.9h-24.8zM3941.6 611.6h24.8v5.9h-24.8zM3941.6 760.4h24.8v5.9h-24.8zM3941.6 782.4h24.8v11.4h-24.8zM3941.6 821h24.8v5.9h-24.8z" fill="#9a68b2"/>
<path d="M3770.7 545.5h24.8v5.9h-24.8zM3770.7 639.2h24.8v5.9h-24.8zM3770.7 694.3h24.8v16.9h-24.8zM3770.7 826.5h24.8v5.9h-24.8zM3795.1 622.7h24.8v5.9h-24.8zM3795.1 787.9h24.8v5.9h-24.8zM3819.5 688.8h24.8v5.9h-24.8zM3819.5 804.4h24.8v5.9h-24.8zM3843.9 556.6h24.8v5.9h-24.8zM3843.9 688.8h24.8v16.9h-24.8zM3843.9 782.4h24.8v5.9h-24.8zM3868.3 518h24.8v11.4h-24.8zM3868.3 540h24.8v11.4h-24.8zM3868.3 562.1h24.8v11.4h-24.8zM3868.3 716.3h24.8v5.9h-24.8zM3892.8 644.7h24.8v5.9h-24.8zM3892.8 672.2h24.8v5.9h-24.8zM3892.8 760.4h24.8v16.9h-24.8zM3917.2 754.9h24.8v27.9h-24.8zM3917.2 787.9h24.8v5.9h-24.8zM3941.6 771.4h24.8v5.9h-24.8zM3941.6 798.9h24.8v16.9h-24.8z" fill="#d3aa9a"/>
<path d="M3770.7 551.1h24.8v5.9h-24.8zM3795.1 832h24.8v5.9h-24.8zM3892.8 677.8h24.8v5.9h-24.8z" fill="#c69aa4"/>
<path d="M3770.7 556.6h24.8v5.9h-24.8zM3770.7 606.1h24.8v5.9h-24.8zM3770.7 727.3h24.8v16.9h-24.8zM3770.7 765.9h24.8v22.4h-24.8zM3795.1 518h24.8v22.4h-24.8zM3795.1 826.5h24.8v5.9h-24.8zM3819.5 545.5h24.8v5.9h-24.8zM3819.5 644.7h24.8v11.4h-24.8zM3868.3 617.2h24.8v5.9h-24.8zM3868.3 650.2h24.8v27.9h-24.8zM3868.3 749.4h24.8v5.9h-24.8zM3868.3 765.9h24.8v5.9h-24.8zM3892.8 518h24.8v5.9h-24.8zM3892.8 683.3h24.8v5.9h-24.8zM3892.8 821h24.8v5.9h-24.8zM3917.2 600.6h24.8v5.9h-24.8zM3917.2 633.7h24.8v5.9h-24.8zM3917.2 710.8h24.8v5.9h-24.8zM3917.2 821h24.8v16.9h-24.8z" fill="#b88aae"/>
<path d="M3770.7 562.1h24.8v5.9h-24.8zM3770.7 721.8h24.8v5.9h-24.8zM3795.1 540h24.8v5.9h-24.8zM3868.3 743.9h24.8v5.9h-24.8zM3892.8 688.8h24.8v5.9h-24.8z" fill="#9b69ae"/>
<path d="M3770.7 567.6h24.8v39h-24.8zM3770.7 672.2h24.8v16.9h-24.8zM3770.7 716.3h24.8v5.9h-24.8zM3795.1 545.5h24.8v16.9h-24.8zM3795.1 666.7h24.8v5.9h-24.8zM3795.1 699.8h24.8v11.4h-24.8zM3819.5 518h24.8v5.9h-24.8zM3819.5 600.6h24.8v16.9h-24.8zM3819.5 743.9h24.8v11.4h-24.8zM3843.9 545.5h24.8v5.9h-24.8zM3843.9 589.6h24.8v16.9h-24.8zM3843.9 628.2h24.8v22.4h-24.8zM3843.9 677.8h24.8v5.9h-24.8zM3843.9 810h24.8v5.9h-24.8zM3868.3 705.3h24.8v11.4h-24.8zM3868.3 727.3h24.8v16.9h-24.8zM3892.8 589.6h24.8v5.9h-24.8zM3892.8 617.2h24.8v22.4h-24.8zM3892.8 694.3h24.8v5.9h-24.8zM3892.8 705.3h24.8v5.9h-24.8zM3892.8 798.9h24.8v22.4h-24.8zM3917.2 518h24.8v5.9h-24.8zM3917.2 534.5h24.8v22.4h-24.8zM3917.2 677.8h24.8v5.9h-24.8zM3917.2 732.8h24.8v16.9h-24.8zM3917.2 782.4h24.8v5.9h-24.8zM3917.2 798.9h24.8v5.9h-24.8zM3941.6 545.5h24.8v16.9h-24.8zM3941.6 600.6h24.8v5.9h-24.8zM3941.6 622.7h24.8v5.9h-24.8zM3941.6 738.3h24.8v16.9h-24.8zM3941.6 826.5h24.8v5.9h-24.8z" fill="#7e48ae"/>
<path d="M3770.7 611.6h24.8v5.9h-24.8zM3819.5 655.7h24.8v5.9h-24.8zM3868.3 754.9h24.8v5.9h-24.8zM3917.2 716.3h24.8v5.9h-24.8z" fill="#a979b0"/>
<path d="M3770.7 633.7h24.8v5.9h-24.8zM3770.7 832h24.8v5.9h-24.8zM3795.1 628.2h24.8v5.9h-24.8zM3892.8 650.2h24.8v5.9h-24.8zM3892.8 666.7h24.8v5.9h-24.8zM3941.6 765.9h24.8v5.9h-24.8zM3941.6 776.9h24.8v5.9h-24.8zM3941.6 793.4h24.8v5.9h-24.8zM3941.6 815.5h24.8v5.9h-24.8z" fill="#b689a6"/>
<path d="M3770.7 644.7h24.8v5.9h-24.8zM3819.5 694.3h24.8v5.9h-24.8zM3892.8 754.9h24.8v5.9h-24.8zM3892.8 776.9h24.8v5.9h-24.8z" fill="#9e70a1"/>
<path d="M3770.7 650.2h24.8v5.9h-24.8zM3770.7 743.9h24.8v16.9h-24.8zM3770.7 793.4h24.8v16.9h-24.8zM3795.1 562.1h24.8v5.9h-24.8zM3795.1 595.1h24.8v5.9h-24.8zM3819.5 523.5h24.8v11.4h-24.8zM3819.5 562.1h24.8v5.9h-24.8zM3819.5 589.6h24.8v5.9h-24.8zM3819.5 683.3h24.8v5.9h-24.8zM3819.5 699.8h24.8v11.4h-24.8zM3819.5 821h24.8v5.9h-24.8zM3843.9 518h24.8v22.4h-24.8zM3843.9 562.1h24.8v5.9h-24.8zM3843.9 578.6h24.8v5.9h-24.8zM3843.9 650.2h24.8v5.9h-24.8zM3868.3 573.1h24.8v16.9h-24.8zM3868.3 821h24.8v5.9h-24.8zM3892.8 710.8h24.8v44.5h-24.8zM3892.8 782.4h24.8v16.9h-24.8zM3917.2 529h24.8v5.9h-24.8zM3917.2 562.1h24.8v11.4h-24.8zM3917.2 804.4h24.8v5.9h-24.8zM3941.6 518h24.8v22.4h-24.8zM3941.6 573.1h24.8v11.4h-24.8zM3941.6 655.7h24.8v27.9h-24.8zM3941.6 694.3h24.8v5.9h-24.8z" fill="#6a35a8"/>
<path d="M3770.7 661.2h24.8v5.9h-24.8zM3770.7 710.8h24.8v5.9h-24.8zM3770.7 815.5h24.8v11.4h-24.8zM3795.1 650.2h24.8v11.4h-24.8zM3795.1 677.8h24.8v5.9h-24.8zM3795.1 694.3h24.8v5.9h-24.8zM3795.1 710.8h24.8v5.9h-24.8zM3795.1 765.9h24.8v16.9h-24.8zM3819.5 540h24.8v5.9h-24.8zM3819.5 573.1h24.8v11.4h-24.8zM3819.5 622.7h24.8v16.9h-24.8zM3819.5 776.9h24.8v22.4h-24.8zM3819.5 810h24.8v5.9h-24.8zM3843.9 611.6h24.8v11.4h-24.8zM3843.9 661.2h24.8v11.4h-24.8zM3843.9 749.4h24.8v5.9h-24.8zM3843.9 793.4h24.8v16.9h-24.8zM3868.3 529h24.8v5.9h-24.8zM3868.3 551.1h24.8v5.9h-24.8zM3868.3 798.9h24.8v16.9h-24.8zM3892.8 529h24.8v22.4h-24.8zM3892.8 699.8h24.8v5.9h-24.8zM3892.8 826.5h24.8v11.4h-24.8zM3917.2 589.6h24.8v11.4h-24.8zM3917.2 611.6h24.8v16.9h-24.8zM3917.2 688.8h24.8v22.4h-24.8zM3917.2 793.4h24.8v5.9h-24.8zM3917.2 810h24.8v5.9h-24.8zM3941.6 633.7h24.8v5.9h-24.8zM3941.6 688.8h24.8v5.9h-24.8zM3941.6 705.3h24.8v27.9h-24.8z" fill="#fde08a"/>
<path d="M3770.7 666.7h24.8v5.9h-24.8zM3795.1 661.2h24.8v5.9h-24.8zM3795.1 672.2h24.8v5.9h-24.8zM3819.5 617.2h24.8v5.9h-24.8zM3843.9 606.1h24.8v5.9h-24.8zM3843.9 622.7h24.8v5.9h-24.8zM3843.9 672.2h24.8v5.9h-24.8zM3917.2 683.3h24.8v5.9h-24.8zM3941.6 628.2h24.8v5.9h-24.8zM3941.6 732.8h24.8v5.9h-24.8z" fill="#be949c"/>
<path d="M3770.7 688.8h24.8v5.9h-24.8zM3843.9 551.1h24.8v5.9h-24.8zM3843.9 683.3h24.8v5.9h-24.8zM3868.3 721.8h24.8v5.9h-24.8zM3892.8 639.2h24.8v5.9h-24.8zM3917.2 749.4h24.8v5.9h-24.8z" fill="#a879a4"/>
<path d="M3770.7 787.9h24.8v5.9h-24.8z" fill="#9160ab"/>
<path d="M3770.7 810h24.8v5.9h-24.8zM3819.5 534.5h24.8v5.9h-24.8zM3819.5 567.6h24.8v5.9h-24.8zM3819.5 584.1h24.8v5.9h-24.8zM3819.5 815.5h24.8v5.9h-24.8zM3843.9 655.7h24.8v5.9h-24.8zM3868.3 815.5h24.8v5.9h-24.8zM3941.6 683.3h24.8v5.9h-24.8zM3941.6 699.8h24.8v5.9h-24.8z" fill="#b48a99"/>
<path d="M3795.1 567.6h24.8v5.9h-24.8zM3795.1 589.6h24.8v5.9h-24.8zM3819.5 710.8h24.8v5.9h-24.8zM3868.3 589.6h24.8v5.9h-24.8zM3868.3 826.5h24.8v5.9h-24.8z" fill="#ab7f9b"/>
<path d="M3795.1 600.6h24.8v5.9h-24.8zM3819.5 556.6h24.8v5.9h-24.8zM3819.5 677.8h24.8v5.9h-24.8zM3819.5 826.5h24.8v5.9h-24.8zM3843.9 573.1h24.8v5.9h-24.8zM3917.2 573.1h24.8v5.9h-24.8zM3941.6 567.6h24.8v5.9h-24.8zM3941.6 584.1h24.8v5.9h-24.8z" fill="#824ead"/>
<path d="M3795.1 617.2h24.8v5.9h-24.8zM3795.1 793.4h24.8v5.9h-24.8zM3843.9 705.3h24.8v5.9h-24.8z" fill="#e0ba94"/>
<path d="M3795.1 644.7h24.8v5.9h-24.8zM3795.1 760.4h24.8v5.9h-24.8zM3843.9 754.9h24.8v5.9h-24.8zM3917.2 584.1h24.8v5.9h-24.8z" fill="#cca49e"/>
<path d="M3795.1 688.8h24.8v5.9h-24.8zM3795.1 716.3h24.8v5.9h-24.8zM3819.5 771.4h24.8v5.9h-24.8zM3868.3 793.4h24.8v5.9h-24.8zM3892.8 551.1h24.8v5.9h-24.8zM3941.6 639.2h24.8v5.9h-24.8z" fill="#f4d48c"/>
<path d="M3795.1 782.4h24.8v5.9h-24.8zM3819.5 798.9h24.8v5.9h-24.8zM3843.9 787.9h24.8v5.9h-24.8zM3868.3 534.5h24.8v5.9h-24.8zM3868.3 556.6h24.8v5.9h-24.8z" fill="#e8c592"/>
<path d="M3819.5 595.1h24.8v5.9h-24.8zM3843.9 540h24.8v5.9h-24.8zM3843.9 584.1h24.8v5.9h-24.8zM3917.2 523.5h24.8v5.9h-24.8zM3917.2 556.6h24.8v5.9h-24.8zM3941.6 540h24.8v5.9h-24.8zM3941.6 832h24.8v5.9h-24.8z" fill="#743eab"/>
<path d="M3819.5 639.2h24.8v5.9h-24.8zM3892.8 523.5h24.8v5.9h-24.8zM3917.2 606.1h24.8v5.9h-24.8zM3917.2 628.2h24.8v5.9h-24.8zM3917.2 815.5h24.8v5.9h-24.8z" fill="#dab59c"/>
<path d="M3819.5 738.3h24.8v5.9h-24.8zM3843.9 815.5h24.8v5.9h-24.8zM3892.8 584.1h24.8v5.9h-24.8zM3917.2 672.2h24.8v5.9h-24.8zM3917.2 727.3h24.8v5.9h-24.8zM3941.6 595.1h24.8v5.9h-24.8zM3941.6 606.1h24.8v5.9h-24.8zM3941.6 617.2h24.8v5.9h-24.8zM3941.6 754.9h24.8v5.9h-24.8z" fill="#8c58b0"/>
<path d="M3819.5 754.9h24.8v5.9h-24.8zM3868.3 699.8h24.8v5.9h-24.8zM3892.8 595.1h24.8v5.9h-24.8z" fill="#b5889e"/>
<path d="M3868.3 622.7h24.8v5.9h-24.8zM3868.3 644.7h24.8v5.9h-24.8zM3868.3 677.8h24.8v5.9h-24.8zM3868.3 771.4h24.8v5.9h-24.8zM3917.2 639.2h24.8v5.9h-24.8z" fill="#d2aa9e"/>
<path d="M3433 1244.7h22.3v11.3h-22.3zM3433 1288.2h22.3v16.7h-22.3zM3433 1337.2h22.3v16.7h-22.3zM3433 1582.1h22.3v5.8h-22.3zM3454.9 1364.4h22.3v5.8h-22.3zM3454.9 1424.3h22.3v5.8h-22.3zM3454.9 1587.6h22.3v5.8h-22.3zM3476.8 1266.5h22.3v5.8h-22.3zM3476.8 1429.7h22.3v5.8h-22.3zM3476.8 1511.4h22.3v22.2h-22.3zM3476.8 1544h22.3v5.8h-22.3zM3498.7 1277.4h22.3v5.8h-22.3zM3498.7 1288.2h22.3v5.8h-22.3zM3498.7 1397.1h22.3v16.7h-22.3zM3498.7 1451.5h22.3v5.8h-22.3zM3498.7 1522.3h22.3v22.2h-22.3zM3498.7 1549.5h22.3v5.8h-22.3zM3498.7 1565.8h22.3v16.7h-22.3zM3520.6 1326.3h22.3v5.8h-22.3zM3520.6 1348.1h22.3v22.2h-22.3zM3520.6 1446.1h22.3v11.3h-22.3zM3520.6 1462.4h22.3v5.8h-22.3zM3520.6 1544h22.3v33.1h-22.3zM3542.4 1244.7h22.3v11.3h-22.3zM3542.4 1402.5h22.3v16.7h-22.3zM3564.3 1337.2h22.3v5.8h-22.3zM3564.3 1364.4h22.3v27.6h-22.3zM3564.3 1435.2h22.3v16.7h-22.3zM3564.3 1516.8h22.3v11.3h-22.3zM3564.3 1560.3h22.3v16.7h-22.3zM3586.2 1255.6h22.3v5.8h-22.3zM3586.2 1337.2h22.3v5.8h-22.3zM3586.2 1484.2h22.3v22.2h-22.3zM3586.2 1538.6h22.3v5.8h-22.3zM3608.1 1255.6h22.3v11.3h-22.3zM3608.1 1310h22.3v22.2h-22.3zM3608.1 1391.6h22.3v16.7h-22.3zM3608.1 1429.7h22.3v16.7h-22.3zM3608.1 1473.3h22.3v5.8h-22.3zM3608.1 1495h22.3v11.3h-22.3z" fill="#fad4d8"/>
<path d="M3433 1255.6h22.3v5.8h-22.3zM3433 1331.8h22.3v5.8h-22.3zM3454.9 1369.9h22.3v5.8h-22.3zM3454.9 1418.8h22.3v5.8h-22.3zM3520.6 1538.6h22.3v5.8h-22.3zM3564.3 1359h22.3v5.8h-22.3zM3564.3 1511.4h22.3v5.8h-22.3zM3564.3 1554.9h22.3v5.8h-22.3zM3564.3 1576.7h22.3v5.8h-22.3zM3586.2 1261h22.3v5.8h-22.3zM3586.2 1331.8h22.3v5.8h-22.3zM3608.1 1386.2h22.3v5.8h-22.3z" fill="#f5a7ae"/>
<path d="M3433 1261h22.3v16.7h-22.3zM3433 1320.9h22.3v11.3h-22.3zM3433 1402.5h22.3v5.8h-22.3zM3433 1429.7h22.3v5.8h-22.3zM3433 1516.8h22.3v11.3h-22.3zM3454.9 1375.3h22.3v5.8h-22.3zM3454.9 1391.6h22.3v27.6h-22.3zM3476.8 1288.2h22.3v11.3h-22.3zM3476.8 1326.3h22.3v5.8h-22.3zM3476.8 1456.9h22.3v11.3h-22.3zM3476.8 1478.7h22.3v5.8h-22.3zM3476.8 1495h22.3v5.8h-22.3zM3498.7 1375.3h22.3v11.3h-22.3zM3498.7 1495h22.3v11.3h-22.3zM3520.6 1266.5h22.3v16.7h-22.3zM3520.6 1424.3h22.3v5.8h-22.3zM3520.6 1484.2h22.3v16.7h-22.3zM3520.6 1533.1h22.3v5.8h-22.3zM3520.6 1576.7h22.3v5.8h-22.3zM3542.4 1386.2h22.3v5.8h-22.3zM3542.4 1435.2h22.3v11.3h-22.3zM3542.4 1484.2h22.3v16.7h-22.3zM3564.3 1277.4h22.3v5.8h-22.3zM3564.3 1353.5h22.3v5.8h-22.3zM3564.3 1397.1h22.3v5.8h-22.3zM3564.3 1505.9h22.3v5.8h-22.3zM3564.3 1544h22.3v11.3h-22.3zM3564.3 1582.1h22.3v11.3h-22.3zM3586.2 1266.5h22.3v11.3h-22.3zM3586.2 1293.7h22.3v5.8h-22.3zM3586.2 1326.3h22.3v5.8h-22.3zM3586.2 1533.1h22.3v5.8h-22.3zM3586.2 1571.2h22.3v5.8h-22.3zM3608.1 1277.4h22.3v16.7h-22.3zM3608.1 1331.8h22.3v27.6h-22.3zM3608.1 1375.3h22.3v11.3h-22.3zM3608.1 1544h22.3v16.7h-22.3z" fill="#f07a84"/>
<path d="M3433 1277.4h22.3v5.8h-22.3zM3433 1304.6h22.3v5.8h-22.3zM3433 1369.9h22.3v16.7h-22.3zM3433 1456.9h22.3v33.1h-22.3zM3433 1533.1h22.3v22.2h-22.3zM3433 1587.6h22.3v5.8h-22.3zM3454.9 1261h22.3v5.8h-22.3zM3454.9 1293.7h22.3v11.3h-22.3zM3454.9 1315.4h22.3v16.7h-22.3zM3454.9 1386.2h22.3v5.8h-22.3zM3454.9 1456.9h22.3v38.5h-22.3zM3454.9 1538.6h22.3v27.6h-22.3zM3476.8 1244.7h22.3v22.2h-22.3zM3476.8 1277.4h22.3v5.8h-22.3zM3476.8 1386.2h22.3v11.3h-22.3zM3476.8 1467.8h22.3v5.8h-22.3zM3476.8 1533.1h22.3v5.8h-22.3zM3476.8 1576.7h22.3v11.3h-22.3zM3498.7 1271.9h22.3v5.8h-22.3zM3498.7 1299.1h22.3v5.8h-22.3zM3498.7 1435.2h22.3v11.3h-22.3zM3498.7 1462.4h22.3v5.8h-22.3zM3498.7 1484.2h22.3v5.8h-22.3zM3498.7 1511.4h22.3v5.8h-22.3zM3520.6 1337.2h22.3v5.8h-22.3zM3520.6 1473.3h22.3v5.8h-22.3zM3520.6 1500.5h22.3v27.6h-22.3zM3542.4 1255.6h22.3v5.8h-22.3zM3542.4 1299.1h22.3v5.8h-22.3zM3542.4 1391.6h22.3v5.8h-22.3zM3542.4 1424.3h22.3v5.8h-22.3zM3542.4 1467.8h22.3v11.3h-22.3zM3542.4 1533.1h22.3v11.3h-22.3zM3542.4 1554.9h22.3v5.8h-22.3zM3564.3 1244.7h22.3v16.7h-22.3zM3564.3 1304.6h22.3v5.8h-22.3zM3564.3 1342.7h22.3v5.8h-22.3zM3564.3 1391.6h22.3v5.8h-22.3zM3564.3 1424.3h22.3v5.8h-22.3zM3564.3 1456.9h22.3v5.8h-22.3zM3564.3 1473.3h22.3v11.3h-22.3zM3564.3 1533.1h22.3v5.8h-22.3zM3586.2 1342.7h22.3v5.8h-22.3zM3586.2 1359h22.3v33.1h-22.3zM3586.2 1429.7h22.3v5.8h-22.3zM3586.2 1544h22.3v5.8h-22.3zM3608.1 1266.5h22.3v5.8h-22.3z" fill="#f4969e"/>
<path d="M3433 1282.8h22.3v5.8h-22.3zM3476.8 1271.9h22.3v5.8h-22.3zM3476.8 1538.6h22.3v5.8h-22.3zM3476.8 1587.6h22.3v5.8h-22.3zM3498.7 1293.7h22.3v5.8h-22.3zM3498.7 1446.1h22.3v5.8h-22.3zM3498.7 1456.9h22.3v5.8h-22.3zM3498.7 1516.8h22.3v5.8h-22.3zM3520.6 1342.7h22.3v5.8h-22.3zM3520.6 1467.8h22.3v5.8h-22.3zM3542.4 1397.1h22.3v5.8h-22.3zM3542.4 1418.8h22.3v5.8h-22.3zM3564.3 1429.7h22.3v5.8h-22.3z" fill="#f7b5bb"/>
<path d="M3433 1310h22.3v5.8h-22.3zM3433 1359h22.3v5.8h-22.3zM3433 1391.6h22.3v5.8h-22.3zM3433 1495h22.3v16.7h-22.3zM3454.9 1304.6h22.3v5.8h-22.3zM3454.9 1522.3h22.3v11.3h-22.3zM3476.8 1304.6h22.3v16.7h-22.3zM3476.8 1337.2h22.3v33.1h-22.3zM3476.8 1418.8h22.3v5.8h-22.3zM3476.8 1571.2h22.3v5.8h-22.3zM3498.7 1282.8h22.3v5.8h-22.3zM3498.7 1310h22.3v11.3h-22.3zM3498.7 1359h22.3v5.8h-22.3zM3498.7 1429.7h22.3v5.8h-22.3zM3498.7 1554.9h22.3v5.8h-22.3zM3520.6 1293.7h22.3v5.8h-22.3zM3520.6 1429.7h22.3v5.8h-22.3zM3520.6 1456.9h22.3v5.8h-22.3zM3542.4 1271.9h22.3v11.3h-22.3zM3542.4 1310h22.3v11.3h-22.3zM3542.4 1353.5h22.3v16.7h-22.3zM3542.4 1451.5h22.3v11.3h-22.3zM3542.4 1576.7h22.3v16.7h-22.3zM3564.3 1315.4h22.3v16.7h-22.3zM3564.3 1408h22.3v16.7h-22.3zM3564.3 1462.4h22.3v5.8h-22.3zM3586.2 1299.1h22.3v27.6h-22.3zM3586.2 1348.1h22.3v5.8h-22.3zM3586.2 1402.5h22.3v5.8h-22.3zM3586.2 1462.4h22.3v16.7h-22.3zM3586.2 1511.4h22.3v5.8h-22.3zM3608.1 1364.4h22.3v5.8h-22.3zM3608.1 1413.4h22.3v11.3h-22.3zM3608.1 1462.4h22.3v5.8h-22.3zM3608.1 1576.7h22.3v16.7h-22.3z" fill="#fdeef0"/>
<path d="M3433 1315.4h22.3v5.8h-22.3zM3433 1397.1h22.3v5.8h-22.3zM3433 1511.4h22.3v5.8h-22.3zM3476.8 1299.1h22.3v5.8h-22.3zM3476.8 1320.9h22.3v5.8h-22.3zM3476.8 1331.8h22.3v5.8h-22.3zM3542.4 1446.1h22.3v5.8h-22.3zM3564.3 1402.5h22.3v5.8h-22.3zM3608.1 1359h22.3v5.8h-22.3zM3608.1 1369.9h22.3v5.8h-22.3z" fill="#f6b4ba"/>
<path d="M3433 1353.5h22.3v5.8h-22.3zM3476.8 1424.3h22.3v5.8h-22.3zM3498.7 1560.3h22.3v5.8h-22.3zM3564.3 1331.8h22.3v5.8h-22.3zM3586.2 1478.7h22.3v5.8h-22.3zM3586.2 1505.9h22.3v5.8h-22.3zM3608.1 1408h22.3v5.8h-22.3zM3608.1 1424.3h22.3v5.8h-22.3zM3608.1 1467.8h22.3v5.8h-22.3z" fill="#fce1e4"/>
<path d="M3433 1364.4h22.3v5.8h-22.3zM3433 1489.6h22.3v5.8h-22.3zM3454.9 1310h22.3v5.8h-22.3zM3454.9 1533.1h22.3v5.8h-22.3zM3498.7 1304.6h22.3v5.8h-22.3zM3542.4 1304.6h22.3v5.8h-22.3zM3542.4 1462.4h22.3v5.8h-22.3zM3564.3 1310h22.3v5.8h-22.3zM3564.3 1467.8h22.3v5.8h-22.3zM3586.2 1353.5h22.3v5.8h-22.3z" fill="#f8c2c7"/>
<path d="M3433 1386.2h22.3v5.8h-22.3zM3476.8 1440.6h22.3v11.3h-22.3zM3498.7 1244.7h22.3v11.3h-22.3zM3498.7 1337.2h22.3v11.3h-22.3zM3498.7 1582.1h22.3v5.8h-22.3zM3520.6 1244.7h22.3v16.7h-22.3zM3520.6 1369.9h22.3v5.8h-22.3zM3520.6 1527.7h22.3v5.8h-22.3zM3542.4 1326.3h22.3v16.7h-22.3zM3564.3 1282.8h22.3v5.8h-22.3zM3564.3 1451.5h22.3v5.8h-22.3zM3608.1 1446.1h22.3v5.8h-22.3z" fill="#ffffff"/>
<path d="M3433 1408h22.3v5.8h-22.3zM3433 1435.2h22.3v5.8h-22.3zM3476.8 1484.2h22.3v5.8h-22.3zM3476.8 1500.5h22.3v5.8h-22.3zM3498.7 1369.9h22.3v5.8h-22.3zM3520.6 1418.8h22.3v5.8h-22.3zM3542.4 1500.5h22.3v5.8h-22.3zM3586.2 1527.7h22.3v5.8h-22.3zM3586.2 1576.7h22.3v5.8h-22.3zM3608.1 1538.6h22.3v5.8h-22.3z" fill="#f4979f"/>
<path d="M3433 1413.4h22.3v16.7h-22.3zM3433 1440.6h22.3v11.3h-22.3zM3433 1554.9h22.3v27.6h-22.3zM3454.9 1244.7h22.3v11.3h-22.3zM3454.9 1282.8h22.3v11.3h-22.3zM3454.9 1337.2h22.3v27.6h-22.3zM3454.9 1435.2h22.3v16.7h-22.3zM3454.9 1500.5h22.3v16.7h-22.3zM3454.9 1571.2h22.3v11.3h-22.3zM3476.8 1408h22.3v11.3h-22.3zM3476.8 1489.6h22.3v5.8h-22.3zM3476.8 1505.9h22.3v5.8h-22.3zM3476.8 1554.9h22.3v16.7h-22.3zM3498.7 1261h22.3v5.8h-22.3zM3498.7 1326.3h22.3v5.8h-22.3zM3498.7 1348.1h22.3v5.8h-22.3zM3498.7 1364.4h22.3v5.8h-22.3zM3498.7 1424.3h22.3v5.8h-22.3zM3498.7 1544h22.3v5.8h-22.3zM3520.6 1304.6h22.3v16.7h-22.3zM3520.6 1331.8h22.3v5.8h-22.3zM3520.6 1380.8h22.3v38.5h-22.3zM3520.6 1435.2h22.3v5.8h-22.3zM3542.4 1261h22.3v5.8h-22.3zM3542.4 1505.9h22.3v22.2h-22.3zM3542.4 1565.8h22.3v5.8h-22.3zM3564.3 1293.7h22.3v5.8h-22.3zM3564.3 1489.6h22.3v16.7h-22.3zM3564.3 1527.7h22.3v5.8h-22.3zM3586.2 1244.7h22.3v11.3h-22.3zM3586.2 1391.6h22.3v5.8h-22.3zM3586.2 1440.6h22.3v5.8h-22.3zM3586.2 1522.3h22.3v5.8h-22.3zM3586.2 1554.9h22.3v16.7h-22.3zM3586.2 1582.1h22.3v11.3h-22.3zM3608.1 1244.7h22.3v5.8h-22.3zM3608.1 1451.5h22.3v5.8h-22.3zM3608.1 1484.2h22.3v5.8h-22.3zM3608.1 1505.9h22.3v33.1h-22.3z" fill="#f7b4ba"/>
<path d="M3433 1451.5h22.3v5.8h-22.3zM3454.9 1255.6h22.3v5.8h-22.3zM3454.9 1331.8h22.3v5.8h-22.3zM3454.9 1451.5h22.3v5.8h-22.3zM3454.9 1495h22.3v5.8h-22.3zM3454.9 1565.8h22.3v5.8h-22.3zM3498.7 1266.5h22.3v5.8h-22.3zM3542.4 1527.7h22.3v5.8h-22.3zM3542.4 1560.3h22.3v5.8h-22.3zM3564.3 1299.1h22.3v5.8h-22.3zM3564.3 1484.2h22.3v5.8h-22.3zM3586.2 1435.2h22.3v5.8h-22.3zM3586.2 1549.5h22.3v5.8h-22.3z" fill="#f6a5ac"/>
<path d="M3433 1527.7h22.3v5.8h-22.3zM3454.9 1380.8h22.3v5.8h-22.3zM3476.8 1282.8h22.3v5.8h-22.3zM3476.8 1473.3h22.3v5.8h-22.3zM3498.7 1489.6h22.3v5.8h-22.3zM3498.7 1505.9h22.3v5.8h-22.3zM3520.6 1478.7h22.3v5.8h-22.3zM3542.4 1429.7h22.3v5.8h-22.3zM3542.4 1478.7h22.3v5.8h-22.3zM3564.3 1348.1h22.3v5.8h-22.3zM3564.3 1538.6h22.3v5.8h-22.3zM3608.1 1271.9h22.3v5.8h-22.3z" fill="#f28891"/>
<path d="M3454.9 1266.5h22.3v5.8h-22.3zM3476.8 1380.8h22.3v5.8h-22.3zM3498.7 1467.8h22.3v5.8h-22.3zM3542.4 1293.7h22.3v5.8h-22.3zM3542.4 1549.5h22.3v5.8h-22.3zM3564.3 1261h22.3v5.8h-22.3z" fill="#f07a85"/>
<path d="M3454.9 1271.9h22.3v5.8h-22.3zM3476.8 1375.3h22.3v5.8h-22.3zM3476.8 1397.1h22.3v5.8h-22.3zM3498.7 1386.2h22.3v5.8h-22.3zM3498.7 1418.8h22.3v5.8h-22.3zM3498.7 1473.3h22.3v11.3h-22.3zM3520.6 1288.2h22.3v5.8h-22.3zM3520.6 1587.6h22.3v5.8h-22.3zM3542.4 1288.2h22.3v5.8h-22.3zM3542.4 1342.7h22.3v5.8h-22.3zM3542.4 1375.3h22.3v5.8h-22.3zM3542.4 1544h22.3v5.8h-22.3zM3564.3 1266.5h22.3v5.8h-22.3zM3586.2 1282.8h22.3v5.8h-22.3zM3586.2 1413.4h22.3v16.7h-22.3zM3586.2 1451.5h22.3v5.8h-22.3zM3608.1 1299.1h22.3v5.8h-22.3zM3608.1 1565.8h22.3v11.3h-22.3z" fill="#ec5f6c"/>
<path d="M3454.9 1277.4h22.3v5.8h-22.3zM3476.8 1402.5h22.3v5.8h-22.3zM3586.2 1446.1h22.3v5.8h-22.3z" fill="#f28a93"/>
<path d="M3454.9 1429.7h22.3v5.8h-22.3zM3454.9 1582.1h22.3v5.8h-22.3zM3476.8 1549.5h22.3v5.8h-22.3zM3520.6 1320.9h22.3v5.8h-22.3zM3520.6 1440.6h22.3v5.8h-22.3zM3608.1 1250.1h22.3v5.8h-22.3zM3608.1 1478.7h22.3v5.8h-22.3zM3608.1 1489.6h22.3v5.8h-22.3z" fill="#f8c4c9"/>
<path d="M3454.9 1516.8h22.3v5.8h-22.3zM3498.7 1320.9h22.3v5.8h-22.3zM3498.7 1353.5h22.3v5.8h-22.3zM3520.6 1299.1h22.3v5.8h-22.3zM3542.4 1266.5h22.3v5.8h-22.3zM3542.4 1571.2h22.3v5.8h-22.3zM3586.2 1397.1h22.3v5.8h-22.3zM3586.2 1516.8h22.3v5.8h-22.3zM3608.1 1456.9h22.3v5.8h-22.3z" fill="#fad1d5"/>
<path d="M3476.8 1369.9h22.3v5.8h-22.3zM3542.4 1282.8h22.3v5.8h-22.3zM3542.4 1348.1h22.3v5.8h-22.3zM3542.4 1369.9h22.3v5.8h-22.3zM3586.2 1408h22.3v5.8h-22.3zM3586.2 1456.9h22.3v5.8h-22.3z" fill="#f4a6ae"/>
<path d="M3476.8 1435.2h22.3v5.8h-22.3z" fill="#fceaec"/>
<path d="M3476.8 1451.5h22.3v5.8h-22.3zM3520.6 1261h22.3v5.8h-22.3z" fill="#f8bcc2"/>
<path d="M3498.7 1255.6h22.3v5.8h-22.3zM3498.7 1331.8h22.3v5.8h-22.3zM3498.7 1587.6h22.3v5.8h-22.3zM3520.6 1375.3h22.3v5.8h-22.3zM3564.3 1288.2h22.3v5.8h-22.3z" fill="#fbdadc"/>
<path d="M3498.7 1391.6h22.3v5.8h-22.3zM3498.7 1413.4h22.3v5.8h-22.3zM3608.1 1304.6h22.3v5.8h-22.3z" fill="#f39aa2"/>
<path d="M3520.6 1282.8h22.3v5.8h-22.3zM3520.6 1582.1h22.3v5.8h-22.3zM3542.4 1380.8h22.3v5.8h-22.3zM3564.3 1271.9h22.3v5.8h-22.3zM3586.2 1277.4h22.3v5.8h-22.3zM3586.2 1288.2h22.3v5.8h-22.3zM3608.1 1293.7h22.3v5.8h-22.3zM3608.1 1560.3h22.3v5.8h-22.3z" fill="#ee6c78"/>
<path d="M3542.4 1320.9h22.3v5.8h-22.3z" fill="#fef6f8"/>
<path d="M3770.8 1463.5h21.9v28h-21.9zM3770.8 1507.7h21.9v5.9h-21.9zM3770.8 1568.4h21.9v17h-21.9zM3770.8 1596h21.9v17h-21.9zM3770.8 1700.8h21.9v11.4h-21.9zM3770.8 1745h21.9v5.9h-21.9zM3792.3 1507.7h21.9v17h-21.9zM3792.3 1579.4h21.9v5.9h-21.9zM3792.3 1618h21.9v17h-21.9zM3792.3 1689.8h21.9v17h-21.9zM3792.3 1722.9h21.9v11.4h-21.9zM3813.8 1601.5h21.9v5.9h-21.9zM3813.8 1678.7h21.9v5.9h-21.9zM3813.8 1728.4h21.9v5.9h-21.9zM3835.4 1463.5h21.9v5.9h-21.9zM3835.4 1502.1h21.9v28h-21.9zM3835.4 1584.9h21.9v39h-21.9zM3835.4 1756h21.9v17h-21.9zM3856.9 1557.3h21.9v5.9h-21.9zM3856.9 1706.3h21.9v17h-21.9zM3856.9 1733.9h21.9v17h-21.9zM3878.4 1463.5h21.9v5.9h-21.9zM3878.4 1480.1h21.9v5.9h-21.9zM3878.4 1535.2h21.9v5.9h-21.9zM3878.4 1557.3h21.9v11.4h-21.9zM3878.4 1590.4h21.9v5.9h-21.9zM3878.4 1601.5h21.9v5.9h-21.9zM3878.4 1733.9h21.9v11.4h-21.9zM3899.9 1540.8h21.9v5.9h-21.9zM3899.9 1700.8h21.9v11.4h-21.9zM3899.9 1745h21.9v28h-21.9zM3921.5 1502.1h21.9v11.4h-21.9zM3921.5 1524.2h21.9v5.9h-21.9zM3921.5 1596h21.9v5.9h-21.9zM3921.5 1640.1h21.9v11.4h-21.9zM3921.5 1739.4h21.9v11.4h-21.9zM3943 1513.2h21.9v17h-21.9z" fill="#f4969e"/>
<path d="M3770.8 1491.1h21.9v17h-21.9zM3770.8 1535.2h21.9v5.9h-21.9zM3770.8 1584.9h21.9v5.9h-21.9zM3770.8 1640.1h21.9v5.9h-21.9zM3770.8 1750.5h21.9v22.5h-21.9zM3792.3 1469h21.9v5.9h-21.9zM3792.3 1535.2h21.9v17h-21.9zM3792.3 1584.9h21.9v17h-21.9zM3792.3 1711.9h21.9v5.9h-21.9zM3792.3 1750.5h21.9v5.9h-21.9zM3813.8 1485.6h21.9v28h-21.9zM3813.8 1590.4h21.9v5.9h-21.9zM3813.8 1667.7h21.9v5.9h-21.9zM3813.8 1684.3h21.9v5.9h-21.9zM3813.8 1756h21.9v28h-21.9zM3835.4 1673.2h21.9v17h-21.9zM3835.4 1700.8h21.9v11.4h-21.9zM3835.4 1733.9h21.9v17h-21.9zM3856.9 1513.2h21.9v5.9h-21.9zM3856.9 1623.5h21.9v5.9h-21.9zM3856.9 1684.3h21.9v11.4h-21.9zM3856.9 1722.9h21.9v5.9h-21.9zM3878.4 1634.6h21.9v22.5h-21.9zM3878.4 1667.7h21.9v11.4h-21.9zM3878.4 1767h21.9v17h-21.9zM3899.9 1480.1h21.9v28h-21.9zM3899.9 1573.9h21.9v11.4h-21.9zM3921.5 1485.6h21.9v5.9h-21.9zM3921.5 1529.7h21.9v5.9h-21.9zM3921.5 1629.1h21.9v5.9h-21.9zM3921.5 1678.7h21.9v28h-21.9zM3921.5 1728.4h21.9v5.9h-21.9zM3921.5 1750.5h21.9v22.5h-21.9zM3943 1474.5h21.9v11.4h-21.9zM3943 1623.5h21.9v17h-21.9zM3943 1761.5h21.9v5.9h-21.9z" fill="#fad4d8"/>
<path d="M3770.8 1513.2h21.9v5.9h-21.9zM3770.8 1562.8h21.9v5.9h-21.9zM3770.8 1711.9h21.9v5.9h-21.9zM3792.3 1502.1h21.9v5.9h-21.9zM3792.3 1573.9h21.9v5.9h-21.9zM3792.3 1634.6h21.9v5.9h-21.9zM3813.8 1607h21.9v5.9h-21.9zM3813.8 1733.9h21.9v5.9h-21.9zM3835.4 1529.7h21.9v5.9h-21.9zM3856.9 1700.8h21.9v5.9h-21.9zM3878.4 1529.7h21.9v5.9h-21.9zM3878.4 1584.9h21.9v5.9h-21.9zM3878.4 1607h21.9v5.9h-21.9zM3878.4 1728.4h21.9v5.9h-21.9zM3899.9 1739.4h21.9v5.9h-21.9zM3921.5 1651.1h21.9v5.9h-21.9z" fill="#f6a5ac"/>
<path d="M3770.8 1518.7h21.9v17h-21.9zM3770.8 1546.3h21.9v17h-21.9zM3770.8 1651.1h21.9v5.9h-21.9zM3770.8 1717.4h21.9v17h-21.9zM3770.8 1778.1h21.9v5.9h-21.9zM3792.3 1485.6h21.9v17h-21.9zM3792.3 1524.2h21.9v5.9h-21.9zM3792.3 1557.3h21.9v17h-21.9zM3792.3 1640.1h21.9v33.5h-21.9zM3792.3 1745h21.9v5.9h-21.9zM3792.3 1767h21.9v11.4h-21.9zM3813.8 1573.9h21.9v11.4h-21.9zM3813.8 1612.5h21.9v5.9h-21.9zM3813.8 1695.3h21.9v5.9h-21.9zM3813.8 1739.4h21.9v17h-21.9zM3835.4 1535.2h21.9v11.4h-21.9zM3835.4 1629.1h21.9v5.9h-21.9zM3835.4 1717.4h21.9v5.9h-21.9zM3856.9 1485.6h21.9v17h-21.9zM3856.9 1540.8h21.9v17h-21.9zM3856.9 1601.5h21.9v5.9h-21.9zM3856.9 1640.1h21.9v28h-21.9zM3856.9 1695.3h21.9v5.9h-21.9zM3856.9 1767h21.9v5.9h-21.9zM3878.4 1502.1h21.9v28h-21.9zM3878.4 1579.4h21.9v5.9h-21.9zM3878.4 1612.5h21.9v17h-21.9zM3878.4 1695.3h21.9v11.4h-21.9zM3878.4 1722.9h21.9v5.9h-21.9zM3899.9 1518.7h21.9v5.9h-21.9zM3899.9 1607h21.9v11.4h-21.9zM3899.9 1651.1h21.9v17h-21.9zM3899.9 1728.4h21.9v11.4h-21.9zM3921.5 1463.5h21.9v17h-21.9zM3921.5 1535.2h21.9v5.9h-21.9zM3921.5 1579.4h21.9v17h-21.9zM3921.5 1656.7h21.9v17h-21.9zM3943 1573.9h21.9v5.9h-21.9zM3943 1612.5h21.9v5.9h-21.9zM3943 1640.1h21.9v5.9h-21.9zM3943 1662.2h21.9v39h-21.9z" fill="#f7b4ba"/>
<path d="M3770.8 1540.8h21.9v5.9h-21.9zM3770.8 1645.6h21.9v5.9h-21.9zM3770.8 1772.6h21.9v5.9h-21.9zM3792.3 1529.7h21.9v5.9h-21.9zM3792.3 1551.8h21.9v5.9h-21.9zM3813.8 1584.9h21.9v5.9h-21.9zM3813.8 1689.8h21.9v5.9h-21.9zM3835.4 1711.9h21.9v5.9h-21.9zM3878.4 1629.1h21.9v5.9h-21.9zM3921.5 1480.1h21.9v5.9h-21.9zM3921.5 1673.2h21.9v5.9h-21.9zM3943 1618h21.9v5.9h-21.9z" fill="#f8c4c9"/>
<path d="M3770.8 1590.4h21.9v5.9h-21.9zM3792.3 1706.3h21.9v5.9h-21.9zM3792.3 1717.4h21.9v5.9h-21.9zM3813.8 1596h21.9v5.9h-21.9zM3835.4 1750.5h21.9v5.9h-21.9zM3856.9 1728.4h21.9v5.9h-21.9zM3921.5 1634.6h21.9v5.9h-21.9zM3921.5 1733.9h21.9v5.9h-21.9z" fill="#f7b5bb"/>
<path d="M3770.8 1612.5h21.9v22.5h-21.9zM3792.3 1463.5h21.9v5.9h-21.9zM3792.3 1474.5h21.9v5.9h-21.9zM3792.3 1678.7h21.9v5.9h-21.9zM3813.8 1474.5h21.9v5.9h-21.9zM3813.8 1551.8h21.9v5.9h-21.9zM3813.8 1623.5h21.9v11.4h-21.9zM3813.8 1673.2h21.9v5.9h-21.9zM3835.4 1573.9h21.9v5.9h-21.9zM3835.4 1662.2h21.9v5.9h-21.9zM3835.4 1778.1h21.9v5.9h-21.9zM3856.9 1507.7h21.9v5.9h-21.9zM3856.9 1568.4h21.9v28h-21.9zM3856.9 1778.1h21.9v5.9h-21.9zM3878.4 1491.1h21.9v5.9h-21.9zM3878.4 1546.3h21.9v5.9h-21.9zM3878.4 1596h21.9v5.9h-21.9zM3878.4 1761.5h21.9v5.9h-21.9zM3899.9 1469h21.9v5.9h-21.9zM3899.9 1513.2h21.9v5.9h-21.9zM3899.9 1562.8h21.9v5.9h-21.9zM3899.9 1623.5h21.9v11.4h-21.9zM3899.9 1667.7h21.9v5.9h-21.9zM3899.9 1717.4h21.9v5.9h-21.9zM3899.9 1778.1h21.9v5.9h-21.9zM3921.5 1518.7h21.9v5.9h-21.9zM3921.5 1573.9h21.9v5.9h-21.9zM3943 1496.6h21.9v5.9h-21.9zM3943 1557.3h21.9v17h-21.9zM3943 1651.1h21.9v5.9h-21.9zM3943 1706.3h21.9v44.6h-21.9z" fill="#fdeef0"/>
<path d="M3770.8 1634.6h21.9v5.9h-21.9zM3835.4 1667.7h21.9v5.9h-21.9zM3899.9 1474.5h21.9v5.9h-21.9zM3899.9 1507.7h21.9v5.9h-21.9zM3899.9 1568.4h21.9v5.9h-21.9z" fill="#fce1e4"/>
<path d="M3770.8 1656.7h21.9v5.9h-21.9zM3792.3 1778.1h21.9v5.9h-21.9zM3813.8 1700.8h21.9v5.9h-21.9zM3878.4 1573.9h21.9v5.9h-21.9z" fill="#f28a93"/>
<path d="M3770.8 1662.2h21.9v33.5h-21.9zM3792.3 1607h21.9v11.4h-21.9zM3813.8 1518.7h21.9v17h-21.9zM3813.8 1640.1h21.9v17h-21.9zM3813.8 1706.3h21.9v11.4h-21.9zM3835.4 1562.8h21.9v5.9h-21.9zM3835.4 1623.5h21.9v5.9h-21.9zM3835.4 1634.6h21.9v28h-21.9zM3856.9 1469h21.9v5.9h-21.9zM3878.4 1568.4h21.9v5.9h-21.9zM3899.9 1678.7h21.9v17h-21.9zM3899.9 1711.9h21.9v5.9h-21.9zM3921.5 1562.8h21.9v5.9h-21.9zM3921.5 1607h21.9v17h-21.9zM3943 1463.5h21.9v5.9h-21.9zM3943 1535.2h21.9v5.9h-21.9zM3943 1772.6h21.9v5.9h-21.9z" fill="#ec5f6c"/>
<path d="M3770.8 1695.3h21.9v5.9h-21.9zM3899.9 1695.3h21.9v5.9h-21.9zM3921.5 1601.5h21.9v5.9h-21.9zM3943 1529.7h21.9v5.9h-21.9z" fill="#f07a85"/>
<path d="M3770.8 1733.9h21.9v5.9h-21.9zM3792.3 1739.4h21.9v5.9h-21.9zM3813.8 1480.1h21.9v5.9h-21.9zM3813.8 1540.8h21.9v5.9h-21.9zM3813.8 1562.8h21.9v11.4h-21.9zM3813.8 1662.2h21.9v5.9h-21.9zM3813.8 1717.4h21.9v5.9h-21.9zM3835.4 1480.1h21.9v17h-21.9zM3835.4 1728.4h21.9v5.9h-21.9zM3856.9 1463.5h21.9v5.9h-21.9zM3856.9 1474.5h21.9v5.9h-21.9zM3856.9 1524.2h21.9v11.4h-21.9zM3856.9 1612.5h21.9v5.9h-21.9zM3856.9 1673.2h21.9v11.4h-21.9zM3856.9 1756h21.9v5.9h-21.9zM3878.4 1469h21.9v5.9h-21.9zM3878.4 1684.3h21.9v5.9h-21.9zM3878.4 1711.9h21.9v11.4h-21.9zM3878.4 1750.5h21.9v5.9h-21.9zM3899.9 1463.5h21.9v5.9h-21.9zM3899.9 1529.7h21.9v11.4h-21.9zM3899.9 1551.8h21.9v11.4h-21.9zM3899.9 1640.1h21.9v5.9h-21.9zM3921.5 1546.3h21.9v17h-21.9zM3921.5 1772.6h21.9v11.4h-21.9zM3943 1507.7h21.9v5.9h-21.9zM3943 1546.3h21.9v5.9h-21.9zM3943 1584.9h21.9v17h-21.9z" fill="#f07a84"/>
<path d="M3770.8 1739.4h21.9v5.9h-21.9zM3792.3 1733.9h21.9v5.9h-21.9zM3813.8 1722.9h21.9v5.9h-21.9zM3835.4 1496.6h21.9v5.9h-21.9zM3856.9 1750.5h21.9v5.9h-21.9zM3878.4 1474.5h21.9v5.9h-21.9zM3878.4 1745h21.9v5.9h-21.9zM3899.9 1546.3h21.9v5.9h-21.9z" fill="#f28891"/>
<path d="M3792.3 1480.1h21.9v5.9h-21.9zM3792.3 1673.2h21.9v5.9h-21.9zM3813.8 1618h21.9v5.9h-21.9zM3856.9 1502.1h21.9v5.9h-21.9zM3856.9 1596h21.9v5.9h-21.9zM3856.9 1772.6h21.9v5.9h-21.9zM3878.4 1496.6h21.9v5.9h-21.9zM3899.9 1618h21.9v5.9h-21.9zM3899.9 1722.9h21.9v5.9h-21.9zM3943 1645.6h21.9v5.9h-21.9zM3943 1656.7h21.9v5.9h-21.9zM3943 1700.8h21.9v5.9h-21.9z" fill="#fad1d5"/>
<path d="M3792.3 1601.5h21.9v5.9h-21.9zM3813.8 1513.2h21.9v5.9h-21.9zM3921.5 1623.5h21.9v5.9h-21.9zM3943 1469h21.9v5.9h-21.9zM3943 1767h21.9v5.9h-21.9z" fill="#f39aa2"/>
<path d="M3792.3 1684.3h21.9v5.9h-21.9zM3835.4 1579.4h21.9v5.9h-21.9zM3835.4 1772.6h21.9v5.9h-21.9zM3856.9 1562.8h21.9v5.9h-21.9zM3878.4 1485.6h21.9v5.9h-21.9zM3878.4 1540.8h21.9v5.9h-21.9zM3878.4 1551.8h21.9v5.9h-21.9zM3899.9 1772.6h21.9v5.9h-21.9zM3921.5 1513.2h21.9v5.9h-21.9z" fill="#f8c2c7"/>
<path d="M3792.3 1756h21.9v5.9h-21.9zM3813.8 1463.5h21.9v11.4h-21.9zM3835.4 1469h21.9v5.9h-21.9zM3835.4 1551.8h21.9v5.9h-21.9zM3835.4 1689.8h21.9v5.9h-21.9zM3856.9 1634.6h21.9v5.9h-21.9zM3878.4 1656.7h21.9v5.9h-21.9zM3899.9 1590.4h21.9v11.4h-21.9zM3921.5 1496.6h21.9v5.9h-21.9zM3921.5 1711.9h21.9v17h-21.9zM3943 1491.1h21.9v5.9h-21.9zM3943 1607h21.9v5.9h-21.9zM3943 1750.5h21.9v5.9h-21.9z" fill="#ffffff"/>
<path d="M3792.3 1761.5h21.9v5.9h-21.9zM3835.4 1546.3h21.9v5.9h-21.9zM3899.9 1601.5h21.9v5.9h-21.9z" fill="#fbdadc"/>
<path d="M3813.8 1535.2h21.9v5.9h-21.9zM3813.8 1656.7h21.9v5.9h-21.9zM3943 1540.8h21.9v5.9h-21.9zM3943 1778.1h21.9v5.9h-21.9z" fill="#ee6c78"/>
<path d="M3813.8 1546.3h21.9v5.9h-21.9zM3813.8 1557.3h21.9v5.9h-21.9zM3878.4 1756h21.9v5.9h-21.9zM3899.9 1634.6h21.9v5.9h-21.9zM3943 1502.1h21.9v5.9h-21.9zM3943 1551.8h21.9v5.9h-21.9z" fill="#f6b4ba"/>
<path d="M3813.8 1634.6h21.9v5.9h-21.9zM3835.4 1568.4h21.9v5.9h-21.9zM3899.9 1673.2h21.9v5.9h-21.9zM3921.5 1568.4h21.9v5.9h-21.9z" fill="#f4a6ae"/>
<path d="M3835.4 1474.5h21.9v5.9h-21.9zM3943 1601.5h21.9v5.9h-21.9z" fill="#f8bcc2"/>
<path d="M3835.4 1557.3h21.9v5.9h-21.9z" fill="#f6afb6"/>
<path d="M3835.4 1695.3h21.9v5.9h-21.9zM3856.9 1629.1h21.9v5.9h-21.9zM3878.4 1662.2h21.9v5.9h-21.9zM3899.9 1584.9h21.9v5.9h-21.9zM3921.5 1491.1h21.9v5.9h-21.9zM3921.5 1706.3h21.9v5.9h-21.9zM3943 1485.6h21.9v5.9h-21.9zM3943 1756h21.9v5.9h-21.9z" fill="#fceaec"/>
<path d="M3835.4 1722.9h21.9v5.9h-21.9zM3856.9 1480.1h21.9v5.9h-21.9zM3856.9 1535.2h21.9v5.9h-21.9zM3856.9 1607h21.9v5.9h-21.9zM3856.9 1667.7h21.9v5.9h-21.9zM3856.9 1761.5h21.9v5.9h-21.9zM3878.4 1689.8h21.9v5.9h-21.9zM3878.4 1706.3h21.9v5.9h-21.9zM3899.9 1524.2h21.9v5.9h-21.9zM3899.9 1645.6h21.9v5.9h-21.9zM3921.5 1540.8h21.9v5.9h-21.9zM3943 1579.4h21.9v5.9h-21.9z" fill="#f4979f"/>
<path d="M3856.9 1518.7h21.9v5.9h-21.9zM3856.9 1618h21.9v5.9h-21.9zM3878.4 1678.7h21.9v5.9h-21.9z" fill="#f5a7ae"/>
<rect x="3770.8" y="1463.5" width="193.7" height="343.5" fill="none" stroke="#999" stroke-width="1.2" />
<path d="M3518.7 272h23.3v23.3h-23.3zM3518.7 341.9h23.3v23.3h-23.3zM3518.7 388.5h23.3v23.3h-23.3zM3518.7 458.4h23.3v23.3h-23.3z" fill="#e84c4c"/>
<path d="M3518.7 295.3h23.3v23.3h-23.3zM3518.7 411.8h23.3v23.3h-23.3zM3518.7 528.3h23.3v23.3h-23.3zM3518.7 574.9h23.3v23.3h-23.3z" fill="#f6bcbc"/>
<path d="M3518.7 318.6h23.3v23.3h-23.3zM3518.7 435.1h23.3v23.3h-23.3z" fill="#f19595"/>
<path d="M3518.7 365.2h23.3v23.3h-23.3zM3518.7 481.7h23.3v23.3h-23.3zM3518.7 505h23.3v23.3h-23.3zM3518.7 551.6h23.3v23.3h-23.3z" fill="#fadcdc"/>
<path d="M3770.7 837.5h13.9v17.5h-13.9zM3812.5 837.5h13.9v17.5h-13.9zM3840.4 837.5h13.9v17.5h-13.9zM3882.3 837.5h13.9v17.5h-13.9z" fill="#e84c4c"/>
<path d="M3784.6 837.5h13.9v17.5h-13.9zM3854.4 837.5h13.9v17.5h-13.9zM3924.1 837.5h13.9v17.5h-13.9zM3952 837.5h13.9v17.5h-13.9z" fill="#f6bcbc"/>
<path d="M3798.6 837.5h13.9v17.5h-13.9zM3868.3 837.5h13.9v17.5h-13.9z" fill="#f19595"/>
<path d="M3826.5 837.5h13.9v17.5h-13.9zM3896.2 837.5h13.9v17.5h-13.9zM3910.2 837.5h13.9v17.5h-13.9zM3938.1 837.5h13.9v17.5h-13.9z" fill="#fadcdc"/>
<path d="M3521 1700h24v23.1h-24zM3521 1723.1h24v23.1h-24zM3521 1792.2h24v23.1h-24zM3521 1815.3h24v23.1h-24zM3521 1953.7h24v23.1h-24z" fill="#ecd96f"/>
<path d="M3521 1746.1h24v23.1h-24zM3521 1769.2h24v23.1h-24zM3521 1861.4h24v23.1h-24z" fill="#a58e24"/>
<path d="M3521 1838.4h24v23.1h-24zM3521 1907.5h24v23.1h-24z" fill="#e3c22e"/>
<path d="M3521 1884.5h24v23.1h-24zM3521 1930.6h24v23.1h-24zM3521 1999.8h24v23.1h-24z" fill="#f3e49a"/>
<path d="M3521 1976.7h24v23.1h-24z" fill="#fdfbee"/>
<path d="M3770.8 1783.6h13.8v23.2h-13.8zM3853.8 1783.6h13.8v23.2h-13.8z" fill="#e3c22e"/>
<path d="M3784.6 1783.6h13.8v23.2h-13.8z" fill="#ecd04a"/>
<path d="M3798.5 1783.6h13.8v23.2h-13.8zM3812.3 1783.6h13.8v23.2h-13.8zM3867.7 1783.6h13.8v23.2h-13.8z" fill="#a58e24"/>
<path d="M3826.2 1783.6h13.8v23.2h-13.8zM3840 1783.6h13.8v23.2h-13.8zM3923 1783.6h13.8v23.2h-13.8z" fill="#ecd96f"/>
<path d="M3881.5 1783.6h13.8v23.2h-13.8zM3895.4 1783.6h13.8v23.2h-13.8zM3909.2 1783.6h13.8v23.2h-13.8zM3950.7 1783.6h13.8v23.2h-13.8z" fill="#f3e49a"/>
<path d="M3936.9 1783.6h13.8v23.2h-13.8z" fill="#fdfbee"/>
<text x="3432" y="614" font-size="70" font-style="italic" >F</text>
<text x="3465" y="617" font-size="30" font-style="italic" >ecfp</text>
<text x="3424" y="2014" font-size="70" font-style="italic" >F</text>
<text x="3457" y="2017" font-size="30" font-style="italic" >dc</text>
<path d="M3044 177V158Q3044 134 3068 134H3330Q3483 134 3483 300V410" fill="none" stroke="#000" stroke-width="3.2" stroke-dasharray="8.3 10" stroke-linecap="round" marker-end="url(#ah)"/>
<path d="M3566 432H3585Q3610 432 3610 457V560Q3610 612 3662 612H3712" fill="none" stroke="#000" stroke-width="3.2" stroke-dasharray="8.3 10" stroke-linecap="round" marker-end="url(#ah)"/>
<path d="M3525 712V698Q3525 687 3536 687H3712" fill="none" stroke="#000" stroke-width="3.2" stroke-dasharray="8.3 10" stroke-linecap="round" marker-end="url(#ah)"/>
<path d="M3984 687H4040Q4157 687 4157 800" fill="none" stroke="#000" stroke-width="3.2" stroke-dasharray="8.3 10" stroke-linecap="round"/>
<path d="M3081 1000H3118Q3168 998 3208 956Q3254 908 3312 906H3410" fill="none" stroke="#000" stroke-width="3.2" stroke-dasharray="8.3 10" stroke-linecap="round" marker-end="url(#ah)"/>
<path d="M3080 1272H3190Q3270 1272 3295 1340Q3320 1416 3365 1416H3410" fill="none" stroke="#000" stroke-width="3.2" stroke-dasharray="8.3 10" stroke-linecap="round" marker-end="url(#ah)"/>
<path d="M3650 1613V1606Q3650 1599 3660 1599H3712" fill="none" stroke="#000" stroke-width="3.2" stroke-dasharray="8.3 10" stroke-linecap="round" marker-end="url(#ah)"/>
<path d="M3567 1770Q3600 1750 3601 1720Q3602 1692 3640 1692H3712" fill="none" stroke="#000" stroke-width="3.2" stroke-dasharray="8.3 10" stroke-linecap="round" marker-end="url(#ah)"/>
<path d="M4021 1636H4078Q4140 1640 4157 1690" fill="none" stroke="#000" stroke-width="3.2" stroke-dasharray="8.3 10" stroke-linecap="round"/>
<path d="M2988 1807H3050Q3105 1805 3128 1762Q3150 1716 3195 1716H3494" fill="none" stroke="#000" stroke-width="3.2" stroke-dasharray="8.3 10" stroke-linecap="round" marker-end="url(#ah)"/>
<path d="M4157 800V2160" fill="none" stroke="#000" stroke-width="3.2" stroke-dasharray="8.3 10" stroke-linecap="round"/>
<text x="3207" y="748" font-size="36" text-anchor="middle" >Drug feature</text>
<text x="3207" y="791.6" font-size="36" text-anchor="middle" >tensor containing</text>
<text x="3207" y="835.2" font-size="36" text-anchor="middle" >hidden layers</text>
<text x="3207" y="878.8" font-size="36" text-anchor="middle" >size (70 × 768)</text>
<text x="3207" y="1420.5" font-size="36" text-anchor="middle" >Protein feature</text>
<text x="3207" y="1464.1" font-size="36" text-anchor="middle" >tensor containing</text>
<text x="3207" y="1507.7" font-size="36" text-anchor="middle" >768 hidden layers</text>
<text x="3207" y="1551.3" font-size="36" text-anchor="middle" >size (512 × 768)</text>
<text x="3178" y="1873" font-size="36" text-anchor="middle" >DC embeding</text>
<text x="3178" y="1916.8" font-size="36" text-anchor="middle" >of protain</text>
<text x="3178" y="1960.6" font-size="36" text-anchor="middle" >size (768 × 1)</text>
<rect x="111" y="2208" width="639" height="1400" rx="52" fill="#f7ecc3" stroke="#e8974a" stroke-width="6" />
<rect x="161" y="2396" width="512" height="1159" rx="45" fill="#fcf8e8" stroke="#e8974a" stroke-width="4" />
<rect x="219" y="2457" width="60.8" height="854.5" fill="#fff" stroke="#000" stroke-width="3.2" />
<path d="M219 2510.4H279.8M219 2563.8H279.8M219 2617.2H279.8M219 2670.6H279.8M219 2724H279.8M219 2777.4H279.8M219 2830.8H279.8M219 2884.2H279.8M219 2937.6H279.8M219 2991H279.8M219 3044.4H279.8M219 3097.8H279.8M219 3151.2H279.8M219 3204.6H279.8M219 3258H279.8" fill="none" stroke="#000" stroke-width="3.2" />
<circle cx="245" cy="2485.7" r="17.5" fill="#26b478"/><path d="M236.5 2486.2L242.5 2491.7L254 2480.2" fill="none" stroke="#fff" stroke-width="3.4"/>
<circle cx="245" cy="2539.1" r="17.5" fill="#26b478"/><path d="M236.5 2539.6L242.5 2545.1L254 2533.6" fill="none" stroke="#fff" stroke-width="3.4"/>
<circle cx="245" cy="2592.5" r="17.5" fill="#26b478"/><path d="M236.5 2593L242.5 2598.5L254 2587" fill="none" stroke="#fff" stroke-width="3.4"/>
<circle cx="245" cy="2645.9" r="17.5" fill="#26b478"/><path d="M236.5 2646.4L242.5 2651.9L254 2640.4" fill="none" stroke="#fff" stroke-width="3.4"/>
<circle cx="245" cy="2699.3" r="17.5" fill="#d3163e"/><path d="M239 2693.3L251 2705.3M251 2693.3L239 2705.3" fill="none" stroke="#fff" stroke-width="3.2"/>
<circle cx="245" cy="2752.7" r="17.5" fill="#26b478"/><path d="M236.5 2753.2L242.5 2758.7L254 2747.2" fill="none" stroke="#fff" stroke-width="3.4"/>
<circle cx="245" cy="2806.1" r="17.5" fill="#26b478"/><path d="M236.5 2806.6L242.5 2812.1L254 2800.6" fill="none" stroke="#fff" stroke-width="3.4"/>
<circle cx="245" cy="2859.5" r="17.5" fill="#26b478"/><path d="M236.5 2860L242.5 2865.5L254 2854" fill="none" stroke="#fff" stroke-width="3.4"/>
<circle cx="245" cy="2912.9" r="17.5" fill="#26b478"/><path d="M236.5 2913.4L242.5 2918.9L254 2907.4" fill="none" stroke="#fff" stroke-width="3.4"/>
<circle cx="245" cy="2966.3" r="17.5" fill="#26b478"/><path d="M236.5 2966.8L242.5 2972.3L254 2960.8" fill="none" stroke="#fff" stroke-width="3.4"/>
<circle cx="245" cy="3019.7" r="17.5" fill="#26b478"/><path d="M236.5 3020.2L242.5 3025.7L254 3014.2" fill="none" stroke="#fff" stroke-width="3.4"/>
<circle cx="245" cy="3073.1" r="17.5" fill="#26b478"/><path d="M236.5 3073.6L242.5 3079.1L254 3067.6" fill="none" stroke="#fff" stroke-width="3.4"/>
<circle cx="245" cy="3126.5" r="17.5" fill="#26b478"/><path d="M236.5 3127L242.5 3132.5L254 3121" fill="none" stroke="#fff" stroke-width="3.4"/>
<circle cx="245" cy="3179.9" r="17.5" fill="#26b478"/><path d="M236.5 3180.4L242.5 3185.9L254 3174.4" fill="none" stroke="#fff" stroke-width="3.4"/>
<circle cx="245" cy="3233.3" r="17.5" fill="#26b478"/><path d="M236.5 3233.8L242.5 3239.3L254 3227.8" fill="none" stroke="#fff" stroke-width="3.4"/>
<circle cx="245" cy="3286.7" r="17.5" fill="#26b478"/><path d="M236.5 3287.2L242.5 3292.7L254 3281.2" fill="none" stroke="#fff" stroke-width="3.4"/>
<rect x="312" y="2878" width="86" height="38" fill="#fff" stroke="none" stroke-width="0" />
<circle cx="332.8" cy="2897" r="17.5" fill="#26b478"/><path d="M324.3 2897.5L330.3 2903L341.8 2891.5" fill="none" stroke="#fff" stroke-width="3.4"/>
<circle cx="378.3" cy="2897" r="17.5" fill="#d3163e"/><path d="M372.3 2891L384.3 2903M384.3 2891L372.3 2903" fill="none" stroke="#fff" stroke-width="3.2"/>
<path d="M399.5 2942.5H335" fill="none" stroke="#000" stroke-width="5.5" />
<path d="M311 2942.5L347 2927L340 2942.5L347 2958Z" fill="#000" stroke="none" stroke-width="0" />
<rect x="199" y="3311.5" width="97.5" height="88" fill="#fff" stroke="none" stroke-width="0" />
<path d="M204 3325Q248 3312 293.5 3325L262.5 3352.5L258 3383L240 3396L236 3352.5Z" fill="#444" stroke="none" stroke-width="0" />
<ellipse cx="248.5" cy="3325.5" rx="38" ry="3.2" fill="#fff"/>
<text x="173.5" y="3432.5" font-size="35" class="s" fill="#111" textLength="149" lengthAdjust="spacingAndGlyphs">AUROC</text>
<text x="176" y="3477.5" font-size="35" class="s" fill="#111" textLength="144" lengthAdjust="spacingAndGlyphs">AUPRC</text>
<text x="248" y="3523" font-size="35" text-anchor="middle" class="s" fill="#111" textLength="30" lengthAdjust="spacingAndGlyphs">...</text>
<rect x="473.3" y="2547" width="60.4" height="854.5" fill="#fff" stroke="#000" stroke-width="3.2" />
<rect x="473.3" y="2760.6" width="60.4" height="53.4" fill="#c8ecb0" stroke="none" stroke-width="0" />
<path d="M473.3 2600.4H533.7M473.3 2653.8H533.7M473.3 2707.2H533.7M473.3 2867.4H533.7M473.3 2920.8H533.7M473.3 2974.2H533.7M473.3 3027.6H533.7M473.3 3081H533.7M473.3 3134.4H533.7M473.3 3187.8H533.7M473.3 3241.2H533.7M473.3 3294.6H533.7M473.3 3348H533.7" fill="none" stroke="#000" stroke-width="3.2" />
<path d="M473.3 2760.6H533.7M473.3 2814H533.7" fill="none" stroke="#9a9a80" stroke-width="1.2" />
<text x="503.5" y="2584.2" font-size="29.5" text-anchor="middle" class="s" fill="#111" textLength="19" lengthAdjust="spacingAndGlyphs">0</text>
<text x="503.5" y="2637.6" font-size="29.5" text-anchor="middle" class="s" fill="#111" textLength="19" lengthAdjust="spacingAndGlyphs">1</text>
<text x="503.5" y="2691" font-size="29.5" text-anchor="middle" class="s" fill="#111" textLength="19" lengthAdjust="spacingAndGlyphs">1</text>
<text x="503.5" y="2744.4" font-size="29.5" text-anchor="middle" class="s" fill="#111" textLength="19" lengthAdjust="spacingAndGlyphs">1</text>
<text x="503.5" y="2797.8" font-size="29.5" text-anchor="middle" class="s" fill="#111" textLength="19" lengthAdjust="spacingAndGlyphs">0</text>
<text x="503.5" y="2851.2" font-size="29.5" text-anchor="middle" class="s" fill="#111" textLength="19" lengthAdjust="spacingAndGlyphs">0</text>
<text x="503.5" y="2904.6" font-size="29.5" text-anchor="middle" class="s" fill="#111" textLength="19" lengthAdjust="spacingAndGlyphs">0</text>
<text x="503.5" y="2958" font-size="29.5" text-anchor="middle" class="s" fill="#111" textLength="19" lengthAdjust="spacingAndGlyphs">1</text>
<text x="503.5" y="3011.4" font-size="29.5" text-anchor="middle" class="s" fill="#111" textLength="19" lengthAdjust="spacingAndGlyphs">0</text>
<text x="503.5" y="3064.8" font-size="29.5" text-anchor="middle" class="s" fill="#111" textLength="19" lengthAdjust="spacingAndGlyphs">1</text>
<text x="503.5" y="3118.2" font-size="29.5" text-anchor="middle" class="s" fill="#111" textLength="19" lengthAdjust="spacingAndGlyphs">1</text>
<text x="503.5" y="3171.6" font-size="29.5" text-anchor="middle" class="s" fill="#111" textLength="19" lengthAdjust="spacingAndGlyphs">0</text>
<text x="503.5" y="3225" font-size="29.5" text-anchor="middle" class="s" fill="#111" textLength="19" lengthAdjust="spacingAndGlyphs">0</text>
<text x="503.5" y="3278.4" font-size="29.5" text-anchor="middle" class="s" fill="#111" textLength="19" lengthAdjust="spacingAndGlyphs">1</text>
<text x="503.5" y="3331.8" font-size="29.5" text-anchor="middle" class="s" fill="#111" textLength="19" lengthAdjust="spacingAndGlyphs">0</text>
<text x="503.5" y="3385.2" font-size="29.5" text-anchor="middle" class="s" fill="#111" textLength="19" lengthAdjust="spacingAndGlyphs">0</text>
<rect x="568.8" y="2547" width="60.4" height="854.5" fill="#fff" stroke="#000" stroke-width="3.2" />
<rect x="568.8" y="2760.6" width="60.4" height="53.4" fill="#f09090" stroke="none" stroke-width="0" />
<path d="M568.8 2600.4H629.2M568.8 2653.8H629.2M568.8 2707.2H629.2M568.8 2867.4H629.2M568.8 2920.8H629.2M568.8 2974.2H629.2M568.8 3027.6H629.2M568.8 3081H629.2M568.8 3134.4H629.2M568.8 3187.8H629.2M568.8 3241.2H629.2M568.8 3294.6H629.2M568.8 3348H629.2" fill="none" stroke="#000" stroke-width="3.2" />
<path d="M568.8 2760.6H629.2M568.8 2814H629.2" fill="none" stroke="#9a9a80" stroke-width="1.2" />
<text x="599" y="2584.2" font-size="29.5" text-anchor="middle" class="s" fill="#111" textLength="19" lengthAdjust="spacingAndGlyphs">0</text>
<text x="599" y="2637.6" font-size="29.5" text-anchor="middle" class="s" fill="#111" textLength="19" lengthAdjust="spacingAndGlyphs">1</text>
<text x="599" y="2691" font-size="29.5" text-anchor="middle" class="s" fill="#111" textLength="19" lengthAdjust="spacingAndGlyphs">1</text>
<text x="599" y="2744.4" font-size="29.5" text-anchor="middle" class="s" fill="#111" textLength="19" lengthAdjust="spacingAndGlyphs">1</text>
<text x="599" y="2797.8" font-size="29.5" text-anchor="middle" class="s" fill="#111" textLength="19" lengthAdjust="spacingAndGlyphs">1</text>
<text x="599" y="2851.2" font-size="29.5" text-anchor="middle" class="s" fill="#111" textLength="19" lengthAdjust="spacingAndGlyphs">0</text>
<text x="599" y="2904.6" font-size="29.5" text-anchor="middle" class="s" fill="#111" textLength="19" lengthAdjust="spacingAndGlyphs">0</text>
<text x="599" y="2958" font-size="29.5" text-anchor="middle" class="s" fill="#111" textLength="19" lengthAdjust="spacingAndGlyphs">1</text>
<text x="599" y="3011.4" font-size="29.5" text-anchor="middle" class="s" fill="#111" textLength="19" lengthAdjust="spacingAndGlyphs">0</text>
<text x="599" y="3064.8" font-size="29.5" text-anchor="middle" class="s" fill="#111" textLength="19" lengthAdjust="spacingAndGlyphs">1</text>
<text x="599" y="3118.2" font-size="29.5" text-anchor="middle" class="s" fill="#111" textLength="19" lengthAdjust="spacingAndGlyphs">1</text>
<text x="599" y="3171.6" font-size="29.5" text-anchor="middle" class="s" fill="#111" textLength="19" lengthAdjust="spacingAndGlyphs">0</text>
<text x="599" y="3225" font-size="29.5" text-anchor="middle" class="s" fill="#111" textLength="19" lengthAdjust="spacingAndGlyphs">0</text>
<text x="599" y="3278.4" font-size="29.5" text-anchor="middle" class="s" fill="#111" textLength="19" lengthAdjust="spacingAndGlyphs">1</text>
<text x="599" y="3331.8" font-size="29.5" text-anchor="middle" class="s" fill="#111" textLength="19" lengthAdjust="spacingAndGlyphs">0</text>
<text x="599" y="3385.2" font-size="29.5" text-anchor="middle" class="s" fill="#111" textLength="19" lengthAdjust="spacingAndGlyphs">0</text>
<text x="479" y="2520" font-size="92" textLength="53" lengthAdjust="spacingAndGlyphs">y</text>
<text x="573" y="2520" font-size="92" textLength="53" lengthAdjust="spacingAndGlyphs">y</text>
<path d="M586.5 2468L600 2450L613.5 2468" fill="none" stroke="#000" stroke-width="2.8" />
<rect x="864" y="2201" width="3250.5" height="1419" rx="135" fill="#eff1fd" stroke="#7030a0" stroke-width="3.4" stroke-dasharray="19 17" stroke-linecap="round"/>
<text x="942.5" y="2298.5" font-size="66.6" >(c) Modified informer for feature augment</text>
<rect x="942.5" y="2352" width="1201" height="1255.5" rx="135" fill="#fbfaf9" stroke="#a8958f" stroke-width="6.5" />
<rect x="970" y="2449" width="168" height="1101" rx="48" fill="#efecea" stroke="#c9a096" stroke-width="5.5" />
<text x="1053" y="2593.5" font-size="47.5" text-anchor="middle" font-weight="bold" >Decoder</text>
<text x="1053" y="2651" font-size="47.5" text-anchor="middle" font-weight="bold" >layer</text>
<rect x="987.2" y="2785.7" width="120.6" height="731.8" rx="18" fill="#fff" stroke="#5a3a34" stroke-width="3.5" />
<g transform="translate(1061.5,3150) rotate(-90)" font-style="italic" font-size="50">
<text x="-299" y="0">y</text><path d="M-293 -29l9 -9l9 9" fill="none" stroke="#000" stroke-width="2.2"/>
<text x="-241" y="-3" font-style="normal" font-size="42">=</text>
<text x="-214" y="0" font-size="54">σ</text>
<text x="-185" y="0" font-style="normal" font-size="52">(</text>
<text x="-167" y="0" textLength="121" lengthAdjust="spacing">ReLU</text>
<text transform="translate(-40,4) scale(1,1.42)" font-style="normal" font-size="52">(</text>
<text x="0" y="0">BN</text>
<text transform="translate(63,2) scale(1,1.2)" font-style="normal" font-size="52">(</text>
<text x="86" y="0" font-size="46">W</text><circle cx="143" cy="-16" r="6"/><text x="157" y="0">f</text>
<text x="196" y="-3" font-style="normal" font-size="44">+</text><text x="228" y="0">b</text>
<text x="254" y="0" font-style="normal" font-size="52">)</text>
<text transform="translate(265,2) scale(1,1.2)" font-style="normal" font-size="52">)</text>
<text transform="translate(278,4) scale(1,1.42)" font-style="normal" font-size="52">)</text>
</g>
<rect x="1242" y="2384.5" width="57" height="560.5" fill="#0a72c0" stroke="#000" stroke-width="2.2" />
<rect x="1431" y="2579" width="256" height="254" fill="#3049a8" stroke="none" stroke-width="0" />
<path d="M1431 2579h10.2v32.1h-10.2zM1499.9 2579h10.2v32.1h-10.2zM1588.5 2579h10.2v32.1h-10.2zM1627.9 2579h10.2v32.1h-10.2zM1490.1 2610.8h10.2v32.1h-10.2zM1618.1 2610.8h10.2v32.1h-10.2zM1667.3 2610.8h10.2v32.1h-10.2zM1519.6 2642.5h10.2v32.1h-10.2zM1559 2642.5h10.2v32.1h-10.2zM1440.8 2674.2h10.2v32.1h-10.2zM1470.4 2674.2h10.2v32.1h-10.2zM1519.6 2674.2h10.2v32.1h-10.2zM1598.4 2674.2h10.2v32.1h-10.2zM1480.2 2706h10.2v32.1h-10.2zM1608.2 2706h10.2v32.1h-10.2zM1627.9 2706h10.2v32.1h-10.2zM1460.5 2737.8h10.2v32.1h-10.2zM1470.4 2737.8h10.2v32.1h-10.2zM1559 2737.8h10.2v32.1h-10.2zM1559 2769.5h10.2v32.1h-10.2zM1568.8 2769.5h10.2v32.1h-10.2zM1578.7 2769.5h10.2v32.1h-10.2zM1460.5 2801.2h10.2v32.1h-10.2zM1519.6 2801.2h10.2v32.1h-10.2zM1647.6 2801.2h10.2v32.1h-10.2z" fill="#5a9e2a"/>
<path d="M1480.2 2579h10.2v32.1h-10.2zM1598.4 2579h10.2v32.1h-10.2zM1588.5 2610.8h10.2v32.1h-10.2zM1460.5 2642.5h10.2v32.1h-10.2zM1549.2 2642.5h10.2v32.1h-10.2zM1549.2 2674.2h10.2v32.1h-10.2zM1667.3 2674.2h10.2v32.1h-10.2zM1677.2 2674.2h10.2v32.1h-10.2zM1499.9 2706h10.2v32.1h-10.2zM1431 2737.8h10.2v32.1h-10.2zM1509.8 2737.8h10.2v32.1h-10.2zM1519.6 2737.8h10.2v32.1h-10.2zM1549.2 2737.8h10.2v32.1h-10.2zM1588.5 2737.8h10.2v32.1h-10.2zM1637.8 2737.8h10.2v32.1h-10.2zM1657.5 2737.8h10.2v32.1h-10.2zM1677.2 2737.8h10.2v32.1h-10.2zM1450.7 2769.5h10.2v32.1h-10.2zM1480.2 2769.5h10.2v32.1h-10.2zM1490.1 2769.5h10.2v32.1h-10.2zM1509.8 2769.5h10.2v32.1h-10.2zM1519.6 2769.5h10.2v32.1h-10.2zM1598.4 2769.5h10.2v32.1h-10.2zM1608.2 2769.5h10.2v32.1h-10.2zM1657.5 2769.5h10.2v32.1h-10.2zM1667.3 2769.5h10.2v32.1h-10.2zM1470.4 2801.2h10.2v32.1h-10.2zM1588.5 2801.2h10.2v32.1h-10.2z" fill="#8a94ea"/>
<path d="M1490.1 2579h10.2v32.1h-10.2zM1618.1 2579h10.2v32.1h-10.2zM1667.3 2579h10.2v32.1h-10.2zM1657.5 2610.8h10.2v32.1h-10.2zM1509.8 2642.5h10.2v32.1h-10.2zM1637.8 2674.2h10.2v32.1h-10.2zM1470.4 2706h10.2v32.1h-10.2zM1539.3 2706h10.2v32.1h-10.2zM1618.1 2737.8h10.2v32.1h-10.2zM1627.9 2737.8h10.2v32.1h-10.2zM1460.5 2769.5h10.2v32.1h-10.2zM1509.8 2801.2h10.2v32.1h-10.2z" fill="#7ed04a"/>
<path d="M1519.6 2579h10.2v32.1h-10.2zM1549.2 2579h10.2v32.1h-10.2zM1559 2579h10.2v32.1h-10.2zM1608.2 2579h10.2v32.1h-10.2zM1637.8 2579h10.2v32.1h-10.2zM1519.6 2610.8h10.2v32.1h-10.2zM1568.8 2610.8h10.2v32.1h-10.2zM1578.7 2610.8h10.2v32.1h-10.2zM1598.4 2610.8h10.2v32.1h-10.2zM1647.6 2610.8h10.2v32.1h-10.2zM1490.1 2642.5h10.2v32.1h-10.2zM1499.9 2642.5h10.2v32.1h-10.2zM1539.3 2642.5h10.2v32.1h-10.2zM1618.1 2642.5h10.2v32.1h-10.2zM1627.9 2642.5h10.2v32.1h-10.2zM1677.2 2642.5h10.2v32.1h-10.2zM1450.7 2674.2h10.2v32.1h-10.2zM1509.8 2674.2h10.2v32.1h-10.2zM1578.7 2674.2h10.2v32.1h-10.2zM1440.8 2706h10.2v32.1h-10.2zM1490.1 2706h10.2v32.1h-10.2zM1519.6 2706h10.2v32.1h-10.2zM1568.8 2706h10.2v32.1h-10.2zM1578.7 2706h10.2v32.1h-10.2zM1618.1 2706h10.2v32.1h-10.2zM1647.6 2706h10.2v32.1h-10.2zM1667.3 2706h10.2v32.1h-10.2zM1677.2 2706h10.2v32.1h-10.2zM1480.2 2737.8h10.2v32.1h-10.2zM1598.4 2737.8h10.2v32.1h-10.2zM1627.9 2769.5h10.2v32.1h-10.2zM1431 2801.2h10.2v32.1h-10.2zM1480.2 2801.2h10.2v32.1h-10.2zM1499.9 2801.2h10.2v32.1h-10.2zM1529.5 2801.2h10.2v32.1h-10.2zM1549.2 2801.2h10.2v32.1h-10.2zM1598.4 2801.2h10.2v32.1h-10.2zM1618.1 2801.2h10.2v32.1h-10.2z" fill="#4a6ee0"/>
<path d="M1578.7 2579h10.2v32.1h-10.2zM1431 2642.5h10.2v32.1h-10.2zM1470.4 2642.5h10.2v32.1h-10.2zM1598.4 2642.5h10.2v32.1h-10.2zM1460.5 2674.2h10.2v32.1h-10.2zM1539.3 2674.2h10.2v32.1h-10.2zM1588.5 2674.2h10.2v32.1h-10.2zM1431 2706h10.2v32.1h-10.2zM1450.7 2706h10.2v32.1h-10.2zM1588.5 2706h10.2v32.1h-10.2zM1578.7 2737.8h10.2v32.1h-10.2zM1431 2769.5h10.2v32.1h-10.2zM1499.9 2769.5h10.2v32.1h-10.2zM1539.3 2769.5h10.2v32.1h-10.2zM1549.2 2769.5h10.2v32.1h-10.2zM1618.1 2769.5h10.2v32.1h-10.2zM1657.5 2801.2h10.2v32.1h-10.2z" fill="#d8dcf8"/>
<path d="M1677.2 2610.8h10.2v32.1h-10.2zM1440.8 2642.5h10.2v32.1h-10.2zM1431 2674.2h10.2v32.1h-10.2zM1480.2 2674.2h10.2v32.1h-10.2zM1539.3 2737.8h10.2v32.1h-10.2z" fill="#2a8f8f"/>
<path d="M1558 2579V2833" fill="none" stroke="#1d2d6a" stroke-width="2" />
<rect x="1431" y="2579" width="256" height="254" fill="none" stroke="#334" stroke-width="1.6" />
<rect x="1804.5" y="2377" width="167.5" height="189" fill="#7b86ea" stroke="#000" stroke-width="3" />
<rect x="1817.5" y="2817" width="157.5" height="189" fill="#ee74b4" stroke="#000" stroke-width="3" />
<text x="1836" y="2479" font-size="54" font-style="italic" >F</text>
<text x="1865" y="2492" font-size="33" font-style="italic" >drug</text>
<path d="M1847 2434.5h21" fill="none" stroke="#000" stroke-width="2.4" />
<text x="1846" y="2922" font-size="54" font-style="italic" >F</text>
<text x="1876" y="2935" font-size="33" font-style="italic" >target</text>
<path d="M1857 2877.5h21" fill="none" stroke="#000" stroke-width="2.4" />
<circle cx="1784.3" cy="2697" r="37" fill="#fff" stroke="#000" stroke-width="2.2"/><circle cx="1784.3" cy="2697" r="7.5" fill="#000"/>
<text x="1977.5" y="2604" font-size="36" text-anchor="middle" >Drug feature</text>
<text x="1977.5" y="2648" font-size="36" text-anchor="middle" >tensor</text>
<text x="1969" y="2762" font-size="36" text-anchor="middle" >Protein feature</text>
<text x="1969" y="2806" font-size="36" text-anchor="middle" >tensor</text>
<path d="M1871 2572L1806 2657" fill="none" stroke="#000" stroke-width="3" stroke-dasharray="8.3 10" stroke-linecap="round" marker-end="url(#ah)"/>
<path d="M1883 2815L1800 2742" fill="none" stroke="#000" stroke-width="3" stroke-dasharray="8.3 10" stroke-linecap="round" marker-end="url(#ah)"/>
<path d="M1745 2697H1690" fill="none" stroke="#000" stroke-width="3" stroke-dasharray="8.3 10" stroke-linecap="round" marker-end="url(#ah)"/>
<path d="M1559 2836V3012" fill="none" stroke="#000" stroke-width="3" stroke-dasharray="8.3 10" stroke-linecap="round" marker-end="url(#ah)"/>
<rect x="1285" y="3014.5" width="784" height="558.5" rx="52" fill="#efeceb" stroke="#b9aeab" stroke-width="5.5" />
<rect x="1402" y="3032.5" width="619.5" height="358.5" rx="52" fill="#e0dad8" stroke="#5a3a34" stroke-width="3.5" />
<rect x="1351.5" y="3055.5" width="648" height="361.5" rx="52" fill="#efeceb" stroke="#5a3a34" stroke-width="3.5" />
<rect x="1327" y="3082.5" width="650.5" height="364" rx="52" fill="#fff" stroke="#5a3a34" stroke-width="3.5" />
<rect x="1455.5" y="3190.5" width="255.2" height="253.5" fill="#3049a8" stroke="none" stroke-width="0" />
<path d="M1455.5 3190.5h10.2v32.1h-10.2zM1524.2 3190.5h10.2v32.1h-10.2zM1612.5 3190.5h10.2v32.1h-10.2zM1651.8 3190.5h10.2v32.1h-10.2zM1514.4 3222.2h10.2v32.1h-10.2zM1642 3222.2h10.2v32.1h-10.2zM1691.1 3222.2h10.2v32.1h-10.2zM1543.8 3253.9h10.2v32.1h-10.2zM1583.1 3253.9h10.2v32.1h-10.2zM1465.3 3285.6h10.2v32.1h-10.2zM1494.8 3285.6h10.2v32.1h-10.2zM1543.8 3285.6h10.2v32.1h-10.2zM1622.4 3285.6h10.2v32.1h-10.2zM1504.6 3317.2h10.2v32.1h-10.2zM1632.2 3317.2h10.2v32.1h-10.2zM1651.8 3317.2h10.2v32.1h-10.2zM1484.9 3348.9h10.2v32.1h-10.2zM1494.8 3348.9h10.2v32.1h-10.2zM1583.1 3348.9h10.2v32.1h-10.2zM1583.1 3380.6h10.2v32.1h-10.2zM1592.9 3380.6h10.2v32.1h-10.2zM1602.7 3380.6h10.2v32.1h-10.2zM1484.9 3412.3h10.2v32.1h-10.2zM1543.8 3412.3h10.2v32.1h-10.2zM1671.4 3412.3h10.2v32.1h-10.2z" fill="#5a9e2a"/>
<path d="M1504.6 3190.5h10.2v32.1h-10.2zM1622.4 3190.5h10.2v32.1h-10.2zM1612.5 3222.2h10.2v32.1h-10.2zM1484.9 3253.9h10.2v32.1h-10.2zM1573.3 3253.9h10.2v32.1h-10.2zM1573.3 3285.6h10.2v32.1h-10.2zM1691.1 3285.6h10.2v32.1h-10.2zM1700.9 3285.6h10.2v32.1h-10.2zM1524.2 3317.2h10.2v32.1h-10.2zM1455.5 3348.9h10.2v32.1h-10.2zM1534 3348.9h10.2v32.1h-10.2zM1543.8 3348.9h10.2v32.1h-10.2zM1573.3 3348.9h10.2v32.1h-10.2zM1612.5 3348.9h10.2v32.1h-10.2zM1661.6 3348.9h10.2v32.1h-10.2zM1681.3 3348.9h10.2v32.1h-10.2zM1700.9 3348.9h10.2v32.1h-10.2zM1475.1 3380.6h10.2v32.1h-10.2zM1504.6 3380.6h10.2v32.1h-10.2zM1514.4 3380.6h10.2v32.1h-10.2zM1534 3380.6h10.2v32.1h-10.2zM1543.8 3380.6h10.2v32.1h-10.2zM1622.4 3380.6h10.2v32.1h-10.2zM1632.2 3380.6h10.2v32.1h-10.2zM1681.3 3380.6h10.2v32.1h-10.2zM1691.1 3380.6h10.2v32.1h-10.2zM1494.8 3412.3h10.2v32.1h-10.2zM1612.5 3412.3h10.2v32.1h-10.2z" fill="#8a94ea"/>
<path d="M1514.4 3190.5h10.2v32.1h-10.2zM1642 3190.5h10.2v32.1h-10.2zM1691.1 3190.5h10.2v32.1h-10.2zM1681.3 3222.2h10.2v32.1h-10.2zM1534 3253.9h10.2v32.1h-10.2zM1661.6 3285.6h10.2v32.1h-10.2zM1494.8 3317.2h10.2v32.1h-10.2zM1563.5 3317.2h10.2v32.1h-10.2zM1642 3348.9h10.2v32.1h-10.2zM1651.8 3348.9h10.2v32.1h-10.2zM1484.9 3380.6h10.2v32.1h-10.2zM1534 3412.3h10.2v32.1h-10.2z" fill="#7ed04a"/>
<path d="M1543.8 3190.5h10.2v32.1h-10.2zM1573.3 3190.5h10.2v32.1h-10.2zM1583.1 3190.5h10.2v32.1h-10.2zM1632.2 3190.5h10.2v32.1h-10.2zM1661.6 3190.5h10.2v32.1h-10.2zM1543.8 3222.2h10.2v32.1h-10.2zM1592.9 3222.2h10.2v32.1h-10.2zM1602.7 3222.2h10.2v32.1h-10.2zM1622.4 3222.2h10.2v32.1h-10.2zM1671.4 3222.2h10.2v32.1h-10.2zM1514.4 3253.9h10.2v32.1h-10.2zM1524.2 3253.9h10.2v32.1h-10.2zM1563.5 3253.9h10.2v32.1h-10.2zM1642 3253.9h10.2v32.1h-10.2zM1651.8 3253.9h10.2v32.1h-10.2zM1700.9 3253.9h10.2v32.1h-10.2zM1475.1 3285.6h10.2v32.1h-10.2zM1534 3285.6h10.2v32.1h-10.2zM1602.7 3285.6h10.2v32.1h-10.2zM1465.3 3317.2h10.2v32.1h-10.2zM1514.4 3317.2h10.2v32.1h-10.2zM1543.8 3317.2h10.2v32.1h-10.2zM1592.9 3317.2h10.2v32.1h-10.2zM1602.7 3317.2h10.2v32.1h-10.2zM1642 3317.2h10.2v32.1h-10.2zM1671.4 3317.2h10.2v32.1h-10.2zM1691.1 3317.2h10.2v32.1h-10.2zM1700.9 3317.2h10.2v32.1h-10.2zM1504.6 3348.9h10.2v32.1h-10.2zM1622.4 3348.9h10.2v32.1h-10.2zM1651.8 3380.6h10.2v32.1h-10.2zM1455.5 3412.3h10.2v32.1h-10.2zM1504.6 3412.3h10.2v32.1h-10.2zM1524.2 3412.3h10.2v32.1h-10.2zM1553.7 3412.3h10.2v32.1h-10.2zM1573.3 3412.3h10.2v32.1h-10.2zM1622.4 3412.3h10.2v32.1h-10.2zM1642 3412.3h10.2v32.1h-10.2z" fill="#4a6ee0"/>
<path d="M1602.7 3190.5h10.2v32.1h-10.2zM1455.5 3253.9h10.2v32.1h-10.2zM1494.8 3253.9h10.2v32.1h-10.2zM1622.4 3253.9h10.2v32.1h-10.2zM1484.9 3285.6h10.2v32.1h-10.2zM1563.5 3285.6h10.2v32.1h-10.2zM1612.5 3285.6h10.2v32.1h-10.2zM1455.5 3317.2h10.2v32.1h-10.2zM1475.1 3317.2h10.2v32.1h-10.2zM1612.5 3317.2h10.2v32.1h-10.2zM1602.7 3348.9h10.2v32.1h-10.2zM1455.5 3380.6h10.2v32.1h-10.2zM1524.2 3380.6h10.2v32.1h-10.2zM1563.5 3380.6h10.2v32.1h-10.2zM1573.3 3380.6h10.2v32.1h-10.2zM1642 3380.6h10.2v32.1h-10.2zM1681.3 3412.3h10.2v32.1h-10.2z" fill="#d8dcf8"/>
<path d="M1700.9 3222.2h10.2v32.1h-10.2zM1465.3 3253.9h10.2v32.1h-10.2zM1455.5 3285.6h10.2v32.1h-10.2zM1504.6 3285.6h10.2v32.1h-10.2zM1563.5 3348.9h10.2v32.1h-10.2z" fill="#2a8f8f"/>
<path d="M1583 3190.5V3444" fill="none" stroke="#1d2d6a" stroke-width="2" />
<rect x="1455.5" y="3190.5" width="255.2" height="253.5" fill="none" stroke="#334" stroke-width="1.6" />
<path d="M1407 3195.3L1468 3320M1509.4 3195.3L1566 3320M1509.4 3094L1574 3232M1455 3195L1476 3232" fill="none" stroke="#222" stroke-width="2.2" />
<rect x="1407" y="3094" width="102.4" height="101.3" fill="#a5aef0" stroke="#444" stroke-width="2.4" />
<text x="1840" y="3223" font-size="36" text-anchor="middle" >Convolve the</text>
<text x="1840" y="3266.6" font-size="36" text-anchor="middle" >drug-target</text>
<text x="1840" y="3310.2" font-size="36" text-anchor="middle" >aggregation</text>
<text x="1840" y="3353.8" font-size="36" text-anchor="middle" >feature map</text>
<text x="1651" y="3496" font-size="54.6" text-anchor="middle" font-weight="bold" >Interactive feature extraction</text>
<text x="1651" y="3560" font-size="54.6" text-anchor="middle" font-weight="bold" >based on CNN</text>
<path d="M1242 2665L1190 2905Q1178 2962 1141 2976" fill="none" stroke="#000" stroke-width="3" stroke-dasharray="8.3 10" stroke-linecap="round" marker-end="url(#ah)"/>
<path d="M968 2978.5H900Q850 2978 810 2940L753 2908" fill="none" stroke="#000" stroke-width="3" stroke-dasharray="8.3 10" stroke-linecap="round" marker-end="url(#ah)"/>
<path d="M1364 3012V2712Q1364 2666 1326 2666H1302" fill="none" stroke="#000" stroke-width="3" stroke-dasharray="8.3 10" stroke-linecap="round" marker-end="url(#ah)"/>
<text x="827" y="3098" font-size="48" text-anchor="middle" >Normalize</text>
<text x="827" y="3155" font-size="48" text-anchor="middle" >the output</text>
<text x="2962" y="2396.5" font-size="60.3" text-anchor="middle" font-weight="bold" >Feature augment</text>
<rect x="2217" y="2437.5" width="1590.5" height="1127" rx="135" fill="#c9cff5" stroke="#2f4b9e" stroke-width="4.5" />
<rect x="2195" y="2455" width="1590" height="1127" rx="135" fill="#e9ebfb" stroke="#2f4b9e" stroke-width="4.5" />
<rect x="2163" y="2479" width="1590" height="1127" rx="135" fill="#fff" stroke="#2f4b9e" stroke-width="4.5" />
<text x="2250" y="2410" font-size="36.5" text-anchor="middle" >Multi-head</text>
<text x="2249.5" y="2453" font-size="36.5" text-anchor="middle" >attention</text>
<path d="M2389 2420Q2375 2407 2364 2421.5L2354 2435Q2348 2443 2342.7 2442.7L2330 2436.5M2342.7 2442.7Q2345 2449 2339.8 2455.3L2330 2471.7Q2319 2484 2327 2490L2336 2495.3" fill="none" stroke="#000" stroke-width="5.2" stroke-linecap="round" stroke-linejoin="round"/>
<rect x="2504.5" y="2626.7" width="201.5" height="128.3" fill="#e84f4f" stroke="#000" stroke-width="2.6" />
<rect x="2998" y="2626.7" width="201.5" height="128.6" fill="#7ace45" stroke="#000" stroke-width="2.6" />
<rect x="3250.5" y="2573" width="201" height="261" fill="#e9d572" stroke="#000" stroke-width="2.6" />
<rect x="3252" y="2592" width="198" height="11" fill="#7ace45" stroke="none" stroke-width="0" />
<rect x="3252" y="2620.5" width="198" height="7" fill="#7ace45" stroke="none" stroke-width="0" />
<rect x="3252" y="2642.5" width="198" height="7" fill="#7ace45" stroke="none" stroke-width="0" />
<rect x="3252" y="2745" width="198" height="7" fill="#7ace45" stroke="none" stroke-width="0" />
<rect x="3252" y="2768.5" width="198" height="7" fill="#7ace45" stroke="none" stroke-width="0" />
<rect x="3252" y="2805" width="198" height="7" fill="#7ace45" stroke="none" stroke-width="0" />
<rect x="3502.5" y="2573" width="201" height="261" fill="#e9d572" stroke="#000" stroke-width="2.6" />
<rect x="3502.5" y="2894" width="201" height="261.5" fill="#e9d572" stroke="#000" stroke-width="2.6" />
<rect x="3507" y="3283.2" width="201" height="261.8" fill="#e9d572" stroke="#000" stroke-width="2.6" />
<rect x="2893" y="3111" width="202" height="112" fill="#e8720c" stroke="#000" stroke-width="2.6" />
<rect x="2893" y="3265" width="202" height="261.2" fill="#e9d572" stroke="#000" stroke-width="2.6" />
<rect x="2894.5" y="3283.5" width="199" height="11" fill="#e8720c" stroke="none" stroke-width="0" />
<rect x="2894.5" y="3311.5" width="199" height="7" fill="#e8720c" stroke="none" stroke-width="0" />
<rect x="2894.5" y="3334.5" width="199" height="7" fill="#e8720c" stroke="none" stroke-width="0" />
<rect x="2894.5" y="3437" width="199" height="7" fill="#e8720c" stroke="none" stroke-width="0" />
<rect x="2894.5" y="3460.5" width="199" height="7" fill="#e8720c" stroke="none" stroke-width="0" />
<rect x="2894.5" y="3497.5" width="199" height="7" fill="#e8720c" stroke="none" stroke-width="0" />
<rect x="2477.5" y="3219.6" width="200.7" height="261" fill="#4bcace" stroke="#000" stroke-width="3" />
<text x="3351" y="2724" font-size="68" text-anchor="middle" font-style="italic" >K</text>
<text x="3604" y="2724" font-size="68" text-anchor="middle" font-style="italic" >K</text>
<text x="3608" y="3435" font-size="68" text-anchor="middle" font-style="italic" >V</text>
<text x="2994" y="3190" font-size="68" text-anchor="middle" font-style="italic" >Z</text>
<path d="M3502.5 2703.5H3455" fill="none" stroke="#000" stroke-width="3" marker-end="url(#as)"/>
<path d="M3250.5 2690.5H3203" fill="none" stroke="#000" stroke-width="3" marker-end="url(#as)"/>
<path d="M2998 2691H2710" fill="none" stroke="#000" stroke-width="3" marker-end="url(#as)"/>
<path d="M2947 2691V3024.5H3502.5" fill="none" stroke="#000" stroke-width="3"/>
<path d="M2605 2755V2812" fill="none" stroke="#000" stroke-width="3" marker-end="url(#as)"/>
<path d="M2605.3 3013V3068H2994.5V3108" fill="none" stroke="#000" stroke-width="3" marker-end="url(#as)"/>
<path d="M2994.5 3223V3262" fill="none" stroke="#000" stroke-width="3" marker-end="url(#as)"/>
<path d="M3507 3406H3099" fill="none" stroke="#000" stroke-width="3" marker-end="url(#as)"/>
<path d="M2893 3353H2682" fill="none" stroke="#000" stroke-width="3" marker-end="url(#as)"/>
<g font-style="italic" font-size="49">
<text x="2385" y="2925">Z</text><text x="2427" y="2923" font-style="normal" font-size="46">=</text><text x="2471" y="2925">softmax</text>
<text x="2662" y="2893.5">Q</text><text x="2699" y="2891" font-style="normal" font-size="44">'</text><text x="2717" y="2893.5">K</text><text x="2755" y="2872" font-size="32">T</text>
<text x="2710" y="2973">d</text><text x="2737" y="2985" font-size="32">k</text>
<text x="2820" y="2925">V</text>
</g>
<path d="M2656.5 2913H2789" fill="none" stroke="#000" stroke-width="2.6" />
<path d="M2680 2956L2686 2952L2697 2984L2709 2933H2768" fill="none" stroke="#000" stroke-width="2.6" />
<text transform="translate(2630,2958) scale(0.42,1.3)" font-size="140">(</text><text transform="translate(2793,2958) scale(0.42,1.3)" font-size="140">)</text>
<text x="2976.5" y="2868" font-size="36.6" >Based on the query spars</text>
<text x="2976.5" y="2911.3" font-size="36.6" >evaluation of</text>
<text x="2976.5" y="2954.6" font-size="36.6" ><tspan font-style="italic">u</tspan> queries are selected to fo</text>
<text x="2976.5" y="2997.9" font-size="36.6" >a subset <tspan font-style="italic">Q’</tspan></text>
<g font-style="italic" font-size="24"><text x="3177" y="2910">M</text><text x="3203" y="2913" font-style="normal" font-size="34">(</text><text x="3215" y="2910" font-size="22">q</text><text x="3227" y="2915" font-size="15">i</text><text x="3233" y="2910" font-style="normal" font-size="22">,</text><text x="3243" y="2910" font-size="22">K′</text></g>
<text x="3269" y="2911.3" font-size="36.6" >), the <tspan font-style="italic">t</tspan></text>
<path d="M3184 2889h13" fill="none" stroke="#000" stroke-width="1.6" />
<text x="3289.5" y="3261.3" font-size="36.6" text-anchor="middle" >Fill the corresp</text>
<text x="3289" y="3304.8" font-size="36.6" text-anchor="middle" >positions with</text>
<text x="3285" y="3348.3" font-size="36.6" text-anchor="middle" >fill the remainin</text>
<text x="3293" y="3391.8" font-size="36.6" text-anchor="middle" >with the mean_ro</text>
<text x="2785" y="3339" font-size="36.6" text-anchor="middle" >Feature</text>
<text x="2786" y="3383.5" font-size="36.6" text-anchor="middle" >Extracted</text>
<text x="2312" y="3187" font-size="36" font-style="italic" >MaxPool<tspan font-style="normal">(</tspan>ELU<tspan font-style="normal">(</tspan>CNN<tspan font-style="normal">))</tspan></text>
<text x="2484" y="3375" font-size="66" font-style="italic" >F</text>
<text x="2525" y="3338" font-size="32" font-style="italic" >out</text>
<text x="2513" y="3376" font-size="32.5" font-style="italic" >drug<tspan dx="3">/</tspan><tspan dx="3">target</tspan></text>
<text x="2909" y="3398.5" font-size="62" font-style="italic" >F</text>
<text x="2944" y="3378" font-size="31" >(1)</text>
<text x="2938.5" y="3411" font-size="31" font-style="italic" >drug<tspan dx="3">/</tspan><tspan dx="3">target</tspan></text>
<rect x="2192.7" y="3256" width="155.6" height="184.5" fill="#3049a8" stroke="none" stroke-width="0" />
<path d="M2192.7 3256h12.4v31.1h-12.4zM2240.6 3256h12.4v31.1h-12.4zM2228.6 3286.8h12.4v31.1h-12.4zM2324.4 3286.8h12.4v31.1h-12.4zM2192.7 3317.5h12.4v31.1h-12.4zM2216.6 3317.5h12.4v31.1h-12.4zM2192.7 3379h12.4v31.1h-12.4zM2276.5 3379h12.4v31.1h-12.4zM2324.4 3379h12.4v31.1h-12.4zM2336.3 3379h12.4v31.1h-12.4z" fill="#d8dcf8"/>
<path d="M2204.7 3256h12.4v31.1h-12.4zM2192.7 3286.8h12.4v31.1h-12.4zM2252.5 3286.8h12.4v31.1h-12.4zM2324.4 3348.2h12.4v31.1h-12.4z" fill="#2a8f8f"/>
<path d="M2228.6 3256h12.4v31.1h-12.4zM2336.3 3256h12.4v31.1h-12.4zM2336.3 3286.8h12.4v31.1h-12.4zM2276.5 3317.5h12.4v31.1h-12.4zM2192.7 3348.2h12.4v31.1h-12.4zM2288.5 3348.2h12.4v31.1h-12.4zM2300.4 3348.2h12.4v31.1h-12.4zM2336.3 3348.2h12.4v31.1h-12.4zM2216.6 3379h12.4v31.1h-12.4zM2252.5 3379h12.4v31.1h-12.4zM2264.5 3379h12.4v31.1h-12.4zM2288.5 3379h12.4v31.1h-12.4zM2300.4 3379h12.4v31.1h-12.4zM2240.6 3409.8h12.4v31.1h-12.4z" fill="#8a94ea"/>
<path d="M2264.5 3256h12.4v31.1h-12.4zM2276.5 3256h12.4v31.1h-12.4zM2324.4 3256h12.4v31.1h-12.4zM2216.6 3286.8h12.4v31.1h-12.4zM2288.5 3286.8h12.4v31.1h-12.4zM2204.7 3317.5h12.4v31.1h-12.4zM2264.5 3317.5h12.4v31.1h-12.4zM2300.4 3317.5h12.4v31.1h-12.4zM2252.5 3348.2h12.4v31.1h-12.4zM2192.7 3409.8h12.4v31.1h-12.4zM2252.5 3409.8h12.4v31.1h-12.4zM2276.5 3409.8h12.4v31.1h-12.4zM2312.4 3409.8h12.4v31.1h-12.4zM2336.3 3409.8h12.4v31.1h-12.4z" fill="#4a6ee0"/>
<path d="M2288.5 3256h12.4v31.1h-12.4zM2240.6 3317.5h12.4v31.1h-12.4zM2324.4 3317.5h12.4v31.1h-12.4zM2228.6 3379h12.4v31.1h-12.4zM2288.5 3409.8h12.4v31.1h-12.4z" fill="#7ed04a"/>
<path d="M2300.4 3256h12.4v31.1h-12.4zM2204.7 3286.8h12.4v31.1h-12.4zM2240.6 3286.8h12.4v31.1h-12.4zM2300.4 3286.8h12.4v31.1h-12.4zM2252.5 3317.5h12.4v31.1h-12.4zM2228.6 3348.2h12.4v31.1h-12.4zM2240.6 3348.2h12.4v31.1h-12.4zM2228.6 3409.8h12.4v31.1h-12.4zM2300.4 3409.8h12.4v31.1h-12.4z" fill="#5a9e2a"/>
<rect x="2192.7" y="3256" width="155.6" height="184.5" fill="none" stroke="#334" stroke-width="1.2" />
<path d="M2348.3 3256L2477.5 3219.6V3480.6L2348.3 3440.5Z" fill="#fff" stroke="none" stroke-width="0" />
<path d="M2348.3 3256L2477.5 3219.6M2348.3 3440.5L2477.5 3480.6" fill="none" stroke="#000" stroke-width="5" />
<text x="2183" y="3502.5" font-size="66" font-style="italic" >F</text>
<text x="2211.5" y="3518" font-size="37" font-style="italic" >drug / target</text>
<path d="M2201 3452q5 -7 10 -2t10 -2" fill="none" stroke="#000" stroke-width="2.4" />
<path d="M3843 2786.3h21.9v5.4h-21.9zM3843 2831h21.9v5.4h-21.9zM3843 2875.7h21.9v5.4h-21.9zM3843 2960.2h21.9v5.4h-21.9zM3864.5 2786.3h21.9v5.4h-21.9zM3864.5 2960.2h21.9v25.2h-21.9zM3864.5 3019.8h21.9v10.3h-21.9zM3864.5 3109.2h21.9v5.4h-21.9zM3886 2816.1h21.9v5.4h-21.9zM3886 3019.8h21.9v10.3h-21.9zM3907.6 2831h21.9v5.4h-21.9zM3907.6 2860.8h21.9v5.4h-21.9zM3907.6 2900.5h21.9v5.4h-21.9zM3907.6 2925.4h21.9v5.4h-21.9zM3907.6 3009.8h21.9v5.4h-21.9zM3907.6 3094.3h21.9v10.3h-21.9zM3929.1 2786.3h21.9v10.3h-21.9zM3929.1 2950.2h21.9v5.4h-21.9zM3929.1 2970.1h21.9v5.4h-21.9zM3929.1 3014.8h21.9v5.4h-21.9zM3929.1 3074.4h21.9v10.3h-21.9zM3950.6 2890.6h21.9v20.3h-21.9zM3950.6 3104.2h21.9v5.4h-21.9zM3972.1 2786.3h21.9v10.3h-21.9zM3972.1 2965.1h21.9v20.3h-21.9zM3972.1 3054.5h21.9v5.4h-21.9zM3972.1 3084.3h21.9v5.4h-21.9zM3993.7 2895.6h21.9v10.3h-21.9zM3993.7 2920.4h21.9v5.4h-21.9zM3993.7 2975.1h21.9v5.4h-21.9zM3993.7 3014.8h21.9v5.4h-21.9zM4015.2 2796.2h21.9v5.4h-21.9zM4015.2 2840.9h21.9v10.3h-21.9zM4015.2 2994.9h21.9v5.4h-21.9zM4015.2 3039.6h21.9v10.3h-21.9zM4015.2 3079.4h21.9v20.3h-21.9z" fill="#fbe0e2"/>
<path d="M3843 2791.3h21.9v5.4h-21.9zM3843 2826h21.9v5.4h-21.9zM3864.5 3014.8h21.9v5.4h-21.9zM3886 2821.1h21.9v5.4h-21.9zM3907.6 2930.3h21.9v5.4h-21.9zM3907.6 3004.9h21.9v5.4h-21.9zM3907.6 3089.3h21.9v5.4h-21.9zM3993.7 2905.5h21.9v5.4h-21.9zM4015.2 2836h21.9v5.4h-21.9z" fill="#f6b4b9"/>
<path d="M3843 2796.2h21.9v10.3h-21.9zM3843 2811.1h21.9v5.4h-21.9zM3843 2821.1h21.9v5.4h-21.9zM3843 2870.7h21.9v5.4h-21.9zM3843 2905.5h21.9v5.4h-21.9zM3843 2940.3h21.9v5.4h-21.9zM3843 3119.1h21.9v5.4h-21.9zM3864.5 2845.9h21.9v5.4h-21.9zM3864.5 2865.8h21.9v5.4h-21.9zM3864.5 2905.5h21.9v5.4h-21.9zM3864.5 3004.9h21.9v10.3h-21.9zM3864.5 3094.3h21.9v5.4h-21.9zM3886 2811.1h21.9v5.4h-21.9zM3886 2826h21.9v5.4h-21.9zM3886 2845.9h21.9v5.4h-21.9zM3886 2925.4h21.9v5.4h-21.9zM3886 2980h21.9v5.4h-21.9zM3907.6 2786.3h21.9v10.3h-21.9zM3907.6 2855.8h21.9v5.4h-21.9zM3907.6 2935.3h21.9v5.4h-21.9zM3907.6 2960.2h21.9v5.4h-21.9zM3907.6 2999.9h21.9v5.4h-21.9zM3907.6 3084.3h21.9v5.4h-21.9zM3929.1 2796.2h21.9v5.4h-21.9zM3929.1 2865.8h21.9v5.4h-21.9zM3929.1 2940.3h21.9v10.3h-21.9zM3929.1 2975.1h21.9v20.3h-21.9zM3929.1 3059.5h21.9v5.4h-21.9zM3950.6 2831h21.9v15.3h-21.9zM3950.6 2855.8h21.9v10.3h-21.9zM3950.6 2985h21.9v15.3h-21.9zM3950.6 3049.6h21.9v5.4h-21.9zM3972.1 2865.8h21.9v5.4h-21.9zM3972.1 2885.6h21.9v5.4h-21.9zM3972.1 3034.7h21.9v5.4h-21.9zM3972.1 3069.4h21.9v5.4h-21.9zM3972.1 3099.2h21.9v10.3h-21.9zM3993.7 2850.9h21.9v5.4h-21.9zM3993.7 2910.5h21.9v10.3h-21.9zM3993.7 3024.7h21.9v5.4h-21.9zM4015.2 2831h21.9v5.4h-21.9zM4015.2 2975.1h21.9v5.4h-21.9zM4015.2 3014.8h21.9v5.4h-21.9zM4015.2 3064.5h21.9v10.3h-21.9z" fill="#f08890"/>
<path d="M3843 2806.2h21.9v5.4h-21.9zM3843 2980h21.9v5.4h-21.9zM3843 3114.1h21.9v5.4h-21.9zM3864.5 3119.1h21.9v5.4h-21.9zM3886 3074.4h21.9v5.4h-21.9zM3907.6 2806.2h21.9v15.3h-21.9zM3929.1 2816.1h21.9v5.4h-21.9zM3929.1 2845.9h21.9v5.4h-21.9zM3929.1 3124.1h21.9v5.4h-21.9zM3950.6 3059.5h21.9v5.4h-21.9zM3972.1 2910.5h21.9v10.3h-21.9zM3972.1 3064.5h21.9v5.4h-21.9zM3993.7 2865.8h21.9v5.4h-21.9zM3993.7 2925.4h21.9v5.4h-21.9zM4015.2 2786.3h21.9v5.4h-21.9zM4015.2 3074.4h21.9v5.4h-21.9z" fill="#ffffff"/>
<path d="M3843 2816.1h21.9v5.4h-21.9zM3843 2865.8h21.9v5.4h-21.9zM3843 2990h21.9v5.4h-21.9zM3843 3024.7h21.9v10.3h-21.9zM3864.5 2796.2h21.9v5.4h-21.9zM3864.5 2831h21.9v5.4h-21.9zM3886 2905.5h21.9v5.4h-21.9zM3886 2965.1h21.9v5.4h-21.9zM3907.6 2895.6h21.9v5.4h-21.9zM3907.6 3039.6h21.9v5.4h-21.9zM3907.6 3054.5h21.9v5.4h-21.9zM3929.1 2855.8h21.9v10.3h-21.9zM3929.1 2890.6h21.9v5.4h-21.9zM3950.6 2925.4h21.9v5.4h-21.9zM3950.6 2955.2h21.9v10.3h-21.9zM3950.6 2975.1h21.9v5.4h-21.9zM3950.6 3019.8h21.9v5.4h-21.9zM3950.6 3114.1h21.9v10.3h-21.9zM3972.1 2875.7h21.9v5.4h-21.9zM3972.1 2900.5h21.9v5.4h-21.9zM3993.7 2955.2h21.9v5.4h-21.9zM3993.7 2999.9h21.9v10.3h-21.9zM3993.7 3124.1h21.9v5.4h-21.9zM4015.2 2960.2h21.9v10.3h-21.9zM4015.2 3119.1h21.9v5.4h-21.9z" fill="#dfe8f4"/>
<path d="M3843 2836h21.9v5.4h-21.9zM3843 2999.9h21.9v5.4h-21.9zM3843 3124.1h21.9v5.4h-21.9zM3864.5 2821.1h21.9v5.4h-21.9zM3864.5 2900.5h21.9v5.4h-21.9zM3864.5 2940.3h21.9v5.4h-21.9zM3864.5 3124.1h21.9v5.4h-21.9zM3886 2895.6h21.9v5.4h-21.9zM3886 3044.6h21.9v10.3h-21.9zM3886 3089.3h21.9v5.4h-21.9zM3907.6 2801.2h21.9v5.4h-21.9zM3929.1 2915.4h21.9v10.3h-21.9zM3950.6 2920.4h21.9v5.4h-21.9zM3950.6 2930.3h21.9v5.4h-21.9zM3950.6 3029.7h21.9v5.4h-21.9zM3950.6 3089.3h21.9v10.3h-21.9zM3950.6 3129h21.9v5.4h-21.9zM3972.1 2836h21.9v5.4h-21.9zM3972.1 2895.6h21.9v5.4h-21.9zM3972.1 3004.9h21.9v5.4h-21.9zM3993.7 2836h21.9v10.3h-21.9zM4015.2 2885.6h21.9v20.3h-21.9zM4015.2 2950.2h21.9v5.4h-21.9z" fill="#5080c0"/>
<path d="M3843 2840.9h21.9v5.4h-21.9zM3843 2885.6h21.9v10.3h-21.9zM3843 2920.4h21.9v5.4h-21.9zM3843 3054.5h21.9v10.3h-21.9zM3843 3094.3h21.9v5.4h-21.9zM3864.5 2880.7h21.9v5.4h-21.9zM3864.5 2915.4h21.9v10.3h-21.9zM3864.5 3044.6h21.9v5.4h-21.9zM3886 2786.3h21.9v5.4h-21.9zM3886 2865.8h21.9v10.3h-21.9zM3886 2915.4h21.9v5.4h-21.9zM3886 3009.8h21.9v5.4h-21.9zM3886 3094.3h21.9v5.4h-21.9zM3907.6 2821.1h21.9v5.4h-21.9zM3907.6 2870.7h21.9v5.4h-21.9zM3907.6 2915.4h21.9v5.4h-21.9zM3907.6 2980h21.9v5.4h-21.9zM3907.6 3069.4h21.9v5.4h-21.9zM3929.1 2826h21.9v5.4h-21.9zM3929.1 3029.7h21.9v5.4h-21.9zM3929.1 3109.2h21.9v5.4h-21.9zM3929.1 3129h21.9v5.4h-21.9zM3950.6 2801.2h21.9v10.3h-21.9zM3950.6 2821.1h21.9v5.4h-21.9zM3950.6 2940.3h21.9v10.3h-21.9zM3950.6 3064.5h21.9v5.4h-21.9zM3972.1 2811.1h21.9v5.4h-21.9zM3972.1 2925.4h21.9v5.4h-21.9zM3972.1 2940.3h21.9v5.4h-21.9zM3972.1 2994.9h21.9v5.4h-21.9zM3972.1 3044.6h21.9v10.3h-21.9zM3972.1 3089.3h21.9v5.4h-21.9zM3972.1 3114.1h21.9v20.3h-21.9zM3993.7 2786.3h21.9v5.4h-21.9zM3993.7 2965.1h21.9v5.4h-21.9zM3993.7 3034.7h21.9v5.4h-21.9zM3993.7 3069.4h21.9v5.4h-21.9zM3993.7 3114.1h21.9v5.4h-21.9zM4015.2 2855.8h21.9v10.3h-21.9zM4015.2 2910.5h21.9v5.4h-21.9zM4015.2 2945.2h21.9v5.4h-21.9zM4015.2 3009.8h21.9v5.4h-21.9zM4015.2 3029.7h21.9v5.4h-21.9z" fill="#e8505a"/>
<path d="M3843 2845.9h21.9v5.4h-21.9zM3843 3064.5h21.9v5.4h-21.9zM3864.5 2885.6h21.9v5.4h-21.9zM3864.5 3039.6h21.9v5.4h-21.9zM3886 2860.8h21.9v5.4h-21.9zM3907.6 2875.7h21.9v5.4h-21.9zM3907.6 2985h21.9v5.4h-21.9zM3950.6 2796.2h21.9v5.4h-21.9zM3950.6 2811.1h21.9v5.4h-21.9zM3950.6 3069.4h21.9v5.4h-21.9zM3972.1 2945.2h21.9v5.4h-21.9z" fill="#ef848b"/>
<path d="M3843 2850.9h21.9v10.3h-21.9zM3843 2955.2h21.9v5.4h-21.9zM3843 2970.1h21.9v5.4h-21.9zM3843 3069.4h21.9v10.3h-21.9zM3843 3109.2h21.9v5.4h-21.9zM3843 3129h21.9v5.4h-21.9zM3864.5 2806.2h21.9v10.3h-21.9zM3864.5 2875.7h21.9v5.4h-21.9zM3864.5 2890.6h21.9v10.3h-21.9zM3864.5 2990h21.9v10.3h-21.9zM3864.5 3034.7h21.9v5.4h-21.9zM3886 2855.8h21.9v5.4h-21.9zM3886 2940.3h21.9v5.4h-21.9zM3886 3059.5h21.9v15.3h-21.9zM3886 3114.1h21.9v5.4h-21.9zM3886 3124.1h21.9v5.4h-21.9zM3907.6 2796.2h21.9v5.4h-21.9zM3907.6 2880.7h21.9v10.3h-21.9zM3907.6 2990h21.9v10.3h-21.9zM3907.6 3019.8h21.9v5.4h-21.9zM3907.6 3049.6h21.9v5.4h-21.9zM3929.1 2806.2h21.9v5.4h-21.9zM3929.1 2875.7h21.9v10.3h-21.9zM3929.1 2900.5h21.9v10.3h-21.9zM3929.1 2999.9h21.9v10.3h-21.9zM3929.1 3099.2h21.9v10.3h-21.9zM3950.6 2786.3h21.9v10.3h-21.9zM3950.6 2816.1h21.9v5.4h-21.9zM3950.6 2845.9h21.9v5.4h-21.9zM3950.6 2875.7h21.9v5.4h-21.9zM3950.6 3009.8h21.9v5.4h-21.9zM3950.6 3039.6h21.9v5.4h-21.9zM3950.6 3074.4h21.9v10.3h-21.9zM3972.1 2855.8h21.9v5.4h-21.9zM3972.1 2950.2h21.9v5.4h-21.9zM3972.1 3014.8h21.9v10.3h-21.9zM3993.7 2791.3h21.9v15.3h-21.9zM3993.7 3019.8h21.9v5.4h-21.9zM3993.7 3089.3h21.9v5.4h-21.9zM4015.2 2816.1h21.9v10.3h-21.9zM4015.2 2930.3h21.9v5.4h-21.9z" fill="#f6b8bc"/>
<path d="M3843 2860.8h21.9v5.4h-21.9zM3864.5 2801.2h21.9v5.4h-21.9zM3907.6 2890.6h21.9v5.4h-21.9zM3907.6 3044.6h21.9v5.4h-21.9zM3929.1 2885.6h21.9v5.4h-21.9zM3929.1 2895.6h21.9v5.4h-21.9zM3950.6 3014.8h21.9v5.4h-21.9z" fill="#ead0d8"/>
<path d="M3843 2880.7h21.9v5.4h-21.9zM3886 3014.8h21.9v5.4h-21.9zM3907.6 2826h21.9v5.4h-21.9zM3907.6 2865.8h21.9v5.4h-21.9zM3907.6 2920.4h21.9v5.4h-21.9zM3993.7 2970.1h21.9v5.4h-21.9zM4015.2 2850.9h21.9v5.4h-21.9zM4015.2 3034.7h21.9v5.4h-21.9z" fill="#f2989e"/>
<path d="M3843 2895.6h21.9v5.4h-21.9zM3843 2910.5h21.9v5.4h-21.9zM3843 2930.3h21.9v10.3h-21.9zM3843 3004.9h21.9v15.3h-21.9zM3843 3039.6h21.9v10.3h-21.9zM3843 3089.3h21.9v5.4h-21.9zM3843 3099.2h21.9v5.4h-21.9zM3864.5 2836h21.9v5.4h-21.9zM3864.5 2930.3h21.9v10.3h-21.9zM3864.5 3084.3h21.9v5.4h-21.9zM3864.5 3104.2h21.9v5.4h-21.9zM3886 2796.2h21.9v10.3h-21.9zM3886 2831h21.9v5.4h-21.9zM3886 2875.7h21.9v15.3h-21.9zM3886 2935.3h21.9v5.4h-21.9zM3886 2960.2h21.9v5.4h-21.9zM3886 2975.1h21.9v5.4h-21.9zM3886 2985h21.9v5.4h-21.9zM3886 3084.3h21.9v5.4h-21.9zM3886 3119.1h21.9v5.4h-21.9zM3907.6 2845.9h21.9v5.4h-21.9zM3907.6 2945.2h21.9v10.3h-21.9zM3907.6 3064.5h21.9v5.4h-21.9zM3907.6 3109.2h21.9v20.3h-21.9zM3929.1 2836h21.9v10.3h-21.9zM3929.1 3019.8h21.9v5.4h-21.9zM3929.1 3054.5h21.9v5.4h-21.9zM3929.1 3084.3h21.9v5.4h-21.9zM3929.1 3114.1h21.9v5.4h-21.9zM3950.6 2870.7h21.9v5.4h-21.9zM3950.6 2880.7h21.9v5.4h-21.9zM3950.6 2965.1h21.9v5.4h-21.9zM3972.1 3029.7h21.9v5.4h-21.9zM3993.7 2811.1h21.9v20.3h-21.9zM3993.7 2870.7h21.9v20.3h-21.9zM3993.7 2935.3h21.9v10.3h-21.9zM3993.7 2985h21.9v10.3h-21.9zM3993.7 3029.7h21.9v5.4h-21.9zM3993.7 3054.5h21.9v10.3h-21.9zM3993.7 3109.2h21.9v5.4h-21.9zM4015.2 2791.3h21.9v5.4h-21.9zM4015.2 2870.7h21.9v10.3h-21.9zM4015.2 2920.4h21.9v5.4h-21.9zM4015.2 3019.8h21.9v5.4h-21.9zM4015.2 3104.2h21.9v5.4h-21.9zM4015.2 3124.1h21.9v5.4h-21.9z" fill="#88a8d8"/>
<path d="M3843 2900.5h21.9v5.4h-21.9zM3864.5 2840.9h21.9v5.4h-21.9zM3864.5 3099.2h21.9v5.4h-21.9zM3886 2806.2h21.9v5.4h-21.9zM3886 2930.3h21.9v5.4h-21.9zM3907.6 2850.9h21.9v5.4h-21.9zM3907.6 2940.3h21.9v5.4h-21.9zM3907.6 2955.2h21.9v5.4h-21.9zM3950.6 2865.8h21.9v5.4h-21.9z" fill="#bc98b4"/>
<path d="M3843 2915.4h21.9v5.4h-21.9zM3843 2925.4h21.9v5.4h-21.9zM3843 3049.6h21.9v5.4h-21.9zM3864.5 2925.4h21.9v5.4h-21.9zM3886 2791.3h21.9v5.4h-21.9zM3929.1 2831h21.9v5.4h-21.9zM3929.1 3024.7h21.9v5.4h-21.9zM3993.7 3064.5h21.9v5.4h-21.9zM4015.2 2865.8h21.9v5.4h-21.9zM4015.2 2915.4h21.9v5.4h-21.9zM4015.2 3024.7h21.9v5.4h-21.9z" fill="#b87c99"/>
<path d="M3843 2945.2h21.9v5.4h-21.9zM3864.5 2850.9h21.9v5.4h-21.9zM3907.6 2965.1h21.9v5.4h-21.9zM3907.6 3079.4h21.9v5.4h-21.9zM3929.1 2935.3h21.9v5.4h-21.9zM3950.6 2999.9h21.9v5.4h-21.9zM3993.7 2855.8h21.9v5.4h-21.9zM4015.2 2980h21.9v5.4h-21.9zM4015.2 3059.5h21.9v5.4h-21.9z" fill="#d4aabc"/>
<path d="M3843 2950.2h21.9v5.4h-21.9zM3843 3079.4h21.9v5.4h-21.9zM3864.5 2855.8h21.9v10.3h-21.9zM3864.5 2950.2h21.9v5.4h-21.9zM3864.5 3054.5h21.9v30.2h-21.9zM3864.5 3089.3h21.9v5.4h-21.9zM3886 2840.9h21.9v5.4h-21.9zM3886 2950.2h21.9v5.4h-21.9zM3886 2994.9h21.9v15.3h-21.9zM3886 3034.7h21.9v5.4h-21.9zM3886 3079.4h21.9v5.4h-21.9zM3886 3104.2h21.9v5.4h-21.9zM3907.6 2840.9h21.9v5.4h-21.9zM3907.6 2905.5h21.9v5.4h-21.9zM3907.6 2970.1h21.9v5.4h-21.9zM3907.6 3029.7h21.9v5.4h-21.9zM3907.6 3074.4h21.9v5.4h-21.9zM3929.1 2930.3h21.9v5.4h-21.9zM3929.1 2960.2h21.9v10.3h-21.9zM3929.1 3039.6h21.9v10.3h-21.9zM3929.1 3064.5h21.9v5.4h-21.9zM3929.1 3089.3h21.9v5.4h-21.9zM3950.6 2915.4h21.9v5.4h-21.9zM3950.6 3004.9h21.9v5.4h-21.9zM3972.1 2801.2h21.9v10.3h-21.9zM3972.1 2821.1h21.9v10.3h-21.9zM3972.1 2845.9h21.9v5.4h-21.9zM3972.1 2935.3h21.9v5.4h-21.9zM3972.1 2960.2h21.9v5.4h-21.9zM3972.1 2990h21.9v5.4h-21.9zM3972.1 3074.4h21.9v5.4h-21.9zM3993.7 2860.8h21.9v5.4h-21.9zM3993.7 2945.2h21.9v5.4h-21.9zM3993.7 3039.6h21.9v10.3h-21.9zM3993.7 3079.4h21.9v5.4h-21.9zM3993.7 3099.2h21.9v10.3h-21.9zM4015.2 2806.2h21.9v5.4h-21.9zM4015.2 2935.3h21.9v5.4h-21.9zM4015.2 2985h21.9v5.4h-21.9zM4015.2 3004.9h21.9v5.4h-21.9zM4015.2 3054.5h21.9v5.4h-21.9zM4015.2 3109.2h21.9v5.4h-21.9z" fill="#b8cce8"/>
<path d="M3843 2965.1h21.9v5.4h-21.9zM3864.5 2985h21.9v5.4h-21.9zM3864.5 3029.7h21.9v5.4h-21.9zM3907.6 3014.8h21.9v5.4h-21.9zM3929.1 3009.8h21.9v5.4h-21.9z" fill="#f8cccf"/>
<path d="M3843 2975.1h21.9v5.4h-21.9zM3929.1 2811.1h21.9v5.4h-21.9z" fill="#fadcde"/>
<path d="M3843 2985h21.9v5.4h-21.9zM3929.1 2850.9h21.9v5.4h-21.9zM3972.1 2905.5h21.9v5.4h-21.9zM3993.7 3129h21.9v5.4h-21.9z" fill="#eff4fa"/>
<path d="M3843 2994.9h21.9v5.4h-21.9zM3864.5 2826h21.9v5.4h-21.9zM3886 2900.5h21.9v5.4h-21.9zM3950.6 3024.7h21.9v5.4h-21.9zM3950.6 3124.1h21.9v5.4h-21.9zM4015.2 2955.2h21.9v5.4h-21.9z" fill="#98b4da"/>
<path d="M3843 3019.8h21.9v5.4h-21.9zM3843 3034.7h21.9v5.4h-21.9zM3886 2970.1h21.9v5.4h-21.9zM3907.6 3059.5h21.9v5.4h-21.9zM3950.6 2970.1h21.9v5.4h-21.9zM3993.7 2994.9h21.9v5.4h-21.9z" fill="#b4c8e6"/>
<path d="M3843 3084.3h21.9v5.4h-21.9zM3886 2836h21.9v5.4h-21.9zM3886 2955.2h21.9v5.4h-21.9zM3886 2990h21.9v5.4h-21.9zM3929.1 3049.6h21.9v5.4h-21.9zM3993.7 3049.6h21.9v5.4h-21.9z" fill="#a0bae0"/>
<path d="M3843 3104.2h21.9v5.4h-21.9zM3907.6 3129h21.9v5.4h-21.9zM3972.1 3024.7h21.9v5.4h-21.9zM3993.7 2806.2h21.9v5.4h-21.9zM4015.2 2925.4h21.9v5.4h-21.9z" fill="#bfb0ca"/>
<path d="M3864.5 2791.3h21.9v5.4h-21.9zM3950.6 3109.2h21.9v5.4h-21.9zM3993.7 3009.8h21.9v5.4h-21.9z" fill="#ede4eb"/>
<path d="M3864.5 2816.1h21.9v5.4h-21.9zM3886 3054.5h21.9v5.4h-21.9zM3929.1 2910.5h21.9v5.4h-21.9zM3950.6 3034.7h21.9v5.4h-21.9zM3950.6 3084.3h21.9v5.4h-21.9zM3972.1 3009.8h21.9v5.4h-21.9z" fill="#a39cbe"/>
<path d="M3864.5 2870.7h21.9v5.4h-21.9zM3864.5 2999.9h21.9v5.4h-21.9zM3886 2850.9h21.9v5.4h-21.9zM3929.1 2801.2h21.9v5.4h-21.9zM3929.1 2870.7h21.9v5.4h-21.9zM3929.1 2994.9h21.9v5.4h-21.9zM3950.6 2850.9h21.9v5.4h-21.9zM3950.6 3044.6h21.9v5.4h-21.9zM3972.1 2860.8h21.9v5.4h-21.9zM4015.2 2826h21.9v5.4h-21.9z" fill="#f3a0a6"/>
<path d="M3864.5 2910.5h21.9v5.4h-21.9zM3886 2920.4h21.9v5.4h-21.9zM3950.6 2826h21.9v5.4h-21.9zM3972.1 3039.6h21.9v5.4h-21.9zM3972.1 3094.3h21.9v5.4h-21.9zM3972.1 3109.2h21.9v5.4h-21.9z" fill="#ec6c75"/>
<path d="M3864.5 2945.2h21.9v5.4h-21.9zM3864.5 3129h21.9v5.4h-21.9zM3886 3039.6h21.9v5.4h-21.9zM3929.1 2925.4h21.9v5.4h-21.9zM3972.1 2831h21.9v5.4h-21.9zM3972.1 2840.9h21.9v5.4h-21.9z" fill="#84a6d4"/>
<path d="M3864.5 2955.2h21.9v5.4h-21.9zM3886 3029.7h21.9v5.4h-21.9zM3907.6 2836h21.9v5.4h-21.9zM3929.1 2955.2h21.9v5.4h-21.9zM3929.1 3069.4h21.9v5.4h-21.9zM3950.6 2910.5h21.9v5.4h-21.9zM3972.1 2796.2h21.9v5.4h-21.9zM3972.1 2985h21.9v5.4h-21.9zM3972.1 3079.4h21.9v5.4h-21.9zM4015.2 2801.2h21.9v5.4h-21.9zM4015.2 2990h21.9v5.4h-21.9zM4015.2 2999.9h21.9v5.4h-21.9zM4015.2 3049.6h21.9v5.4h-21.9z" fill="#dad6e5"/>
<path d="M3864.5 3049.6h21.9v5.4h-21.9zM3886 3099.2h21.9v5.4h-21.9zM3907.6 2910.5h21.9v5.4h-21.9zM3907.6 2975.1h21.9v5.4h-21.9zM3929.1 3034.7h21.9v5.4h-21.9zM3972.1 2816.1h21.9v5.4h-21.9zM3972.1 2930.3h21.9v5.4h-21.9zM3993.7 3074.4h21.9v5.4h-21.9zM4015.2 2940.3h21.9v5.4h-21.9z" fill="#d08ea1"/>
<path d="M3864.5 3114.1h21.9v5.4h-21.9zM3972.1 3059.5h21.9v5.4h-21.9z" fill="#fdf0f0"/>
<path d="M3886 2890.6h21.9v5.4h-21.9zM3993.7 2831h21.9v5.4h-21.9zM4015.2 2880.7h21.9v5.4h-21.9z" fill="#6c94cc"/>
<path d="M3886 2910.5h21.9v5.4h-21.9zM3950.6 2950.2h21.9v5.4h-21.9zM3993.7 2960.2h21.9v5.4h-21.9zM3993.7 3119.1h21.9v5.4h-21.9z" fill="#e49ca7"/>
<path d="M3886 2945.2h21.9v5.4h-21.9zM3886 3109.2h21.9v5.4h-21.9zM3886 3129h21.9v5.4h-21.9zM3907.6 3024.7h21.9v5.4h-21.9zM3929.1 3094.3h21.9v5.4h-21.9zM3972.1 2850.9h21.9v5.4h-21.9zM3972.1 2955.2h21.9v5.4h-21.9zM3993.7 3084.3h21.9v5.4h-21.9zM3993.7 3094.3h21.9v5.4h-21.9zM4015.2 2811.1h21.9v5.4h-21.9z" fill="#d7c2d2"/>
<path d="M3907.6 3034.7h21.9v5.4h-21.9zM3993.7 2950.2h21.9v5.4h-21.9zM4015.2 3114.1h21.9v5.4h-21.9z" fill="#ccdaee"/>
<path d="M3907.6 3104.2h21.9v5.4h-21.9zM3950.6 2885.6h21.9v5.4h-21.9zM3993.7 2890.6h21.9v5.4h-21.9zM3993.7 2980h21.9v5.4h-21.9zM4015.2 3099.2h21.9v5.4h-21.9z" fill="#c2c4dd"/>
<path d="M3929.1 2821.1h21.9v5.4h-21.9zM3972.1 2920.4h21.9v5.4h-21.9z" fill="#f4a8ac"/>
<path d="M3929.1 3119.1h21.9v5.4h-21.9zM3993.7 2930.3h21.9v5.4h-21.9zM4015.2 3129h21.9v5.4h-21.9z" fill="#c4d4ec"/>
<path d="M3950.6 2935.3h21.9v5.4h-21.9zM3972.1 2999.9h21.9v5.4h-21.9zM4015.2 2905.5h21.9v5.4h-21.9z" fill="#9c688d"/>
<path d="M3950.6 2980h21.9v5.4h-21.9zM3972.1 2870.7h21.9v5.4h-21.9zM3972.1 2880.7h21.9v5.4h-21.9zM4015.2 2970.1h21.9v5.4h-21.9z" fill="#e8b8c2"/>
<path d="M3950.6 3054.5h21.9v5.4h-21.9z" fill="#f8c4c8"/>
<path d="M3950.6 3099.2h21.9v5.4h-21.9z" fill="#a6b0d1"/>
<path d="M3972.1 2890.6h21.9v5.4h-21.9zM3993.7 2845.9h21.9v5.4h-21.9z" fill="#a084a8"/>
<text x="3845" y="3206" font-size="66" font-style="italic" >F</text>
<text x="3879" y="3219" font-size="37" font-style="italic" >drug / target</text>
<path d="M4157 2160V2890Q4157 2959 4090 2959H4042" fill="none" stroke="#000" stroke-width="3.2" stroke-dasharray="8.3 10" stroke-linecap="round" marker-end="url(#ah)"/>
<path d="M3843 2957Q3800 2960 3788 2930Q3770 2870 3758 2800Q3745 2722 3707 2712" fill="none" stroke="#000" stroke-width="3" stroke-dasharray="8.3 10" stroke-linecap="round" marker-end="url(#ah)"/>
<path d="M3843 2957Q3790 2962 3780 2985Q3770 3020 3707 3024.5" fill="none" stroke="#000" stroke-width="3" stroke-dasharray="8.3 10" stroke-linecap="round" marker-end="url(#ah)"/>
<path d="M3843 2957Q3795 2965 3785 3010Q3770 3090 3762 3250Q3758 3400 3712 3432" fill="none" stroke="#000" stroke-width="3" stroke-dasharray="8.3 10" stroke-linecap="round" marker-end="url(#ah)"/>
<path d="M2270.5 3254V2760Q2270.5 2669 2164 2669" fill="none" stroke="#000" stroke-width="3" stroke-dasharray="8.3 10" stroke-linecap="round"/>
<path d="M2164 2669Q2105 2650 2087 2588Q2078 2550 2067 2508Q2055 2471 1976 2471" fill="none" stroke="#000" stroke-width="3" stroke-dasharray="8.3 10" stroke-linecap="round" marker-end="url(#ah)"/>
<path d="M2164 2669Q2110 2680 2099 2726Q2090 2780 2083 2845Q2078 2923 1979 2923.5" fill="none" stroke="#000" stroke-width="3" stroke-dasharray="8.3 10" stroke-linecap="round" marker-end="url(#ah)"/>
</svg></body></html>
